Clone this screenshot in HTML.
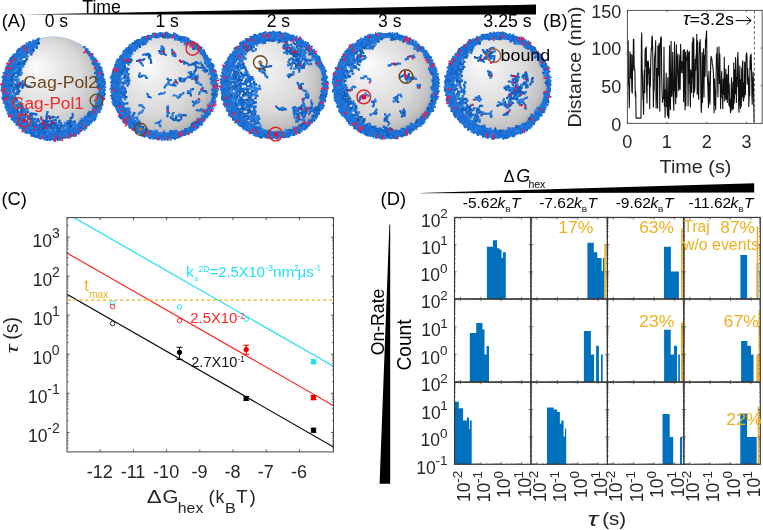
<!DOCTYPE html><html><head><meta charset="utf-8"><style>html,body{margin:0;padding:0;background:#fff;}svg{display:block;will-change:transform;}text{font-family:"Liberation Sans",sans-serif;}</style></head><body>
<svg width="763" height="530" viewBox="0 0 763 530">
<defs><radialGradient id="sph" cx="0.45" cy="0.45" r="0.56" fx="0.33" fy="0.28"><stop offset="0" stop-color="#fcfcfc"/><stop offset="0.3" stop-color="#ebebeb"/><stop offset="0.65" stop-color="#d9d9d9"/><stop offset="0.86" stop-color="#c2c2c2"/><stop offset="1" stop-color="#a2a2a2"/></radialGradient></defs>
<rect width="763" height="530" fill="#fff"/>
<text transform="translate(82.6,12.8) scale(1.011,1)" x="-0.35" font-size="17.5" fill="#000">Time</text>
<polygon points="24,14.6 536,4.6 536,14.6" fill="#000"/>
<text transform="translate(2.9,26.6) scale(1.034,1)" x="-1.05" font-size="17.5" fill="#000">(A)</text>
<text transform="translate(45.4,26.8)" x="-0.7" font-size="17.5" fill="#000">0 s</text>
<text transform="translate(156.8,26.8)" x="-1.31" font-size="17.5" fill="#000">1 s</text>
<text transform="translate(267.5,26.5)" x="-0.88" font-size="17.5" fill="#000">2 s</text>
<text transform="translate(378.8,26.5)" x="-0.7" font-size="17.5" fill="#000">3 s</text>
<text transform="translate(484,26.5) scale(1.018,1)" x="-0.7" font-size="17.5" fill="#000">3.25 s</text>
<circle cx="53.3" cy="88.3" r="51.3" fill="url(#sph)"/>
<path fill="#1e72d6" fill-rule="evenodd" d="M104.9,88.3 L104.9,86.5 L104.8,84.7 L104.6,82.9 L104.4,81.1 L104.1,79.3 L103.8,77.6 L103.4,75.8 L102.9,74.1 L102.4,72.4 L101.8,70.7 L101.1,69.0 L100.4,67.3 L99.7,65.7 L98.9,64.1 L98.0,62.5 L97.1,61.0 L96.1,59.4 L95.0,58.0 L94.0,56.5 L92.8,55.1 L91.6,53.8 L90.4,52.5 L89.1,51.2 L87.8,50.0 L86.5,48.8 L85.1,47.6 L83.6,46.6 L82.2,45.5 L80.6,44.5 L79.1,43.6 L77.5,42.7 L75.9,41.9 L74.3,41.2 L72.6,40.5 L70.9,39.8 L69.2,39.2 L67.5,38.7 L65.8,38.2 L64.0,37.8 L62.3,37.5 L60.5,37.2 L58.7,37.0 L56.9,36.8 L55.1,36.7 L53.3,36.7 L51.5,36.7 L49.7,36.8 L47.9,37.0 L46.1,37.2 L44.3,37.5 L42.6,37.8 L40.8,38.2 L39.1,38.7 L37.4,39.2 L35.7,39.8 L34.0,40.5 L32.3,41.2 L30.7,41.9 L29.1,42.7 L27.5,43.6 L26.0,44.5 L24.4,45.5 L23.0,46.6 L21.5,47.6 L20.1,48.8 L18.8,50.0 L17.5,51.2 L16.2,52.5 L15.0,53.8 L13.8,55.1 L12.6,56.5 L11.6,58.0 L10.5,59.4 L9.5,61.0 L8.6,62.5 L7.7,64.1 L6.9,65.7 L6.2,67.3 L5.5,69.0 L4.8,70.7 L4.2,72.4 L3.7,74.1 L3.2,75.8 L2.8,77.6 L2.5,79.3 L2.2,81.1 L2.0,82.9 L1.8,84.7 L1.7,86.5 L1.7,88.3 L1.7,90.1 L1.8,91.9 L2.0,93.7 L2.2,95.5 L2.5,97.3 L2.8,99.0 L3.2,100.8 L3.7,102.5 L4.2,104.2 L4.8,105.9 L5.5,107.6 L6.2,109.3 L6.9,110.9 L7.7,112.5 L8.6,114.1 L9.5,115.6 L10.5,117.2 L11.6,118.6 L12.6,120.1 L13.8,121.5 L15.0,122.8 L16.2,124.1 L17.5,125.4 L18.8,126.6 L20.1,127.8 L21.5,129.0 L23.0,130.0 L24.4,131.1 L26.0,132.1 L27.5,133.0 L29.1,133.9 L30.7,134.7 L32.3,135.4 L34.0,136.1 L35.7,136.8 L37.4,137.4 L39.1,137.9 L40.8,138.4 L42.6,138.8 L44.3,139.1 L46.1,139.4 L47.9,139.6 L49.7,139.8 L51.5,139.9 L53.3,139.9 L55.1,139.9 L56.9,139.8 L58.7,139.6 L60.5,139.4 L62.3,139.1 L64.0,138.8 L65.8,138.4 L67.5,137.9 L69.2,137.4 L70.9,136.8 L72.6,136.1 L74.3,135.4 L75.9,134.7 L77.5,133.9 L79.1,133.0 L80.6,132.1 L82.2,131.1 L83.6,130.0 L85.1,129.0 L86.5,127.8 L87.8,126.6 L89.1,125.4 L90.4,124.1 L91.6,122.8 L92.8,121.5 L94.0,120.1 L95.0,118.6 L96.1,117.2 L97.1,115.6 L98.0,114.1 L98.9,112.5 L99.7,110.9 L100.4,109.3 L101.1,107.6 L101.8,105.9 L102.4,104.2 L102.9,102.5 L103.4,100.8 L103.8,99.0 L104.1,97.3 L104.4,95.5 L104.6,93.7 L104.8,91.9 L104.9,90.1ZM98.7,89.9 L98.8,91.5 L98.7,93.1 L98.4,94.6 L97.8,96.1 L97.0,97.6 L96.2,99.0 L95.7,100.5 L95.4,102.0 L95.2,103.5 L95.0,105.1 L94.5,106.6 L93.7,108.0 L92.7,109.3 L91.7,110.5 L90.5,111.5 L89.4,112.6 L88.4,113.8 L87.4,114.9 L86.2,115.9 L84.8,116.7 L83.7,117.7 L82.7,118.7 L81.6,119.7 L80.5,120.7 L79.7,122.1 L78.7,123.3 L77.3,123.9 L75.7,124.2 L74.5,124.9 L73.2,125.6 L71.8,126.3 L70.5,126.9 L69.1,127.5 L67.8,128.0 L66.4,128.5 L65.0,129.0 L63.5,129.3 L62.1,129.7 L60.6,130.0 L59.2,130.2 L57.7,130.4 L56.3,130.5 L54.8,130.6 L53.3,130.6 L51.8,130.6 L50.3,130.5 L48.9,130.4 L47.4,130.2 L46.0,130.0 L44.5,129.7 L43.1,129.3 L41.6,129.0 L40.2,128.5 L38.8,128.0 L37.5,127.5 L36.1,126.9 L34.8,126.3 L33.4,125.6 L32.1,124.9 L30.9,124.2 L29.6,123.4 L28.4,122.5 L27.3,121.6 L26.1,120.7 L25.0,119.7 L23.9,118.7 L22.9,117.7 L21.9,116.6 L20.9,115.5 L20.0,114.3 L19.1,113.2 L18.2,112.0 L17.4,110.7 L16.7,109.5 L16.0,108.2 L15.3,106.8 L14.7,105.5 L14.1,104.1 L13.6,102.8 L13.1,101.4 L12.6,100.0 L12.3,98.5 L11.9,97.1 L11.6,95.6 L11.4,94.2 L11.2,92.7 L11.1,91.3 L11.0,89.8 L11.0,88.3 L11.0,86.8 L11.1,85.3 L11.2,83.9 L11.4,82.4 L11.6,81.0 L11.9,79.5 L12.3,78.1 L12.6,76.6 L13.1,75.2 L13.6,73.8 L14.1,72.5 L14.7,71.1 L15.3,69.8 L16.0,68.4 L16.7,67.2 L17.4,65.9 L18.2,64.6 L19.1,63.4 L20.0,62.3 L20.9,61.1 L21.9,60.0 L22.9,58.9 L23.9,57.9 L25.0,56.9 L26.1,55.9 L27.3,55.0 L28.4,54.1 L29.6,53.2 L30.9,52.4 L32.2,51.7 L33.2,50.5 L34.2,49.1 L35.3,47.9 L36.6,46.9 L37.8,45.8 L38.6,42.9 L39.5,40.1 L40.9,38.5 L42.6,38.1 L44.4,37.8 L46.2,37.5 L47.9,37.3 L49.7,37.1 L51.5,37.0 L53.3,37.0 L55.1,37.0 L56.9,37.1 L58.7,37.3 L60.4,37.5 L62.2,37.8 L64.0,38.1 L65.7,38.5 L67.4,39.0 L69.2,39.5 L70.8,40.1 L72.5,40.7 L74.2,41.4 L75.8,42.2 L77.4,43.0 L79.0,43.9 L80.5,44.8 L82.0,45.8 L83.5,46.8 L84.6,48.2 L85.3,50.2 L85.8,52.2 L86.8,53.6 L87.8,54.9 L88.9,56.3 L89.9,57.6 L90.7,59.1 L91.4,60.6 L92.1,62.1 L92.7,63.7 L93.3,65.2 L94.1,66.6 L94.8,68.1 L95.3,69.6 L95.6,71.2 L95.7,72.9 L95.8,74.5 L95.9,76.1 L96.2,77.6 L96.8,79.1 L97.5,80.5 L98.0,82.0 L98.4,83.6 L98.5,85.1 L98.6,86.7 L98.6,88.3Z"/>
<path fill="#1b6fd6" d="M30.8 50.7h2.7v2.6h-2.7zM23.7 55.6h2.5v2.4h-2.5zM21.6 60.3h2.7v2.3h-2.7zM20.7 62.7h2.8v2.3h-2.8zM15.8 66.7h2.7v2.6h-2.7zM13.5 71.7h2.5v2.8h-2.5zM18.9 73.9h2.6v2.4h-2.6zM15.8 75.9h2.7v2.5h-2.7zM12.8 78.6h2.5v2.2h-2.5zM14.4 78.8h2.7v2.6h-2.7zM18.4 81.2h2.2v2.3h-2.2zM96.0 81.0h2.5v2.4h-2.5zM12.7 82.8h2.2v2.3h-2.2zM16.9 82.6h2.8v2.8h-2.8zM18.2 85.3h2.2v2.7h-2.2zM16.1 90.2h2.8v2.4h-2.8zM12.6 92.0h2.2v2.5h-2.2zM97.6 92.1h2.4v2.3h-2.4zM13.3 99.5h2.4v2.4h-2.4zM17.5 101.6h2.3v2.9h-2.3zM16.0 103.8h2.7v2.4h-2.7zM14.5 106.4h2.2v2.2h-2.2zM16.5 105.7h2.9v2.5h-2.9zM21.5 106.4h2.7v2.3h-2.7zM92.3 105.8h2.9v2.6h-2.9zM22.8 107.9h2.5v2.6h-2.5zM21.6 110.9h2.7v2.5h-2.7zM23.6 110.6h2.5v2.3h-2.5zM25.0 113.0h2.6v2.3h-2.6zM22.1 115.0h2.2v2.5h-2.2zM23.5 115.1h2.7v2.5h-2.7zM26.4 115.5h2.4v2.7h-2.4zM30.7 114.8h2.3v2.8h-2.3zM84.0 115.5h2.3v2.4h-2.3zM23.0 117.2h2.7v2.8h-2.7zM33.9 117.9h2.4v2.4h-2.4zM36.5 117.9h2.7v2.5h-2.7zM35.6 119.8h2.8v2.8h-2.8zM37.3 119.4h2.9v2.7h-2.9zM44.2 119.9h2.9v2.8h-2.9zM34.0 121.9h2.8v2.3h-2.8zM38.7 122.6h2.8v2.2h-2.8zM40.8 122.3h2.9v2.9h-2.9zM43.4 122.2h2.6v2.5h-2.6zM46.0 122.3h2.5v2.4h-2.5zM54.9 121.8h2.5v2.7h-2.5zM59.4 122.1h2.5v2.7h-2.5zM73.5 122.2h2.6v2.4h-2.6zM77.8 122.0h2.5v2.5h-2.5zM32.8 124.2h2.3v2.4h-2.3zM37.8 124.4h2.3v2.7h-2.3zM44.7 124.2h2.3v2.3h-2.3zM63.1 124.6h2.3v2.2h-2.3zM67.3 124.7h2.8v2.6h-2.8zM36.1 126.6h2.8v2.3h-2.8zM41.3 126.9h2.7v2.5h-2.7zM48.4 126.8h2.3v2.5h-2.3zM59.4 127.0h2.4v2.6h-2.4zM62.2 126.7h2.6v2.6h-2.6zM65.9 126.9h2.8v2.8h-2.8zM46.9 128.8h2.6v2.7h-2.6zM51.8 129.1h2.3v2.5h-2.3zM56.6 139.6h1.5v1.6h-1.5zM37.9 137.5h1.4v1.5h-1.4zM102.1 104.1h1.4v1.5h-1.4zM4.5 69.5h1.7v1.4h-1.7zM102.8 98.2h1.7v1.6h-1.7zM104.3 89.0h1.7v1.6h-1.7zM20.1 46.6h1.7v1.5h-1.7zM85.5 126.6h1.5v1.6h-1.5zM74.3 134.4h2.0v1.9h-2.0zM99.9 68.8h2.0v1.4h-2.0zM99.3 65.9h1.6v1.5h-1.6zM8.6 114.4h2.0v1.5h-2.0zM101.7 71.0h1.6v1.7h-1.6zM30.6 134.1h2.0v2.0h-2.0zM26.7 43.1h1.8v1.7h-1.8zM102.5 73.2h1.7v1.8h-1.7zM73.9 134.2h1.9v1.9h-1.9zM103.9 83.1h1.7v1.9h-1.7zM34.9 136.0h1.4v2.0h-1.4zM25.2 131.2h1.7v1.9h-1.7zM43.4 137.8h1.8v1.9h-1.8zM36.2 39.1h2.0v1.4h-2.0zM53.5 139.7h1.6v1.4h-1.6zM8.2 113.6h1.7v1.4h-1.7zM100.4 68.3h2.0v1.7h-2.0zM8.1 114.1h1.7v1.4h-1.7zM39.7 138.0h1.8v1.8h-1.8zM37.4 38.1h1.7v1.4h-1.7zM100.3 66.7h2.0v1.7h-2.0zM88.0 124.7h1.8v1.4h-1.8zM91.9 53.5h1.8v1.8h-1.8zM103.7 93.1h1.5v2.0h-1.5zM5.2 107.6h1.4v1.5h-1.4zM100.3 107.7h1.8v1.8h-1.8zM4.8 67.1h1.4v1.6h-1.4zM83.4 128.4h1.6v1.7h-1.6zM98.6 111.2h1.5v1.8h-1.5zM99.2 111.1h1.5v1.9h-1.5zM93.6 118.5h1.3v1.6h-1.3zM104.1 89.1h1.3v1.5h-1.3zM25.7 42.3h1.4v2.0h-1.4zM13.7 121.0h1.8v1.3h-1.8zM1.3 97.8h1.9v1.5h-1.9zM1.8 80.6h1.9v1.6h-1.9zM98.8 65.6h1.3v1.8h-1.3zM87.0 48.6h1.6v1.3h-1.6zM82.8 46.5h1.3v1.4h-1.3zM12.4 53.8h1.7v1.5h-1.7zM103.3 85.2h2.0v1.7h-2.0zM18.0 48.0h1.9v1.6h-1.9zM43.6 138.3h1.4v1.9h-1.4zM101.3 104.8h1.4v1.8h-1.4zM100.4 68.2h2.0v2.0h-2.0zM53.0 138.6h1.6v1.9h-1.6zM19.2 48.0h1.7v1.6h-1.7zM5.0 66.8h1.7v1.5h-1.7zM2.2 76.2h1.5v1.7h-1.5zM46.7 138.9h1.3v2.0h-1.3zM103.5 78.7h1.9v1.7h-1.9zM2.7 72.0h1.8v1.9h-1.8zM6.2 64.6h1.6v1.7h-1.6zM94.6 57.8h1.9v1.5h-1.9zM29.7 41.6h1.4v1.7h-1.4zM3.0 100.2h1.4v1.3h-1.4zM91.3 53.1h1.6v1.7h-1.6zM8.1 114.2h1.5v1.7h-1.5zM103.6 93.1h1.4v1.8h-1.4zM0.8 86.9h1.6v1.5h-1.6zM83.8 129.4h2.0v1.3h-2.0zM103.3 98.2h1.9v1.4h-1.9zM57.2 138.4h1.4v1.8h-1.4zM18.3 125.6h1.9v1.6h-1.9zM2.8 75.2h1.5v1.5h-1.5zM77.7 133.2h1.6v1.8h-1.6zM35.4 136.7h1.8v1.3h-1.8zM98.7 63.0h1.7v2.0h-1.7zM102.1 75.3h2.0v1.5h-2.0zM29.3 41.3h1.8v1.5h-1.8zM21.9 46.6h1.6v1.4h-1.6zM69.5 137.0h1.7v1.5h-1.7zM101.4 102.3h1.8v1.9h-1.8zM9.6 115.6h1.4v1.4h-1.4zM9.8 58.0h1.7v1.9h-1.7zM102.7 95.6h1.9v1.7h-1.9zM8.2 113.3h1.7v1.9h-1.7zM39.1 136.8h1.3v1.9h-1.3zM100.9 106.8h1.4v1.6h-1.4zM2.1 76.3h1.5v1.8h-1.5zM88.9 50.9h1.5v1.6h-1.5zM11.8 119.6h1.8v1.3h-1.8zM16.2 124.0h1.6v1.6h-1.6zM103.3 79.2h1.4v1.8h-1.4zM97.0 62.6h2.0v1.4h-2.0zM1.5 96.6h1.7v1.7h-1.7zM104.5 86.6h1.8v1.7h-1.8zM85.3 48.0h2.0v1.9h-2.0zM1.4 97.4h2.0v1.6h-2.0zM6.8 112.5h1.3v2.0h-1.3zM0.3 84.6h1.6v1.5h-1.6zM16.5 123.6h1.6v1.8h-1.6zM1.3 86.5h1.3v1.5h-1.3zM6.2 64.6h1.7v1.9h-1.7zM5.4 67.1h1.3v1.4h-1.3zM13.4 120.9h1.7v2.0h-1.7zM22.1 83.5h2.0v2.5h-2.0zM16.6 86.1h2.1v2.2h-2.1zM14.9 86.0h2.3v2.3h-2.3zM21.9 83.0h2.5v2.2h-2.5zM16.5 85.4h2.1v2.2h-2.1zM25.3 84.4h2.1v2.4h-2.1zM26.8 85.6h2.0v2.4h-2.0zM14.5 61.1h2.2v2.4h-2.2zM12.5 63.7h2.0v2.3h-2.0zM10.7 64.5h2.0v2.1h-2.0zM19.2 63.8h2.0v2.5h-2.0zM17.8 60.6h2.2v2.0h-2.2zM19.4 62.3h2.4v2.2h-2.4zM16.4 62.3h2.3v2.1h-2.3zM45.9 114.9h2.4v2.2h-2.4zM46.3 111.1h2.3v2.4h-2.3zM44.1 129.5h2.5v2.1h-2.5zM50.1 116.6h2.4v2.2h-2.4zM48.5 115.6h2.4v2.1h-2.4zM45.0 119.4h2.2v2.1h-2.2zM41.4 124.5h2.1v2.4h-2.1zM53.6 116.3h2.0v2.0h-2.0zM44.2 119.8h2.0v2.0h-2.0zM45.4 118.3h2.3v2.3h-2.3zM46.3 116.6h1.9v2.0h-1.9zM49.0 123.3h2.4v2.2h-2.4zM52.4 122.7h2.5v2.4h-2.5zM66.3 121.0h2.1v2.2h-2.1zM71.8 114.5h2.2v2.4h-2.2zM71.6 112.7h2.1v2.3h-2.1zM75.5 125.4h2.2v2.1h-2.2zM71.4 121.0h2.0v2.1h-2.0zM32.4 128.9h1.9v2.1h-1.9zM30.0 131.9h2.2v2.2h-2.2zM35.7 130.9h1.9v2.0h-1.9zM37.4 133.8h2.2v2.5h-2.2zM39.2 134.1h2.3v2.3h-2.3zM31.7 123.5h2.0v1.9h-2.0zM33.5 123.9h2.0v2.4h-2.0zM35.3 129.0h1.9v2.2h-1.9zM34.3 126.9h2.0v2.2h-2.0zM33.3 130.2h1.9v2.4h-1.9zM36.3 128.3h2.2v2.0h-2.2zM36.2 126.4h2.0v2.0h-2.0zM35.7 124.3h2.4v2.4h-2.4zM35.4 132.8h1.9v2.0h-1.9zM36.6 134.3h1.9v2.1h-1.9zM38.6 127.9h2.1v2.0h-2.1zM32.5 125.6h2.4v2.1h-2.4zM33.0 122.4h2.0v2.0h-2.0zM34.6 122.5h2.4v2.2h-2.4z"/>
<path fill="#1565c8" d="M37.7 37.6h1.8v1.5h-1.8zM35.7 46.6h2.4v2.4h-2.4zM26.9 51.6h1.8v1.5h-1.8zM86.3 50.9h2.1v2.0h-2.1zM29.8 53.0h2.7v2.5h-2.7zM26.4 55.2h2.2v2.4h-2.2zM23.8 60.0h2.9v2.4h-2.9zM91.6 62.2h2.5v2.6h-2.5zM11.8 67.3h1.5v2.2h-1.5zM18.2 66.7h2.5v2.8h-2.5zM99.4 67.1h1.6v1.7h-1.6zM8.0 69.1h1.8v2.1h-1.8zM17.4 69.6h2.4v2.5h-2.4zM19.1 68.8h2.8v2.7h-2.8zM95.5 69.6h2.0v1.5h-2.0zM97.6 69.3h1.9v1.9h-1.9zM100.4 69.1h1.9v2.1h-1.9zM4.4 71.7h1.7v2.0h-1.7zM9.3 71.7h1.9v2.1h-1.9zM15.6 71.3h2.6v2.7h-2.6zM17.9 71.4h2.8v2.5h-2.8zM93.8 71.7h2.8v2.5h-2.8zM97.0 71.7h1.8v1.5h-1.8zM16.7 73.6h2.4v2.4h-2.4zM99.7 74.2h2.0v2.0h-2.0zM102.3 73.9h1.8v1.8h-1.8zM4.4 76.7h1.8v2.1h-1.8zM3.3 78.7h2.2v2.1h-2.2zM11.0 81.1h2.9v2.2h-2.9zM101.4 80.6h1.8v2.1h-1.8zM103.8 80.9h2.1v1.5h-2.1zM8.1 83.8h1.7v1.6h-1.7zM14.9 83.4h2.3v2.6h-2.3zM18.9 83.4h2.5v2.3h-2.5zM2.8 85.4h1.8v1.9h-1.8zM13.6 85.4h2.3v2.9h-2.3zM101.4 85.6h1.6v2.0h-1.6zM1.7 87.7h1.6v2.0h-1.6zM12.5 87.5h2.7v2.8h-2.7zM15.0 87.3h2.7v2.4h-2.7zM16.9 87.1h2.6v2.8h-2.6zM99.9 87.5h1.6v2.1h-1.6zM11.4 89.7h2.3v2.3h-2.3zM103.5 90.1h1.7v1.9h-1.7zM4.1 92.4h1.5v1.9h-1.5zM14.9 92.2h2.8v2.9h-2.8zM17.0 92.2h2.3v2.8h-2.3zM4.5 95.2h2.1v1.8h-2.1zM6.6 95.1h2.0v1.6h-2.0zM11.5 95.0h2.5v2.3h-2.5zM96.5 94.2h2.7v2.9h-2.7zM103.3 94.7h1.9v1.6h-1.9zM3.2 97.5h2.0v1.6h-2.0zM10.6 97.5h1.8v1.8h-1.8zM2.8 99.5h1.6v1.8h-1.6zM15.4 98.8h2.7v2.7h-2.7zM5.6 101.9h1.8v1.9h-1.8zM7.1 103.7h1.5v1.9h-1.5zM18.6 103.4h2.3v2.9h-2.3zM16.2 108.6h2.4v2.8h-2.4zM99.1 109.1h2.2v1.5h-2.2zM10.6 111.2h1.8v1.7h-1.8zM13.0 111.1h1.9v2.0h-1.9zM19.5 110.8h2.5v2.4h-2.5zM26.3 110.6h2.8v2.3h-2.8zM88.4 111.0h2.5v2.2h-2.5zM91.2 110.9h2.0v1.8h-2.0zM20.1 112.7h2.5v2.8h-2.5zM31.7 112.5h2.8v2.6h-2.8zM34.5 113.0h2.8v2.7h-2.8zM28.7 114.8h2.6v2.8h-2.6zM88.6 115.3h1.7v1.7h-1.7zM18.8 117.9h1.5v1.7h-1.5zM27.1 117.5h2.9v2.5h-2.9zM32.0 117.5h2.4v2.6h-2.4zM22.4 120.6h1.6v1.9h-1.6zM24.2 120.1h1.6v1.9h-1.6zM26.1 120.1h2.2v2.6h-2.2zM49.6 119.7h2.3v2.6h-2.3zM51.5 119.6h2.6v2.7h-2.6zM58.1 119.7h2.7v2.7h-2.7zM79.4 119.7h2.4v2.2h-2.4zM81.8 120.3h1.6v1.5h-1.6zM88.7 120.3h2.0v1.4h-2.0zM20.8 122.9h1.6v1.5h-1.6zM31.9 121.9h2.4v2.4h-2.4zM52.3 121.8h2.5v2.5h-2.5zM26.3 125.2h2.1v1.7h-2.1zM35.8 124.2h2.4v2.6h-2.4zM40.0 124.0h2.6v2.8h-2.6zM42.4 124.5h2.6v2.8h-2.6zM56.2 124.5h2.6v2.4h-2.6zM43.2 126.8h2.3v2.7h-2.3zM46.2 127.2h2.2v2.4h-2.2zM50.3 126.9h2.3v2.9h-2.3zM52.5 126.8h2.4v2.5h-2.4zM55.2 126.9h2.7v2.5h-2.7zM78.4 126.8h2.1v1.9h-2.1zM85.3 127.1h1.9v1.8h-1.9zM28.8 129.3h1.9v1.5h-1.9zM40.4 129.5h1.5v1.7h-1.5zM43.1 129.5h1.5v2.0h-1.5zM55.7 129.4h2.8v2.2h-2.8zM58.7 129.1h2.4v2.6h-2.4zM25.0 131.7h1.9v2.0h-1.9zM32.2 131.8h1.5v1.5h-1.5zM57.5 131.9h1.5v2.1h-1.5zM68.8 131.2h1.9v2.1h-1.9zM74.0 131.9h1.7v1.7h-1.7zM78.5 132.0h1.8v1.5h-1.8zM37.8 133.6h1.8v1.9h-1.8zM34.4 136.1h1.7v1.5h-1.7zM36.6 136.3h2.2v1.5h-2.2zM46.3 136.1h1.5v1.9h-1.5zM57.5 136.1h1.7v2.2h-1.7zM49.8 138.7h2.0v2.1h-2.0zM2.0 75.4h1.4v1.8h-1.4zM49.7 138.8h1.3v1.9h-1.3zM35.4 135.8h1.5v1.9h-1.5zM56.8 138.3h1.4v1.8h-1.4zM102.2 73.0h1.4v1.7h-1.4zM104.0 81.4h1.6v1.6h-1.6zM29.5 41.1h1.4v1.9h-1.4zM44.2 138.6h1.9v1.4h-1.9zM15.5 123.3h1.4v1.7h-1.4zM10.0 57.1h1.5v1.9h-1.5zM1.8 97.6h1.7v1.9h-1.7zM103.5 97.5h1.6v1.5h-1.6zM25.7 131.1h1.5v1.9h-1.5zM16.3 50.1h2.0v1.9h-2.0zM93.6 120.0h1.7v1.5h-1.7zM48.4 138.9h1.9v1.6h-1.9zM101.4 102.4h1.3v2.0h-1.3zM31.9 134.5h1.8v1.9h-1.8zM84.1 46.1h1.9v1.3h-1.9zM21.9 45.3h1.6v2.0h-1.6zM10.7 118.1h1.6v1.8h-1.6zM60.2 138.6h1.3v1.3h-1.3zM95.7 115.3h1.4v1.7h-1.4zM2.6 102.1h1.8v1.3h-1.8zM8.2 59.7h1.4v2.0h-1.4zM23.6 131.3h2.0v1.4h-2.0zM15.5 124.1h1.9v1.6h-1.9zM56.9 138.8h1.4v1.5h-1.4zM103.1 78.2h1.4v1.5h-1.4zM71.9 134.7h1.5v1.8h-1.5zM103.6 84.3h1.6v1.3h-1.6zM5.6 109.5h1.4v1.8h-1.4zM3.5 101.9h1.5v1.8h-1.5zM23.8 44.2h1.4v1.7h-1.4zM21.4 128.6h1.3v1.8h-1.3zM32.6 135.1h1.7v1.9h-1.7zM30.6 135.0h1.8v1.7h-1.8zM27.8 41.6h1.8v1.4h-1.8zM17.1 48.9h1.8v1.9h-1.8zM94.7 118.0h1.6v1.9h-1.6zM0.7 89.2h1.7v1.6h-1.7zM53.3 139.6h1.9v1.8h-1.9zM94.9 59.2h1.7v1.3h-1.7zM46.3 138.7h1.5v1.7h-1.5zM103.1 95.3h1.4v1.5h-1.4zM18.1 48.6h1.8v1.6h-1.8zM31.5 134.4h1.3v1.7h-1.3zM87.8 50.4h1.5v1.8h-1.5zM104.0 93.0h2.0v1.7h-2.0zM102.9 97.7h1.7v2.0h-1.7zM32.3 39.5h1.9v1.5h-1.9zM12.5 55.1h1.4v1.8h-1.4zM1.4 76.8h2.0v1.5h-2.0zM2.6 75.7h2.0v1.4h-2.0zM35.8 38.7h1.4v1.7h-1.4zM104.3 83.0h1.5v1.7h-1.5zM9.3 58.0h1.9v1.5h-1.9zM9.5 59.1h1.6v1.3h-1.6zM27.4 132.5h1.7v1.4h-1.7zM73.4 135.6h1.5v1.4h-1.5zM49.1 138.9h1.4v2.0h-1.4zM10.6 56.8h2.0v1.6h-2.0zM91.0 121.6h1.4v1.7h-1.4zM11.4 55.7h1.8v1.8h-1.8zM17.8 49.3h1.6v1.4h-1.6zM95.1 116.3h1.4v1.4h-1.4zM0.4 89.9h1.5v1.4h-1.5zM16.0 51.9h1.4v1.6h-1.4zM57.2 138.6h1.4v1.8h-1.4zM22.1 45.3h1.7v1.6h-1.7zM4.5 106.2h1.6v1.9h-1.6zM22.1 85.6h2.2v2.0h-2.2zM21.2 81.9h2.2v2.3h-2.2zM21.6 80.2h2.2v2.0h-2.2zM17.8 84.9h2.5v2.1h-2.5zM18.9 82.0h2.3v2.0h-2.3zM16.7 86.6h2.4v2.1h-2.4zM21.5 85.0h2.4v2.0h-2.4zM14.7 86.5h2.4v2.0h-2.4zM12.6 89.4h2.3v2.3h-2.3zM21.4 84.9h2.1v2.1h-2.1zM19.9 83.8h1.9v2.1h-1.9zM18.3 65.5h2.1v2.4h-2.1zM20.5 60.7h2.3v2.3h-2.3zM15.6 65.6h1.9v2.2h-1.9zM16.6 64.1h2.4v2.3h-2.4zM45.9 113.1h1.9v2.0h-1.9zM45.0 124.3h2.0v2.4h-2.0zM43.6 127.6h2.2v2.5h-2.2zM45.5 117.5h2.0v2.1h-2.0zM43.6 122.3h2.3v2.1h-2.3zM44.2 126.7h2.5v2.4h-2.5zM45.2 123.6h2.0v1.9h-2.0zM39.9 126.0h2.3v2.1h-2.3zM51.8 115.7h2.0v2.3h-2.0zM56.8 115.9h2.3v2.3h-2.3zM53.5 124.6h2.0v2.0h-2.0zM66.8 122.8h2.2v2.2h-2.2zM68.2 120.8h1.9v2.2h-1.9zM69.9 124.1h2.5v2.2h-2.5zM71.7 121.4h2.2v2.1h-2.2zM68.4 120.8h2.0v2.0h-2.0zM71.0 116.3h2.2v2.4h-2.2zM69.4 120.7h2.2v2.1h-2.2zM72.0 122.7h2.0v2.3h-2.0zM31.4 130.4h2.0v2.5h-2.0zM34.3 125.5h2.5v2.5h-2.5zM33.9 127.8h2.0v2.2h-2.0zM35.3 130.1h1.9v2.2h-1.9zM34.5 128.8h1.9v2.3h-1.9zM37.3 131.1h2.4v2.4h-2.4zM37.8 129.5h2.1v2.0h-2.1zM38.7 125.9h2.5v2.3h-2.5zM37.1 129.0h2.2v2.3h-2.2z"/>
<path fill="#2a80e0" d="M29.1 42.3h1.9v1.9h-1.9zM31.1 41.8h1.5v1.5h-1.5zM34.3 44.6h2.1v1.9h-2.1zM27.7 48.8h1.8v1.9h-1.8zM19.3 51.2h2.2v1.9h-2.2zM14.0 52.9h2.0v2.2h-2.0zM23.0 53.4h2.2v2.0h-2.2zM17.6 56.2h1.7v1.5h-1.7zM16.5 57.7h1.6v2.1h-1.6zM18.8 58.0h1.7v1.8h-1.7zM89.9 57.7h2.3v2.4h-2.3zM17.5 60.3h2.1v2.2h-2.1zM18.9 60.0h2.9v2.7h-2.9zM16.1 62.3h1.7v1.8h-1.7zM96.4 62.6h1.5v1.5h-1.5zM19.7 64.4h2.2v2.4h-2.2zM21.6 65.0h2.8v2.5h-2.8zM20.0 66.8h2.6v2.4h-2.6zM97.0 67.4h1.5v2.0h-1.5zM14.9 69.3h2.8v2.6h-2.8zM11.3 71.7h1.6v1.6h-1.6zM20.5 71.7h2.4v2.7h-2.4zM3.9 74.1h1.6v2.1h-1.6zM98.4 74.4h1.5v2.2h-1.5zM7.4 76.1h1.4v2.1h-1.4zM13.7 75.9h2.5v2.5h-2.5zM94.0 75.8h2.5v2.4h-2.5zM17.1 78.5h2.6v2.6h-2.6zM2.7 80.9h1.9v1.6h-1.9zM9.4 81.3h2.1v2.0h-2.1zM15.8 81.1h2.5v2.3h-2.5zM98.7 81.3h1.9v1.9h-1.9zM102.7 82.9h1.7v2.1h-1.7zM10.2 87.6h2.7v2.2h-2.7zM102.9 88.2h1.6v1.9h-1.6zM6.9 90.5h1.6v2.1h-1.6zM98.7 90.3h1.6v1.5h-1.6zM101.1 90.2h1.9v1.8h-1.9zM1.8 92.8h1.4v1.9h-1.4zM9.6 91.7h2.7v2.8h-2.7zM9.5 94.4h1.9v2.0h-1.9zM13.4 94.3h2.7v2.8h-2.7zM7.1 99.7h2.1v1.7h-2.1zM11.4 99.0h2.9v2.3h-2.9zM93.8 99.4h2.6v2.3h-2.6zM96.6 99.1h2.2v2.0h-2.2zM3.8 101.8h2.1v1.8h-2.1zM8.0 101.5h2.2v1.9h-2.2zM14.4 101.1h2.4v2.4h-2.4zM19.5 101.5h2.4v2.8h-2.4zM13.3 104.0h2.7v2.3h-2.7zM94.5 104.3h2.1v1.4h-2.1zM98.7 103.9h1.8v1.7h-1.8zM12.8 106.6h1.9v2.0h-1.9zM6.9 108.4h1.8v2.0h-1.8zM9.4 108.9h2.1v1.9h-2.1zM25.3 108.0h2.8v2.4h-2.8zM92.2 107.9h2.3v2.7h-2.3zM15.1 111.2h1.7v1.5h-1.7zM95.8 110.8h2.0v2.1h-2.0zM7.3 113.0h1.9v1.7h-1.9zM16.7 113.1h1.4v2.0h-1.4zM94.7 113.3h1.9v1.5h-1.9zM95.2 115.6h2.1v1.8h-2.1zM80.7 117.5h2.2v2.5h-2.2zM87.5 118.4h1.9v1.5h-1.9zM89.4 118.0h1.8v2.1h-1.8zM15.1 120.1h1.9v1.5h-1.9zM32.6 119.8h2.8v2.4h-2.8zM29.4 121.7h2.7v2.8h-2.7zM57.7 122.4h2.3v2.4h-2.3zM63.8 122.1h2.6v2.5h-2.6zM71.3 122.7h2.7v2.2h-2.7zM83.2 122.0h1.6v2.1h-1.6zM90.0 122.2h1.5v2.0h-1.5zM51.3 124.6h2.7v2.4h-2.7zM58.1 124.6h2.6v2.2h-2.6zM64.9 124.5h2.9v2.5h-2.9zM72.2 124.4h2.5v2.7h-2.5zM74.7 124.7h2.1v2.2h-2.1zM86.2 125.1h1.7v1.5h-1.7zM18.6 127.2h2.0v1.9h-2.0zM29.8 127.5h1.6v1.4h-1.6zM34.5 127.0h2.0v1.9h-2.0zM71.2 127.0h1.8v2.0h-1.8zM75.7 126.9h1.9v1.6h-1.9zM27.1 128.9h1.4v2.1h-1.4zM44.6 128.9h2.8v2.8h-2.8zM53.9 129.3h2.5v2.7h-2.5zM66.0 129.4h1.6v1.7h-1.6zM46.2 131.7h2.2v2.1h-2.2zM48.7 131.4h1.4v1.7h-1.4zM50.9 131.6h1.9v1.4h-1.9zM64.4 131.5h1.4v1.5h-1.4zM71.0 131.2h1.7v2.1h-1.7zM40.1 134.2h1.8v1.9h-1.8zM63.3 134.2h1.4v1.4h-1.4zM65.7 133.5h1.4v2.2h-1.4zM44.6 138.8h1.9v1.9h-1.9zM58.7 138.8h2.2v2.1h-2.2zM18.0 85.3h2.5v2.1h-2.5zM14.2 88.2h2.0v2.0h-2.0zM12.6 61.9h2.2v2.1h-2.2zM10.6 66.3h1.9v2.2h-1.9zM16.5 65.7h2.0v2.4h-2.0zM18.9 62.1h2.3v2.1h-2.3zM44.7 126.2h2.4v2.4h-2.4zM52.7 119.5h2.2v2.1h-2.2zM46.6 115.1h2.5v2.4h-2.5zM48.6 125.3h2.0v2.1h-2.0zM46.7 126.0h2.4v2.2h-2.4zM41.6 125.2h2.3v2.1h-2.3zM55.4 116.9h2.0v2.2h-2.0zM42.0 119.4h2.0v2.0h-2.0zM40.1 116.3h2.2v2.3h-2.2zM67.4 120.9h2.2v2.4h-2.2zM69.2 122.4h2.1v2.2h-2.1zM70.3 120.1h1.9v2.4h-1.9zM66.8 119.9h2.0v2.0h-2.0zM72.1 124.6h2.1v2.2h-2.1zM73.7 125.8h2.1v1.9h-2.1zM36.0 132.5h2.2v2.4h-2.2zM41.1 134.7h2.1v2.2h-2.1zM32.4 124.5h2.2v2.3h-2.2zM31.7 129.7h2.3v2.0h-2.3zM33.5 125.2h2.0v2.1h-2.0zM34.5 129.1h2.3v2.3h-2.3zM35.2 130.7h2.4v2.4h-2.4zM31.0 124.2h2.2v1.9h-2.2zM32.5 125.3h2.0v2.2h-2.0zM34.0 126.5h2.1v2.2h-2.1z"/>
<path fill="#0f5bb5" d="M37.2 42.0h2.8v2.4h-2.8zM32.3 49.0h2.4v2.5h-2.4zM25.4 57.7h2.5v2.7h-2.5zM18.2 62.0h2.6v2.8h-2.6zM22.8 62.1h2.6v2.8h-2.6zM12.5 73.9h2.6v2.4h-2.6zM10.9 76.0h2.6v2.7h-2.6zM10.5 78.8h2.6v2.3h-2.6zM95.4 78.2h2.7v2.5h-2.7zM9.9 83.5h2.8v2.2h-2.8zM97.8 83.5h2.2v2.2h-2.2zM11.0 85.3h2.7v2.3h-2.7zM16.0 85.2h2.6v2.4h-2.6zM96.5 85.1h2.8v2.8h-2.8zM17.8 89.8h2.7v2.8h-2.7zM12.3 97.3h2.6v2.2h-2.6zM14.9 97.1h2.2v2.8h-2.2zM12.2 101.3h2.5v2.6h-2.5zM20.1 104.2h2.8v2.2h-2.8zM19.5 106.2h2.5v2.4h-2.5zM20.4 108.4h2.8v2.9h-2.8zM16.8 110.6h2.4v2.7h-2.4zM29.3 112.6h2.8v2.5h-2.8zM87.1 112.6h2.5v2.8h-2.5zM29.3 117.4h2.8v2.7h-2.8zM30.8 120.2h2.3v2.2h-2.3zM42.3 120.0h2.4v2.4h-2.4zM46.6 120.2h2.7v2.4h-2.7zM50.6 121.8h2.6v2.7h-2.6zM66.4 122.5h2.3v2.4h-2.3zM68.6 122.2h2.7v2.6h-2.7zM47.2 124.6h2.4v2.6h-2.4zM49.1 124.7h2.6v2.3h-2.6zM54.2 124.0h2.3v2.8h-2.3zM60.3 124.4h2.7v2.6h-2.7zM69.6 124.7h2.6v2.6h-2.6zM57.5 127.0h2.4v2.4h-2.4zM17.9 83.3h2.0v2.3h-2.0zM21.1 86.9h2.4v1.9h-2.4zM17.5 83.9h2.0v1.9h-2.0zM23.7 83.8h2.0v1.9h-2.0zM28.6 85.5h2.3v2.1h-2.3zM17.9 84.5h2.4v2.1h-2.4zM17.7 63.1h2.2v2.1h-2.2zM49.0 117.4h2.0v2.2h-2.0zM43.4 131.2h2.3v2.3h-2.3zM50.1 124.2h1.9v2.1h-1.9zM51.7 123.1h2.0v2.2h-2.0zM54.5 119.1h2.3v2.1h-2.3zM52.1 116.3h2.0v2.0h-2.0zM45.5 115.5h2.1v2.4h-2.1zM43.7 120.9h2.4v1.9h-2.4zM42.6 126.2h2.1v2.0h-2.1zM41.4 127.5h2.0v2.0h-2.0zM43.3 124.1h2.1v2.2h-2.1zM45.4 120.8h2.3v2.0h-2.3zM43.8 119.9h1.9v2.5h-1.9zM50.8 122.3h2.1v2.1h-2.1zM68.9 120.0h2.4v2.2h-2.4zM68.9 125.8h2.2v2.0h-2.2zM73.5 120.3h2.0v2.4h-2.0zM69.4 117.3h2.3v2.4h-2.3zM31.6 124.3h2.5v2.1h-2.5zM31.9 123.9h1.9v2.2h-1.9z"/>
<path stroke="#e0205a" stroke-width="1.7" fill="none" d="M26.2 48.8L24.2 45.9M27.0 51.4L25.0 48.5M83.6 53.3L86.3 50.2M89.6 55.7L92.2 53.4M16.3 60.2L13.6 58.1M13.1 62.6L10.1 60.7M94.6 62.4L98.1 60.2M10.1 64.7L6.4 62.7M9.6 69.2L5.9 67.6M12.0 68.8L8.8 67.3M93.7 68.8L96.6 67.4M98.3 73.6L101.4 72.6M8.2 75.8L5.2 75.0M3.9 84.2L0.5 83.9M6.3 89.0L2.3 89.1M97.1 88.5L100.9 88.5M5.0 91.3L1.4 91.5M8.6 93.0L5.3 93.4M8.6 97.5L4.6 98.3M95.2 97.4L98.4 98.1M101.0 98.0L105.3 98.9M7.1 99.8L4.0 100.6M93.7 109.1L97.0 110.8M92.6 111.4L95.5 113.1M20.5 113.3L17.8 115.4M10.7 115.3L8.0 117.0M12.5 115.4L9.8 117.1M83.5 124.2L86.0 127.2M24.5 128.7L22.0 132.2M79.5 128.8L81.4 131.8M70.5 133.4L71.8 136.8M74.9 133.2L76.5 136.6M43.1 135.5L42.3 139.0M55.7 135.1L56.0 139.4M67.3 134.9L68.4 138.8M55.0 137.6L55.2 141.8M61.8 137.4L62.4 141.1"/>
<path fill="#d4134a" d="M18.1 82.9h2.4v2.3h-2.4zM47.6 116.0h2.1v2.3h-2.1zM52.1 121.2h2.4v2.4h-2.4zM41.9 121.5h2.5v2.1h-2.5zM41.7 122.9h2.5v2.0h-2.5zM45.0 126.2h2.0v2.3h-2.0zM43.1 127.3h2.3v1.9h-2.3zM47.0 123.5h2.1v2.3h-2.1zM40.3 118.3h2.3v2.2h-2.3zM33.8 126.0h2.1v1.9h-2.1zM33.7 129.1h2.0v2.0h-2.0z"/>
<circle cx="96.5" cy="100.4" r="6.3" fill="none" stroke="#6b4520" stroke-width="1.4"/>
<circle cx="96.5" cy="100.4" r="1.8" fill="#8a6a4a"/>
<circle cx="24.2" cy="120.6" r="6.3" fill="none" stroke="#e8202a" stroke-width="1.4"/>
<circle cx="24.2" cy="120.6" r="2.2" fill="#e01040"/>
<text transform="translate(24.2,88.3) scale(1.035,1)" x="-0.86" font-size="17.1" fill="#6b4520">Gag-Pol2</text>
<text transform="translate(12,109.3) scale(1.007,1)" x="-0.86" font-size="17.1" fill="#ee2a2a">Gag-Pol1</text>
<circle cx="164" cy="86.5" r="53" fill="url(#sph)"/>
<path fill="#1e72d6" fill-rule="evenodd" d="M217.3,86.5 L217.3,84.6 L217.2,82.8 L217.0,80.9 L216.8,79.1 L216.5,77.2 L216.1,75.4 L215.7,73.6 L215.2,71.8 L214.7,70.0 L214.1,68.3 L213.4,66.5 L212.7,64.8 L211.9,63.1 L211.1,61.5 L210.2,59.9 L209.2,58.3 L208.2,56.7 L207.1,55.2 L206.0,53.7 L204.8,52.2 L203.6,50.8 L202.3,49.5 L201.0,48.2 L199.7,46.9 L198.3,45.7 L196.8,44.5 L195.3,43.4 L193.8,42.3 L192.2,41.3 L190.7,40.3 L189.0,39.4 L187.4,38.6 L185.7,37.8 L184.0,37.1 L182.2,36.4 L180.5,35.8 L178.7,35.3 L176.9,34.8 L175.1,34.4 L173.3,34.0 L171.4,33.7 L169.6,33.5 L167.7,33.3 L165.9,33.2 L164.0,33.2 L162.1,33.2 L160.3,33.3 L158.4,33.5 L156.6,33.7 L154.7,34.0 L152.9,34.4 L151.1,34.8 L149.3,35.3 L147.5,35.8 L145.8,36.4 L144.0,37.1 L142.3,37.8 L140.6,38.6 L139.0,39.4 L137.4,40.3 L135.8,41.3 L134.2,42.3 L132.7,43.4 L131.2,44.5 L129.7,45.7 L128.3,46.9 L127.0,48.2 L125.7,49.5 L124.4,50.8 L123.2,52.2 L122.0,53.7 L120.9,55.2 L119.8,56.7 L118.8,58.3 L117.8,59.9 L116.9,61.5 L116.1,63.1 L115.3,64.8 L114.6,66.5 L113.9,68.3 L113.3,70.0 L112.8,71.8 L112.3,73.6 L111.9,75.4 L111.5,77.2 L111.2,79.1 L111.0,80.9 L110.8,82.8 L110.7,84.6 L110.7,86.5 L110.7,88.4 L110.8,90.2 L111.0,92.1 L111.2,93.9 L111.5,95.8 L111.9,97.6 L112.3,99.4 L112.8,101.2 L113.3,103.0 L113.9,104.7 L114.6,106.5 L115.3,108.2 L116.1,109.9 L116.9,111.5 L117.8,113.2 L118.8,114.7 L119.8,116.3 L120.9,117.8 L122.0,119.3 L123.2,120.8 L124.4,122.2 L125.7,123.5 L127.0,124.8 L128.3,126.1 L129.7,127.3 L131.2,128.5 L132.7,129.6 L134.2,130.7 L135.8,131.7 L137.3,132.7 L139.0,133.6 L140.6,134.4 L142.3,135.2 L144.0,135.9 L145.8,136.6 L147.5,137.2 L149.3,137.7 L151.1,138.2 L152.9,138.6 L154.7,139.0 L156.6,139.3 L158.4,139.5 L160.3,139.7 L162.1,139.8 L164.0,139.8 L165.9,139.8 L167.7,139.7 L169.6,139.5 L171.4,139.3 L173.3,139.0 L175.1,138.6 L176.9,138.2 L178.7,137.7 L180.5,137.2 L182.2,136.6 L184.0,135.9 L185.7,135.2 L187.4,134.4 L189.0,133.6 L190.7,132.7 L192.2,131.7 L193.8,130.7 L195.3,129.6 L196.8,128.5 L198.3,127.3 L199.7,126.1 L201.0,124.8 L202.3,123.5 L203.6,122.2 L204.8,120.8 L206.0,119.3 L207.1,117.8 L208.2,116.3 L209.2,114.7 L210.2,113.2 L211.1,111.5 L211.9,109.9 L212.7,108.2 L213.4,106.5 L214.1,104.7 L214.7,103.0 L215.2,101.2 L215.7,99.4 L216.1,97.6 L216.5,95.8 L216.8,93.9 L217.0,92.1 L217.2,90.2 L217.3,88.4ZM212.6,88.2 L213.0,89.9 L213.2,91.7 L213.0,93.4 L212.5,95.1 L212.0,96.7 L211.4,98.3 L210.9,100.0 L210.5,101.6 L209.9,103.2 L209.1,104.7 L208.2,106.2 L207.2,107.6 L206.4,109.0 L205.6,110.5 L205.0,112.1 L204.3,113.7 L203.4,115.1 L202.3,116.4 L201.0,117.6 L199.6,118.6 L198.3,119.6 L197.1,120.8 L196.0,122.0 L194.9,123.3 L193.7,124.5 L192.4,125.6 L191.0,126.5 L189.6,127.4 L188.1,128.3 L186.7,129.2 L185.2,130.0 L183.7,130.8 L182.1,131.2 L180.3,131.3 L178.5,131.2 L176.8,131.1 L175.1,131.1 L173.5,131.3 L172.0,131.7 L170.4,132.1 L168.8,132.4 L167.2,132.5 L165.6,132.4 L164.0,132.3 L162.4,132.2 L160.8,132.3 L159.2,132.3 L157.6,132.2 L156.0,131.9 L154.5,131.3 L153.0,130.7 L151.5,130.1 L149.9,129.8 L148.3,129.7 L146.7,129.3 L145.2,128.8 L143.8,128.0 L142.6,126.7 L141.7,125.2 L140.7,123.8 L139.4,123.0 L138.1,122.1 L136.9,121.2 L135.7,120.2 L134.6,119.2 L133.4,118.2 L132.3,117.1 L131.3,115.9 L130.3,114.8 L129.3,113.6 L128.4,112.4 L127.5,111.1 L126.7,109.8 L125.9,108.5 L125.2,107.2 L124.5,105.8 L123.8,104.4 L123.2,103.0 L122.7,101.5 L122.2,100.1 L121.7,98.6 L121.3,97.1 L121.0,95.6 L120.7,94.1 L120.4,92.6 L120.2,91.1 L120.1,89.6 L120.0,88.0 L120.0,86.5 L120.0,85.0 L120.1,83.4 L120.2,81.9 L120.4,80.4 L120.7,78.9 L121.0,77.4 L121.3,75.9 L121.7,74.4 L122.2,72.9 L122.7,71.5 L123.2,70.0 L123.8,68.6 L124.5,67.2 L125.2,65.8 L125.9,64.5 L126.7,63.2 L127.5,61.9 L128.4,60.6 L129.3,59.4 L130.3,58.2 L130.5,56.4 L130.9,54.5 L131.7,53.0 L132.9,51.9 L134.2,50.9 L135.4,49.9 L136.7,48.9 L137.8,47.7 L139.1,46.6 L140.4,45.6 L141.8,44.8 L143.3,44.0 L144.7,43.1 L146.1,42.1 L147.4,41.0 L148.9,39.9 L150.4,38.9 L151.9,38.1 L153.6,37.7 L155.4,37.5 L157.1,37.3 L158.8,37.2 L160.5,37.1 L162.3,36.9 L164.0,36.8 L165.7,36.8 L167.5,37.1 L169.2,37.4 L170.9,37.7 L172.6,38.0 L174.3,38.2 L176.0,38.5 L177.6,38.9 L179.2,39.6 L180.8,40.5 L182.2,41.5 L183.6,42.4 L185.1,43.3 L186.6,44.0 L188.2,44.6 L189.7,45.3 L191.2,46.1 L192.6,47.1 L194.0,48.1 L195.4,49.1 L196.8,50.1 L198.1,51.1 L199.5,52.3 L200.6,53.5 L201.6,55.0 L202.3,56.5 L203.0,58.1 L203.8,59.7 L204.6,61.1 L205.6,62.5 L206.5,63.9 L207.4,65.3 L208.0,66.9 L208.5,68.5 L208.9,70.2 L209.3,71.8 L209.8,73.4 L210.3,74.9 L210.8,76.6 L211.1,78.2 L211.2,79.9 L211.2,81.5 L211.3,83.2 L211.6,84.8 L212.1,86.5Z"/>
<path fill="#1b6fd6" d="M174.1 38.0h2.4v2.4h-2.4zM176.8 37.9h2.3v2.8h-2.3zM145.6 40.0h2.6v2.7h-2.6zM144.2 42.3h2.4v2.6h-2.4zM135.4 47.0h2.8v2.6h-2.8zM133.9 49.3h2.3v2.4h-2.3zM131.0 52.2h2.2v2.6h-2.2zM199.6 52.0h2.5v2.6h-2.5zM126.1 61.4h2.6v2.5h-2.6zM128.6 60.8h2.3v2.7h-2.3zM204.0 61.3h2.3v2.7h-2.3zM206.3 65.4h2.7v2.3h-2.7zM125.0 67.6h2.8v2.8h-2.8zM123.7 70.3h2.9v2.5h-2.9zM125.9 70.4h2.2v2.9h-2.2zM127.2 73.0h2.4v2.6h-2.4zM126.2 75.4h2.8v2.3h-2.8zM125.3 77.3h2.3v2.5h-2.3zM126.9 77.1h2.8v2.7h-2.8zM119.1 79.5h2.3v2.5h-2.3zM128.1 79.5h2.4v2.3h-2.4zM120.2 81.6h2.6v2.5h-2.6zM127.4 82.0h2.6v2.8h-2.6zM121.6 84.4h2.7v2.4h-2.7zM122.9 86.7h2.5v2.7h-2.5zM119.3 88.4h2.4v2.6h-2.4zM123.8 88.3h2.6v2.8h-2.6zM211.1 88.6h2.3v2.5h-2.3zM122.4 91.3h2.9v2.2h-2.9zM212.1 90.6h2.4v2.5h-2.4zM123.3 93.3h2.7v2.9h-2.7zM120.4 96.0h2.7v2.2h-2.7zM121.9 102.0h2.2v2.8h-2.2zM123.3 102.4h2.6v2.7h-2.6zM126.1 107.4h2.8v2.5h-2.8zM127.5 109.3h2.4v2.7h-2.4zM128.3 111.3h2.9v2.6h-2.9zM200.9 114.4h2.3v2.3h-2.3zM135.4 116.6h2.8v2.4h-2.8zM191.1 123.1h2.7v2.8h-2.7zM155.7 129.9h2.3v2.5h-2.3zM163.0 130.6h2.2v2.3h-2.2zM169.2 130.0h2.8v2.8h-2.8zM172.0 130.6h2.9v2.2h-2.9zM174.5 129.8h2.6v2.4h-2.6zM181.2 129.9h2.6v2.3h-2.6zM200.9 47.1h1.8v1.4h-1.8zM114.1 65.2h1.7v1.7h-1.7zM112.1 69.5h1.4v1.7h-1.4zM123.0 120.9h1.7v1.7h-1.7zM136.5 38.9h1.9v1.7h-1.9zM184.1 134.2h1.7v1.8h-1.7zM206.4 116.5h2.0v1.3h-2.0zM178.5 136.3h1.6v2.0h-1.6zM193.0 41.2h1.8v1.4h-1.8zM125.3 122.4h1.7v1.9h-1.7zM109.4 88.2h1.9v1.5h-1.9zM216.9 90.2h1.6v1.4h-1.6zM132.1 42.6h1.4v2.0h-1.4zM193.4 41.5h1.3v1.5h-1.3zM122.3 51.3h1.7v1.5h-1.7zM144.2 36.2h1.4v1.3h-1.4zM216.7 92.7h1.5v1.5h-1.5zM136.9 131.9h1.9v1.7h-1.9zM192.1 41.4h1.6v1.5h-1.6zM213.6 103.1h1.4v1.5h-1.4zM112.1 103.0h1.4v1.3h-1.4zM147.0 34.8h2.0v1.4h-2.0zM135.5 131.6h1.5v1.8h-1.5zM117.1 59.1h1.6v1.8h-1.6zM124.8 48.5h1.7v1.5h-1.7zM136.6 39.0h2.0v1.6h-2.0zM215.9 96.1h1.6v1.3h-1.6zM110.5 88.0h1.7v1.8h-1.7zM156.0 137.9h1.8v1.9h-1.8zM110.4 87.8h1.7v1.9h-1.7zM153.7 32.5h1.7v1.8h-1.7zM166.0 31.8h1.9v1.7h-1.9zM202.9 49.3h1.5v1.6h-1.5zM119.0 116.8h1.4v1.4h-1.4zM192.3 41.3h1.4v1.5h-1.4zM148.4 35.1h1.6v1.4h-1.6zM112.3 71.7h1.3v1.3h-1.3zM111.7 101.2h1.9v1.5h-1.9zM138.6 39.0h1.7v1.6h-1.7zM152.8 32.5h1.9v1.8h-1.9zM156.9 33.1h1.5v1.6h-1.5zM126.7 47.2h1.3v1.5h-1.3zM152.0 33.0h1.7v1.4h-1.7zM173.2 32.5h1.3v2.0h-1.3zM148.3 136.6h1.9v1.4h-1.9zM153.2 33.3h2.0v1.5h-2.0zM173.8 138.0h2.0v1.8h-2.0zM120.0 55.0h1.7v1.9h-1.7zM143.4 136.1h2.0v1.3h-2.0zM203.5 49.6h1.5v1.5h-1.5zM143.8 135.0h1.6v2.0h-1.6zM113.7 67.6h1.4v2.0h-1.4zM128.7 43.9h2.0v1.9h-2.0zM185.5 36.8h1.8v1.4h-1.8zM114.4 64.7h1.9v1.6h-1.9zM161.3 139.8h1.6v1.4h-1.6zM208.1 113.9h1.6v1.9h-1.6zM191.1 130.3h1.6v1.8h-1.6zM211.0 63.2h1.7v1.9h-1.7zM217.0 88.0h2.0v1.7h-2.0zM206.4 54.9h1.8v1.7h-1.8zM140.6 134.6h1.8v1.9h-1.8zM196.7 44.6h1.8v1.8h-1.8zM216.3 75.0h1.5v1.9h-1.5zM193.6 129.2h1.5v1.5h-1.5zM114.7 64.8h1.5v1.4h-1.5zM119.7 55.3h1.5v1.7h-1.5zM164.4 32.0h1.5v1.5h-1.5zM116.5 58.6h1.9v1.8h-1.9zM109.7 76.8h1.8v1.6h-1.8zM134.7 41.2h2.0v1.4h-2.0zM119.1 55.7h1.4v1.5h-1.4zM175.0 32.9h1.3v1.6h-1.3zM114.5 63.9h1.9v1.7h-1.9zM133.2 129.6h1.8v1.5h-1.8zM201.7 123.5h1.5v1.4h-1.5zM174.6 137.5h1.8v1.4h-1.8zM115.6 60.5h1.8v2.0h-1.8zM111.1 74.3h1.5v1.8h-1.5zM188.8 132.2h1.3v1.8h-1.3zM201.0 122.3h1.6v1.9h-1.6zM155.7 33.2h1.4v2.0h-1.4zM167.0 139.4h1.8v1.7h-1.8zM128.3 125.5h1.6v1.4h-1.6zM159.1 32.1h1.8v1.8h-1.8zM210.1 58.8h1.6v1.8h-1.6zM119.1 115.0h1.8v1.8h-1.8zM195.3 129.2h1.4v1.5h-1.4zM130.9 43.0h1.4v1.3h-1.4zM143.8 35.9h1.6v1.9h-1.6zM216.4 84.8h1.7v1.7h-1.7zM170.1 139.1h1.4v1.8h-1.4zM110.4 75.5h1.8v1.7h-1.8zM142.1 37.1h1.6v1.9h-1.6zM110.9 77.2h2.0v1.7h-2.0zM110.4 87.5h1.4v2.0h-1.4zM215.5 94.5h1.6v2.0h-1.6zM152.6 33.5h1.6v1.3h-1.6zM216.0 85.6h1.7v1.5h-1.7zM214.8 69.3h1.3v1.9h-1.3zM124.2 49.6h1.9v2.0h-1.9zM163.8 139.1h2.0v1.6h-2.0zM167.3 32.8h1.6v1.9h-1.6zM110.8 78.1h1.9v1.5h-1.9zM142.1 135.2h1.6v1.6h-1.6zM153.7 32.6h1.4v1.8h-1.4zM125.8 47.7h1.7v1.7h-1.7zM123.4 121.1h1.4v1.9h-1.4zM215.6 95.5h1.4v1.4h-1.4zM122.0 120.6h1.9v1.7h-1.9zM212.5 107.7h1.7v2.0h-1.7zM209.7 113.0h1.4v1.7h-1.4zM132.8 129.2h1.5v1.7h-1.5zM187.8 38.3h2.0v1.8h-2.0zM160.9 33.0h1.8v1.5h-1.8zM154.1 33.0h1.6v1.9h-1.6zM132.1 42.3h2.0v2.0h-2.0zM116.8 111.0h1.8v1.7h-1.8zM216.6 90.3h1.6v1.8h-1.6zM161.5 49.8h2.5v2.4h-2.5zM161.9 46.5h2.5v2.4h-2.5zM160.6 45.2h2.2v2.5h-2.2zM160.3 48.1h2.2v2.5h-2.2zM164.7 53.8h2.1v2.2h-2.1zM158.6 51.9h2.4v1.9h-2.4zM144.6 53.4h2.2v2.3h-2.2zM146.2 52.7h2.4v1.9h-2.4zM147.1 52.7h2.0v2.5h-2.0zM143.8 53.3h2.2v2.0h-2.2zM148.1 54.3h2.3v2.4h-2.3zM149.1 57.8h2.3v2.3h-2.3zM141.4 58.9h2.3v2.4h-2.3zM141.9 64.5h2.1v2.1h-2.1zM127.9 59.0h1.9v2.2h-1.9zM174.3 53.2h2.1v1.9h-2.1zM174.1 54.9h2.4v2.3h-2.4zM194.4 62.4h1.9v2.1h-1.9zM197.9 62.6h2.0v1.9h-2.0zM195.5 66.0h2.4v1.9h-2.4zM197.3 66.3h2.3v2.4h-2.3zM167.7 79.0h2.4v2.4h-2.4zM169.7 79.0h2.3v2.1h-2.3zM167.4 80.3h2.4v2.0h-2.4zM167.2 82.2h2.3v2.0h-2.3zM164.3 84.7h2.4v2.0h-2.4zM172.9 81.8h2.2v2.0h-2.2zM174.7 84.5h1.9v2.1h-1.9zM174.3 79.2h2.4v2.1h-2.4zM182.5 80.1h2.5v2.4h-2.5zM180.7 80.4h2.4v1.9h-2.4zM184.3 77.8h2.0v2.1h-2.0zM187.3 75.7h2.4v2.2h-2.4zM191.8 73.5h2.1v2.4h-2.1zM193.0 72.3h2.2v2.1h-2.2zM194.9 67.1h2.1v2.0h-2.1zM190.2 71.1h2.0v2.2h-2.0zM193.9 74.7h1.9v2.1h-1.9zM190.8 74.5h2.0v2.4h-2.0zM191.2 77.7h2.0v2.4h-2.0zM187.7 71.4h2.3v2.3h-2.3zM189.3 72.6h2.1v2.1h-2.1zM196.2 78.1h2.1v2.5h-2.1zM196.4 76.5h2.3v2.0h-2.3zM200.0 83.5h2.3v2.4h-2.3zM192.6 77.3h2.3v2.3h-2.3zM194.7 76.5h2.2v2.5h-2.2zM201.4 88.5h2.2v2.5h-2.2zM201.5 86.7h2.5v2.0h-2.5zM198.7 91.2h2.0v2.1h-2.0zM198.2 93.0h2.1v2.1h-2.1zM161.9 92.6h2.1v2.0h-2.1zM158.2 93.0h2.0v2.2h-2.0zM177.0 96.3h2.4v2.4h-2.4zM178.8 95.6h2.2v2.1h-2.2zM179.0 93.7h2.3v2.2h-2.3zM166.4 105.6h2.4v2.1h-2.4zM166.7 110.2h2.4v1.9h-2.4zM167.4 111.8h2.5v2.1h-2.5zM166.4 113.5h2.5v2.0h-2.5zM138.8 111.5h2.2v2.2h-2.2zM141.6 105.5h2.3v2.4h-2.3zM178.2 113.6h1.9v2.5h-1.9zM180.9 114.5h1.9v2.2h-1.9zM180.4 117.4h2.0v2.3h-2.0zM178.9 118.9h2.2v2.0h-2.2zM193.6 101.0h2.4v2.1h-2.4zM193.2 102.9h2.3v2.0h-2.3zM192.3 104.4h2.4v2.4h-2.4zM193.4 101.4h2.1v2.4h-2.1zM195.2 101.6h2.4v2.2h-2.4zM195.6 101.8h2.0v2.4h-2.0zM197.1 101.3h2.4v2.0h-2.4zM186.8 92.0h2.1v2.3h-2.1zM173.7 118.5h2.5v2.3h-2.5zM171.4 113.2h2.0v2.5h-2.0zM174.8 118.4h2.4v2.5h-2.4zM158.1 121.6h1.9v2.0h-1.9zM159.1 124.9h2.5v2.4h-2.5zM156.5 121.7h2.1v2.3h-2.1zM149.4 96.5h2.2v2.0h-2.2zM147.5 96.0h2.4v2.0h-2.4zM203.3 66.8h2.3v2.2h-2.3zM203.9 68.6h1.9v2.0h-1.9zM202.8 66.9h2.0v2.2h-2.0zM201.5 109.1h2.1v2.5h-2.1zM204.0 111.7h2.2v2.0h-2.2zM197.7 109.3h2.2v2.1h-2.2zM205.4 111.1h2.3v2.1h-2.3zM182.2 60.3h2.1v2.0h-2.1zM183.1 62.3h2.3v2.4h-2.3zM139.2 75.5h2.3v2.4h-2.3zM138.7 72.3h2.1v2.1h-2.1zM138.2 76.0h2.0v2.1h-2.0zM188.3 126.8h2.2v2.4h-2.2zM192.5 124.0h2.3v2.4h-2.3zM196.1 125.8h2.2v2.4h-2.2z"/>
<path fill="#1565c8" d="M159.0 34.2h1.6v1.9h-1.6zM160.9 34.3h1.8v1.4h-1.8zM165.2 33.6h1.8v1.8h-1.8zM141.6 36.2h1.9v1.9h-1.9zM166.6 35.9h2.3v2.8h-2.3zM168.2 36.0h2.5v2.3h-2.5zM180.6 36.4h1.7v1.8h-1.7zM148.8 38.0h2.8v2.3h-2.8zM134.4 40.8h2.1v1.9h-2.1zM189.6 40.8h1.6v1.8h-1.6zM133.3 43.3h1.9v1.5h-1.9zM137.8 43.0h1.8v2.1h-1.8zM141.7 42.7h2.7v2.7h-2.7zM128.3 47.2h1.7v2.1h-1.7zM200.1 47.9h1.5v1.7h-1.5zM123.0 50.0h1.7v1.5h-1.7zM127.8 49.6h1.5v2.2h-1.5zM130.2 50.3h1.6v1.7h-1.6zM202.9 50.2h2.2v1.9h-2.2zM128.7 52.2h2.0v2.1h-2.0zM204.8 52.2h1.5v1.9h-1.5zM121.4 57.0h1.9v1.5h-1.9zM120.5 59.4h1.6v1.6h-1.6zM122.0 61.6h1.6v1.5h-1.6zM122.3 68.1h2.5v2.8h-2.5zM127.1 67.9h2.5v2.7h-2.5zM212.4 68.4h1.7v2.1h-1.7zM112.5 70.3h1.9v1.9h-1.9zM117.1 70.4h2.0v1.6h-2.0zM120.4 72.3h2.6v2.9h-2.6zM117.2 75.4h2.1v1.5h-2.1zM213.2 75.1h2.1v1.8h-2.1zM209.7 77.5h2.9v2.7h-2.9zM112.5 80.2h2.0v2.0h-2.0zM211.4 79.6h1.8v1.7h-1.8zM115.6 81.7h2.0v2.2h-2.0zM126.4 84.0h2.3v2.8h-2.3zM216.4 84.7h1.8v1.9h-1.8zM111.4 87.1h1.9v1.5h-1.9zM116.0 86.9h1.7v1.6h-1.7zM120.3 86.6h2.7v2.4h-2.7zM115.6 91.6h2.1v2.0h-2.1zM213.9 93.9h2.2v1.8h-2.2zM216.4 93.6h1.5v2.1h-1.5zM213.0 95.9h1.6v2.1h-1.6zM112.4 98.1h1.7v1.4h-1.7zM113.8 100.6h1.7v1.5h-1.7zM118.6 100.9h1.7v1.5h-1.7zM119.0 102.9h1.9v2.0h-1.9zM113.8 105.5h1.6v1.6h-1.6zM116.2 104.8h2.2v1.9h-2.2zM125.4 109.6h1.6v1.4h-1.6zM124.2 111.8h1.7v1.8h-1.7zM120.8 114.8h1.5v1.7h-1.5zM131.6 113.8h2.7v2.9h-2.7zM121.8 116.3h1.6v1.9h-1.6zM196.5 118.5h2.3v2.5h-2.3zM137.6 120.6h2.7v2.8h-2.7zM195.0 120.8h2.4v2.7h-2.4zM197.7 121.2h1.8v1.9h-1.8zM132.1 123.3h1.8v2.1h-1.8zM134.1 123.9h1.8v2.0h-1.8zM139.0 123.1h1.7v2.2h-1.7zM140.3 125.6h1.8v1.8h-1.8zM184.3 128.1h2.5v2.2h-2.5zM140.2 130.5h2.2v1.5h-2.2zM183.8 130.3h2.2v2.1h-2.2zM171.3 133.3h1.9v1.5h-1.9zM184.5 132.9h2.0v2.1h-2.0zM142.6 135.0h1.8v1.5h-1.8zM160.9 135.5h1.6v1.6h-1.6zM152.5 137.8h2.0v1.9h-2.0zM154.8 137.6h1.8v1.5h-1.8zM191.2 130.7h2.0v1.4h-2.0zM175.7 33.9h1.6v1.5h-1.6zM216.3 77.3h1.9v1.6h-1.9zM120.2 116.9h1.8v1.4h-1.8zM215.2 71.2h1.5v1.5h-1.5zM191.0 131.9h1.8v1.3h-1.8zM128.0 45.8h1.3v1.7h-1.3zM110.9 94.7h1.6v1.9h-1.6zM183.1 36.3h1.9v1.8h-1.9zM144.0 135.9h1.7v1.3h-1.7zM200.5 46.9h1.7v2.0h-1.7zM120.6 117.8h1.4v1.7h-1.4zM211.1 110.1h1.3v1.8h-1.3zM197.8 45.9h1.6v1.5h-1.6zM110.6 90.8h1.8v2.0h-1.8zM209.3 111.5h1.6v1.6h-1.6zM209.2 58.2h1.4v1.7h-1.4zM112.8 104.3h1.4v1.3h-1.4zM164.8 32.5h1.5v1.7h-1.5zM216.5 83.0h1.7v1.7h-1.7zM192.6 41.7h1.8v1.3h-1.8zM196.7 127.4h1.5v1.6h-1.5zM213.2 65.1h1.5v1.9h-1.5zM196.8 43.6h1.6v1.9h-1.6zM173.4 32.5h1.6v2.0h-1.6zM191.2 40.4h1.6v2.0h-1.6zM212.5 64.1h1.5v1.9h-1.5zM199.0 45.3h1.3v2.0h-1.3zM211.0 63.3h1.7v1.7h-1.7zM134.0 40.3h1.6v1.5h-1.6zM212.1 65.6h1.4v1.4h-1.4zM132.7 129.1h1.6v1.7h-1.6zM112.5 103.6h1.5v1.8h-1.5zM123.4 122.0h1.8v1.8h-1.8zM118.0 58.7h1.4v1.7h-1.4zM195.8 127.3h1.7v1.6h-1.7zM129.1 127.0h1.5v1.9h-1.5zM141.5 36.7h1.8v1.9h-1.8zM152.1 33.0h1.6v1.4h-1.6zM109.9 94.9h1.7v1.7h-1.7zM197.7 126.7h1.6v1.4h-1.6zM186.9 37.4h1.8v1.6h-1.8zM134.9 40.5h1.3v1.7h-1.3zM136.0 131.2h1.4v1.7h-1.4zM215.4 74.1h1.8v1.9h-1.8zM112.1 98.9h1.8v1.7h-1.8zM150.0 138.1h1.4v1.4h-1.4zM131.3 128.3h1.3v1.7h-1.3zM200.5 124.4h1.7v1.8h-1.7zM159.8 32.4h1.7v1.7h-1.7zM110.1 81.4h1.9v1.6h-1.9zM214.5 101.4h1.7v1.5h-1.7zM137.8 39.2h1.9v1.5h-1.9zM197.6 44.6h1.3v1.9h-1.3zM174.4 137.8h1.9v1.7h-1.9zM125.8 47.3h1.3v1.5h-1.3zM132.4 42.1h1.9v2.0h-1.9zM110.6 97.9h1.6v1.3h-1.6zM114.7 63.8h1.8v1.6h-1.8zM119.4 115.1h1.9v1.9h-1.9zM207.8 114.3h1.7v1.3h-1.7zM111.0 97.6h1.3v1.7h-1.3zM119.9 117.8h1.4v1.4h-1.4zM111.6 72.2h1.4v1.6h-1.4zM111.3 96.2h1.7v1.8h-1.7zM135.5 131.6h1.7v1.8h-1.7zM215.5 73.3h1.7v1.8h-1.7zM206.9 116.6h1.4v1.4h-1.4zM200.2 46.2h1.4v2.0h-1.4zM161.0 32.2h1.8v1.7h-1.8zM176.8 136.7h1.6v1.7h-1.6zM118.6 115.5h1.9v2.0h-1.9zM143.0 36.7h1.7v1.8h-1.7zM116.1 109.2h1.4v1.6h-1.4zM158.8 138.4h1.5v1.3h-1.5zM174.3 137.8h1.9v1.9h-1.9zM183.7 36.4h2.0v1.3h-2.0zM119.6 116.3h1.5v1.8h-1.5zM165.0 31.7h1.4v2.0h-1.4zM213.1 65.4h1.6v1.6h-1.6zM135.9 40.1h1.8v1.3h-1.8zM216.7 83.8h1.6v1.5h-1.6zM148.1 35.1h1.7v1.6h-1.7zM128.5 126.8h1.9v1.4h-1.9zM212.1 63.3h1.4v1.6h-1.4zM140.3 133.1h1.3v1.9h-1.3zM110.5 84.9h1.3v1.5h-1.3zM148.5 137.3h2.0v1.8h-2.0zM180.8 36.0h1.9v1.7h-1.9zM162.9 48.2h2.0v2.5h-2.0zM160.7 50.1h2.5v2.1h-2.5zM160.5 52.5h2.1v2.4h-2.1zM149.2 54.9h2.1v2.1h-2.1zM145.6 54.1h2.1v2.1h-2.1zM142.1 53.8h1.9v2.0h-1.9zM150.0 59.5h2.0v2.5h-2.0zM135.9 60.0h2.4v1.9h-2.4zM143.1 58.1h2.2v2.1h-2.2zM127.8 61.2h2.4v2.1h-2.4zM124.6 59.3h2.2v2.4h-2.2zM171.1 48.7h2.1v2.4h-2.1zM171.2 52.9h2.4v2.2h-2.4zM172.4 54.5h2.1v2.2h-2.1zM194.9 61.1h2.5v2.4h-2.5zM193.3 61.9h2.2v1.9h-2.2zM189.9 63.4h2.3v2.4h-2.3zM196.2 61.8h1.9v2.2h-1.9zM193.1 62.8h2.1v2.5h-2.1zM194.4 64.2h2.3v2.5h-2.3zM166.5 77.8h2.2v2.2h-2.2zM173.7 84.4h2.0v2.0h-2.0zM171.7 83.9h2.2v2.3h-2.2zM180.4 77.5h2.2v2.2h-2.2zM178.4 77.4h2.3v2.3h-2.3zM194.7 68.8h2.4v2.5h-2.4zM195.5 81.8h2.0v2.1h-2.0zM195.4 80.3h2.4v2.3h-2.4zM196.1 75.3h2.2v2.2h-2.2zM160.1 92.5h1.9v2.3h-1.9zM182.4 92.1h2.0v2.1h-2.0zM166.7 107.4h2.4v2.2h-2.4zM166.1 107.2h2.0v2.2h-2.0zM166.2 115.3h2.3v2.1h-2.3zM141.6 109.6h2.2v1.9h-2.2zM138.4 104.2h2.3v2.2h-2.3zM191.8 100.5h2.0v2.4h-2.0zM188.6 91.6h2.0v2.3h-2.0zM187.4 92.0h2.3v2.1h-2.3zM189.2 92.5h2.4v2.1h-2.4zM169.7 116.2h2.2v2.0h-2.2zM172.3 111.9h2.2v1.9h-2.2zM173.2 119.2h2.1v2.0h-2.1zM158.3 121.1h2.1v2.2h-2.1zM146.3 92.8h1.9v2.0h-1.9zM147.2 94.0h2.1v2.3h-2.1zM204.4 68.5h2.0v2.0h-2.0zM201.5 67.0h2.0v2.0h-2.0zM204.0 70.4h2.0v2.3h-2.0zM202.3 69.6h2.1v2.0h-2.1zM205.6 69.4h2.0v2.1h-2.0zM203.2 109.7h2.4v2.5h-2.4zM199.7 109.3h1.9v2.2h-1.9zM195.7 109.3h2.4v2.0h-2.4zM203.7 110.6h2.1v1.9h-2.1zM183.8 61.1h2.2v2.3h-2.2zM185.1 61.9h1.9v2.4h-1.9zM187.0 62.4h1.9v2.1h-1.9zM187.7 64.1h2.2v2.2h-2.2zM144.4 75.2h2.3v2.3h-2.3zM137.9 74.2h2.3v1.9h-2.3zM189.9 125.8h2.1v2.2h-2.1zM187.0 128.3h1.9v1.9h-1.9zM190.7 124.1h2.0v2.3h-2.0zM193.2 121.4h2.2v2.3h-2.2zM192.8 126.0h2.3v2.2h-2.3z"/>
<path fill="#2a80e0" d="M151.7 33.8h1.7v1.4h-1.7zM177.0 34.4h1.7v1.4h-1.7zM152.7 36.0h2.1v1.5h-2.1zM157.3 35.8h2.8v2.4h-2.8zM177.6 35.9h2.0v1.7h-2.0zM140.1 38.4h2.1v1.8h-2.1zM180.3 40.2h2.4v2.8h-2.4zM139.9 43.5h1.7v1.8h-1.7zM183.7 43.0h2.5v2.5h-2.5zM189.0 43.5h1.4v1.6h-1.4zM132.2 45.3h1.7v2.1h-1.7zM133.1 47.4h2.1v1.8h-2.1zM200.9 49.7h1.7v2.1h-1.7zM127.9 54.6h1.4v1.4h-1.4zM129.1 54.2h2.6v2.8h-2.6zM124.0 56.6h1.9v1.9h-1.9zM114.9 61.8h1.7v1.7h-1.7zM117.2 61.6h1.9v1.9h-1.9zM119.7 61.6h1.5v1.5h-1.5zM206.4 61.1h2.0v1.8h-2.0zM208.8 61.2h2.2v1.6h-2.2zM127.4 63.4h2.5v2.3h-2.5zM205.1 63.3h2.8v2.5h-2.8zM121.5 66.0h1.8v2.0h-1.8zM113.7 73.1h1.9v1.8h-1.9zM122.2 72.5h2.4v2.4h-2.4zM124.4 72.6h2.6v2.3h-2.6zM207.8 72.5h2.8v2.6h-2.8zM119.6 75.0h2.0v1.8h-2.0zM211.4 75.2h1.9v2.0h-1.9zM116.2 77.2h1.4v2.0h-1.4zM120.2 77.4h2.4v2.9h-2.4zM122.8 76.9h2.3v2.4h-2.3zM212.6 77.4h1.6v1.5h-1.6zM123.9 79.5h2.6v2.8h-2.6zM124.3 81.6h2.8v2.7h-2.8zM209.8 81.7h2.8v2.6h-2.8zM214.6 82.0h2.1v1.5h-2.1zM118.8 84.2h2.6v2.4h-2.6zM118.5 86.7h1.8v2.1h-1.8zM110.6 89.3h1.5v2.1h-1.5zM121.1 89.1h2.8v2.5h-2.8zM111.3 91.3h2.2v2.0h-2.2zM117.5 93.4h1.8v2.0h-1.8zM122.5 95.7h2.6v2.5h-2.6zM215.0 95.9h1.5v2.0h-1.5zM115.1 98.3h2.1v1.7h-2.1zM117.2 98.2h2.1v1.6h-2.1zM123.7 97.9h2.5v2.6h-2.5zM111.6 100.7h1.5v1.9h-1.5zM120.6 100.6h1.9v1.8h-1.9zM214.8 100.5h1.6v2.0h-1.6zM208.6 102.4h2.6v2.4h-2.6zM211.2 102.7h1.7v1.5h-1.7zM210.0 105.6h2.0v1.5h-2.0zM117.0 107.7h2.1v2.1h-2.1zM119.6 107.4h2.1v1.7h-2.1zM128.2 107.6h2.3v2.3h-2.3zM206.9 107.8h1.5v1.4h-1.5zM118.6 110.1h1.5v1.5h-1.5zM208.0 110.3h2.0v1.6h-2.0zM121.9 111.7h1.6v2.1h-1.6zM125.4 114.1h1.4v1.8h-1.4zM132.5 116.6h2.9v2.5h-2.9zM132.0 118.6h2.1v1.9h-2.1zM136.1 118.6h2.8v2.2h-2.8zM127.9 123.6h1.4v1.5h-1.4zM131.0 125.7h1.6v1.6h-1.6zM135.4 126.1h1.8v2.0h-1.8zM138.9 128.2h2.0v2.1h-2.0zM187.0 128.7h2.1v1.6h-2.1zM153.8 129.8h2.6v2.6h-2.6zM139.3 132.7h1.5v1.9h-1.5zM146.4 133.1h1.5v1.7h-1.5zM150.2 132.9h2.0v1.9h-2.0zM157.2 133.1h1.8v1.9h-1.8zM159.3 132.8h2.0v1.9h-2.0zM147.0 135.0h2.0v2.0h-2.0zM149.5 135.1h1.4v1.8h-1.4zM174.7 135.0h1.7v1.9h-1.7zM160.0 50.6h2.0v2.2h-2.0zM137.6 59.1h2.3v2.1h-2.3zM139.4 61.3h2.5v2.5h-2.5zM140.6 62.7h2.4v2.5h-2.4zM130.6 59.2h2.2v2.0h-2.2zM129.7 60.9h2.2v2.0h-2.2zM128.5 57.3h2.3v2.1h-2.3zM171.2 50.5h2.4v2.5h-2.4zM199.6 61.6h2.1v2.4h-2.1zM165.8 83.3h2.2v2.3h-2.2zM170.0 83.7h1.9v2.5h-1.9zM168.1 83.2h2.1v2.2h-2.1zM176.5 82.1h1.9v2.5h-1.9zM182.2 77.9h2.3v2.3h-2.3zM185.8 76.9h2.4v2.1h-2.4zM192.0 74.2h2.1v2.5h-2.1zM192.0 76.0h2.0v2.2h-2.0zM189.8 76.4h1.9v2.1h-1.9zM195.3 79.8h2.0v2.3h-2.0zM196.5 74.4h2.3v2.4h-2.3zM195.8 80.2h2.4v1.9h-2.4zM197.1 81.3h2.3v2.4h-2.3zM198.2 83.0h2.4v2.2h-2.4zM192.3 75.5h2.4v2.1h-2.4zM195.4 78.6h2.1v1.9h-2.1zM205.8 91.8h1.9v2.3h-1.9zM200.2 89.8h2.0v2.4h-2.0zM163.6 91.6h2.2v2.2h-2.2zM176.2 95.5h2.2v2.2h-2.2zM174.5 94.7h2.3v1.9h-2.3zM172.6 94.3h2.3v2.1h-2.3zM180.9 93.3h2.1v2.1h-2.1zM166.2 111.2h2.2v1.9h-2.2zM166.7 109.0h2.2v2.1h-2.2zM167.3 105.6h1.9v2.4h-1.9zM140.7 111.1h2.1v2.3h-2.1zM137.6 112.8h2.1v2.4h-2.1zM143.2 106.8h2.0v2.3h-2.0zM140.4 104.1h2.0v2.4h-2.0zM180.1 113.8h2.0v1.9h-2.0zM176.6 114.9h2.1v2.3h-2.1zM195.3 99.8h2.1v2.3h-2.1zM198.3 99.7h2.2v2.1h-2.2zM189.2 89.8h2.3v2.4h-2.3zM190.2 88.2h2.1v2.2h-2.1zM186.8 90.1h2.0v2.5h-2.0zM175.1 115.2h2.4v2.1h-2.4zM171.4 115.3h2.4v2.0h-2.4zM158.3 123.3h2.4v2.2h-2.4zM159.5 119.5h2.1v2.5h-2.1zM154.7 121.9h1.9v2.4h-1.9zM146.9 94.6h2.1v1.9h-2.1zM200.0 108.1h2.4v2.0h-2.4zM201.6 110.4h2.4v2.3h-2.4zM142.9 74.4h2.0v2.1h-2.0zM194.5 126.9h2.3v2.2h-2.3z"/>
<path fill="#0f5bb5" d="M154.7 35.8h2.7v2.5h-2.7zM161.7 35.3h2.7v2.8h-2.7zM163.4 36.3h2.8v2.3h-2.8zM178.9 38.3h2.4v2.7h-2.4zM138.8 45.3h2.3v2.6h-2.3zM192.2 47.5h2.8v2.4h-2.8zM129.2 58.5h2.9v2.7h-2.9zM123.4 65.4h2.6v2.6h-2.6zM120.9 70.6h2.7v2.3h-2.7zM123.5 74.9h2.8v2.8h-2.8zM126.3 79.7h2.5v2.6h-2.5zM122.5 81.8h2.4v2.5h-2.4zM120.2 90.9h2.4v2.8h-2.4zM124.7 90.9h2.3v2.3h-2.3zM121.3 93.6h2.7v2.4h-2.7zM211.3 93.0h2.3v2.7h-2.3zM124.6 95.9h2.9v2.3h-2.9zM126.0 102.3h2.4v2.3h-2.4zM133.1 112.1h2.3v2.4h-2.3zM142.0 125.9h2.4v2.3h-2.4zM145.2 127.9h2.7v2.3h-2.7zM163.1 52.8h2.1v2.2h-2.1zM158.2 50.0h2.1v2.0h-2.1zM148.0 53.3h2.3v2.4h-2.3zM147.9 56.2h2.4v2.4h-2.4zM149.8 61.5h2.4v2.2h-2.4zM139.7 58.8h1.9v2.1h-1.9zM128.6 60.6h2.5v2.1h-2.5zM191.8 62.8h2.2v2.5h-2.2zM163.6 86.4h2.1v2.1h-2.1zM172.8 83.6h2.2v2.2h-2.2zM183.7 78.5h2.0v2.4h-2.0zM178.9 79.3h2.5v2.5h-2.5zM178.7 77.6h2.3v2.0h-2.3zM189.2 76.3h2.2v2.2h-2.2zM193.5 70.3h2.5v2.3h-2.5zM190.8 73.0h1.9v1.9h-1.9zM195.0 76.0h2.3v2.4h-2.3zM189.7 74.3h2.0v2.3h-2.0zM194.8 78.6h2.2v2.0h-2.2zM202.6 90.0h2.5v2.2h-2.5zM204.7 90.1h2.2v2.3h-2.2zM179.7 116.0h2.2v2.1h-2.2zM182.6 114.0h2.2v2.2h-2.2zM184.6 114.3h2.1v2.2h-2.1zM177.0 119.3h2.4v2.4h-2.4zM192.1 88.0h2.0v2.2h-2.0zM189.9 94.2h2.1v2.4h-2.1zM170.5 117.4h2.0v1.9h-2.0zM172.0 118.3h2.1v2.3h-2.1zM174.8 117.1h2.4v1.9h-2.4zM171.7 118.0h2.0v2.1h-2.0zM148.1 96.0h2.1v2.1h-2.1zM206.1 69.2h2.2v2.0h-2.2zM199.6 66.5h2.1v2.1h-2.1zM205.7 70.2h2.4v2.0h-2.4zM201.8 65.3h2.1v2.2h-2.1zM200.7 63.7h2.4v2.0h-2.4zM141.0 74.7h2.0v2.2h-2.0zM145.5 76.9h2.3v2.1h-2.3zM191.7 122.5h2.3v2.5h-2.3zM196.9 121.6h2.5v2.1h-2.5z"/>
<path stroke="#e0205a" stroke-width="1.7" fill="none" d="M155.2 36.0L154.6 33.0M163.7 36.7L163.7 32.7M147.8 39.1L146.6 35.5M172.2 38.6L172.8 34.9M186.4 45.4L188.2 42.0M192.7 45.4L194.6 42.7M189.6 47.2L191.3 44.7M191.8 47.9L193.8 45.1M197.4 50.2L200.3 47.0M125.4 60.6L122.7 58.8M130.0 61.1L127.5 59.2M116.5 69.6L112.9 68.3M118.5 69.7L115.7 68.6M117.7 71.9L113.9 70.7M212.6 72.0L216.4 70.8M215.5 80.8L219.1 80.4M212.7 85.5L217.0 85.4M213.6 87.8L217.8 87.9M115.0 90.2L111.6 90.4M212.9 103.2L216.6 104.5M120.9 105.7L117.7 107.1M207.1 105.0L210.7 106.5M211.9 105.0L215.4 106.4M122.9 110.2L120.2 111.8M202.9 109.8L206.5 112.0M209.5 109.6L213.4 111.6M121.0 114.3L118.0 116.2M128.7 116.5L125.4 119.3M125.3 118.8L122.8 121.0M198.3 118.2L201.3 120.9M202.7 119.0L205.2 121.1M126.6 120.6L123.8 123.1M127.9 123.3L125.0 126.2M192.4 124.8L194.9 128.2M134.3 127.3L132.1 130.2M145.0 131.3L143.3 135.3M150.1 131.5L148.8 135.6M178.4 131.9L179.4 135.0M181.0 131.9L182.2 135.4M187.4 131.8L189.1 135.0M179.4 134.2L180.5 137.6M158.4 136.5L158.0 140.7M167.4 136.4L167.6 139.8"/>
<path fill="#d4134a" d="M162.4 50.8h2.4v2.5h-2.4zM138.2 59.9h2.2v2.4h-2.2zM126.5 60.1h1.9v2.0h-1.9zM172.7 51.6h2.5v2.4h-2.5zM174.9 80.9h2.3v2.4h-2.3zM194.2 78.5h2.2v2.0h-2.2zM200.4 88.2h2.2v1.9h-2.2zM166.9 109.4h1.9v2.1h-1.9zM197.7 97.9h2.0v2.4h-2.0zM180.2 60.6h2.3v2.4h-2.3zM178.8 59.6h2.3v2.1h-2.3zM195.0 121.1h2.4v2.4h-2.4z"/>
<circle cx="192.6" cy="48.7" r="6.5" fill="none" stroke="#e8202a" stroke-width="1.4"/>
<circle cx="140.7" cy="129.2" r="6" fill="none" stroke="#6b4520" stroke-width="1.4"/>
<circle cx="140.7" cy="129.2" r="2" fill="#9b7a4a"/>
<circle cx="274" cy="85.2" r="53" fill="url(#sph)"/>
<path fill="#1e72d6" fill-rule="evenodd" d="M327.3,85.2 L327.3,83.3 L327.2,81.5 L327.0,79.6 L326.8,77.8 L326.5,75.9 L326.1,74.1 L325.7,72.3 L325.2,70.5 L324.7,68.7 L324.1,67.0 L323.4,65.2 L322.7,63.5 L321.9,61.8 L321.1,60.2 L320.2,58.6 L319.2,57.0 L318.2,55.4 L317.1,53.9 L316.0,52.4 L314.8,50.9 L313.6,49.5 L312.3,48.2 L311.0,46.9 L309.7,45.6 L308.3,44.4 L306.8,43.2 L305.3,42.1 L303.8,41.0 L302.2,40.0 L300.6,39.0 L299.0,38.1 L297.4,37.3 L295.7,36.5 L294.0,35.8 L292.2,35.1 L290.5,34.5 L288.7,34.0 L286.9,33.5 L285.1,33.1 L283.3,32.7 L281.4,32.4 L279.6,32.2 L277.7,32.0 L275.9,31.9 L274.0,31.9 L272.1,31.9 L270.3,32.0 L268.4,32.2 L266.6,32.4 L264.7,32.7 L262.9,33.1 L261.1,33.5 L259.3,34.0 L257.5,34.5 L255.8,35.1 L254.0,35.8 L252.3,36.5 L250.6,37.3 L249.0,38.1 L247.4,39.0 L245.8,40.0 L244.2,41.0 L242.7,42.1 L241.2,43.2 L239.7,44.4 L238.3,45.6 L237.0,46.9 L235.7,48.2 L234.4,49.5 L233.2,50.9 L232.0,52.4 L230.9,53.9 L229.8,55.4 L228.8,57.0 L227.8,58.6 L226.9,60.2 L226.1,61.8 L225.3,63.5 L224.6,65.2 L223.9,67.0 L223.3,68.7 L222.8,70.5 L222.3,72.3 L221.9,74.1 L221.5,75.9 L221.2,77.8 L221.0,79.6 L220.8,81.5 L220.7,83.3 L220.7,85.2 L220.7,87.1 L220.8,88.9 L221.0,90.8 L221.2,92.6 L221.5,94.5 L221.9,96.3 L222.3,98.1 L222.8,99.9 L223.3,101.7 L223.9,103.4 L224.6,105.2 L225.3,106.9 L226.1,108.6 L226.9,110.2 L227.8,111.9 L228.8,113.4 L229.8,115.0 L230.9,116.5 L232.0,118.0 L233.2,119.5 L234.4,120.9 L235.7,122.2 L237.0,123.5 L238.3,124.8 L239.7,126.0 L241.2,127.2 L242.7,128.3 L244.2,129.4 L245.8,130.4 L247.3,131.4 L249.0,132.3 L250.6,133.1 L252.3,133.9 L254.0,134.6 L255.8,135.3 L257.5,135.9 L259.3,136.4 L261.1,136.9 L262.9,137.3 L264.7,137.7 L266.6,138.0 L268.4,138.2 L270.3,138.4 L272.1,138.5 L274.0,138.5 L275.9,138.5 L277.7,138.4 L279.6,138.2 L281.4,138.0 L283.3,137.7 L285.1,137.3 L286.9,136.9 L288.7,136.4 L290.5,135.9 L292.2,135.3 L294.0,134.6 L295.7,133.9 L297.4,133.1 L299.0,132.3 L300.6,131.4 L302.2,130.4 L303.8,129.4 L305.3,128.3 L306.8,127.2 L308.3,126.0 L309.7,124.8 L311.0,123.5 L312.3,122.2 L313.6,120.9 L314.8,119.5 L316.0,118.0 L317.1,116.5 L318.2,115.0 L319.2,113.4 L320.2,111.9 L321.1,110.2 L321.9,108.6 L322.7,106.9 L323.4,105.2 L324.1,103.4 L324.7,101.7 L325.2,99.9 L325.7,98.1 L326.1,96.3 L326.5,94.5 L326.8,92.6 L327.0,90.8 L327.2,88.9 L327.3,87.1ZM322.1,86.9 L321.7,88.5 L321.5,90.2 L321.5,91.9 L321.5,93.6 L321.4,95.3 L321.2,97.0 L320.8,98.6 L320.2,100.2 L319.5,101.8 L318.9,103.3 L318.4,105.0 L317.8,106.6 L317.2,108.2 L316.5,109.7 L315.6,111.2 L314.6,112.6 L313.6,114.0 L312.8,115.5 L312.0,117.0 L311.1,118.6 L310.0,120.0 L308.7,121.1 L307.2,122.1 L305.6,122.8 L304.0,123.6 L302.5,124.4 L301.0,125.2 L299.6,126.2 L298.1,127.0 L296.6,127.6 L294.9,128.1 L293.3,128.6 L291.7,129.1 L290.2,129.8 L288.7,130.5 L287.2,131.1 L285.5,131.5 L283.8,131.5 L282.1,131.2 L280.4,130.9 L278.8,130.8 L277.2,130.9 L275.6,131.2 L274.0,131.5 L272.4,131.6 L270.8,131.4 L269.2,130.9 L267.7,130.3 L266.1,129.8 L264.6,129.3 L263.1,128.8 L261.8,127.6 L260.4,127.0 L259.0,126.5 L257.5,126.0 L256.1,125.4 L254.7,124.7 L253.3,124.0 L252.0,123.3 L250.7,122.5 L249.4,121.7 L248.1,120.8 L246.9,119.9 L245.7,118.9 L244.6,117.9 L243.4,116.9 L242.3,115.8 L241.3,114.6 L240.3,113.5 L239.3,112.3 L238.4,111.1 L237.5,109.8 L236.7,108.5 L235.9,107.2 L235.2,105.9 L234.5,104.5 L233.8,103.1 L233.2,101.7 L232.7,100.2 L232.2,98.8 L231.7,97.3 L231.3,95.8 L231.0,94.3 L230.7,92.8 L230.4,91.3 L230.2,89.8 L230.1,88.3 L230.0,86.7 L230.0,85.2 L230.0,83.7 L230.1,82.1 L230.2,80.6 L230.4,79.1 L230.7,77.6 L231.0,76.1 L231.3,74.6 L231.7,73.1 L232.2,71.6 L232.7,70.2 L233.2,68.7 L233.8,67.3 L234.5,65.9 L235.2,64.5 L235.9,63.2 L236.7,61.9 L237.5,60.6 L238.4,59.3 L239.3,58.1 L240.3,56.9 L241.3,55.8 L242.3,54.6 L243.4,53.5 L244.6,52.5 L245.7,51.5 L246.7,50.3 L247.8,49.1 L249.1,48.3 L250.5,47.6 L251.9,47.0 L253.3,46.2 L254.6,45.4 L256.0,44.7 L257.5,44.3 L259.0,43.9 L260.4,43.4 L261.9,42.9 L263.4,42.5 L264.9,42.2 L266.3,41.6 L267.8,40.8 L269.3,40.2 L270.8,40.1 L272.4,40.3 L274.0,40.6 L275.6,40.8 L277.1,40.7 L278.7,40.5 L280.3,40.3 L281.9,40.3 L283.5,40.4 L285.1,40.7 L286.7,40.8 L288.4,40.8 L290.2,40.7 L292.0,40.6 L293.8,40.8 L295.3,41.4 L296.8,42.4 L298.0,43.6 L299.3,44.7 L300.6,45.8 L302.0,46.7 L303.4,47.5 L304.8,48.5 L306.1,49.5 L307.3,50.7 L308.4,52.0 L309.5,53.2 L310.7,54.4 L311.9,55.6 L313.0,56.8 L314.0,58.2 L314.8,59.7 L315.4,61.3 L315.9,62.9 L316.6,64.4 L317.4,65.9 L318.4,67.3 L319.4,68.7 L320.3,70.2 L320.9,71.7 L321.4,73.4 L321.7,75.1 L322.0,76.7 L322.3,78.4 L322.6,80.1 L322.7,81.8 L322.7,83.5 L322.5,85.2Z"/>
<path fill="#1b6fd6" d="M268.9 38.7h2.7v2.8h-2.7zM273.6 39.3h2.8v2.3h-2.8zM280.9 38.8h2.3v2.7h-2.3zM283.1 39.5h2.7v2.2h-2.7zM285.3 39.3h2.8v2.6h-2.8zM261.7 41.8h2.4v2.5h-2.4zM263.6 41.3h2.5v2.8h-2.5zM298.8 43.7h2.9v2.8h-2.9zM245.2 50.5h2.9v2.3h-2.9zM244.3 52.9h2.4v2.3h-2.4zM242.7 55.5h2.3v2.6h-2.3zM311.6 55.4h2.8v2.7h-2.8zM239.6 57.5h2.2v2.3h-2.2zM244.3 57.2h2.4v2.8h-2.4zM240.8 60.0h2.6v2.5h-2.6zM237.0 62.3h2.8v2.6h-2.8zM239.2 62.6h2.2v2.4h-2.2zM314.9 62.0h2.7v2.6h-2.7zM233.3 64.7h2.9v2.3h-2.9zM236.1 64.6h2.8v2.4h-2.8zM238.5 64.9h2.7v2.3h-2.7zM240.3 64.1h2.5v2.6h-2.5zM234.6 66.8h2.8v2.4h-2.8zM239.8 67.2h2.6v2.4h-2.6zM231.2 69.0h2.8v2.3h-2.8zM232.9 71.3h2.3v2.6h-2.3zM246.2 71.2h2.3v2.7h-2.3zM231.8 73.7h2.3v2.5h-2.3zM239.0 75.9h2.7v2.3h-2.7zM246.4 75.9h2.4v2.7h-2.4zM248.7 75.7h2.8v2.7h-2.8zM233.8 77.8h2.3v2.6h-2.3zM247.8 78.4h2.5v2.8h-2.5zM249.7 78.2h2.5v2.8h-2.5zM251.8 77.7h2.5v2.7h-2.5zM229.9 80.7h2.7v2.8h-2.7zM234.9 80.5h2.3v2.6h-2.3zM239.4 80.9h2.6v2.4h-2.6zM246.4 80.3h2.3v2.8h-2.3zM229.2 83.0h2.8v2.3h-2.8zM240.2 82.9h2.8v2.2h-2.8zM244.8 82.6h2.5v2.6h-2.5zM321.2 82.7h2.6v2.4h-2.6zM237.2 85.1h2.6v2.5h-2.6zM246.1 84.9h2.5v2.5h-2.5zM248.6 85.0h2.6v2.4h-2.6zM258.2 84.8h2.3v2.5h-2.3zM228.9 87.5h2.3v2.2h-2.3zM241.0 87.7h2.4v2.6h-2.4zM243.3 87.4h2.4v2.9h-2.4zM245.7 87.7h2.2v2.2h-2.2zM247.4 88.0h2.2v2.2h-2.2zM254.7 87.3h2.5v2.5h-2.5zM236.7 89.8h2.9v2.6h-2.9zM239.3 89.6h2.9v2.8h-2.9zM252.9 89.6h2.3v2.7h-2.3zM320.4 90.1h2.2v2.5h-2.2zM232.4 94.3h2.8v2.7h-2.8zM237.4 93.9h2.7v2.8h-2.7zM246.2 94.2h2.9v2.2h-2.9zM248.6 94.7h2.7v2.5h-2.7zM250.4 94.1h2.9v2.4h-2.9zM255.7 94.5h2.8v2.5h-2.8zM234.0 97.1h2.4v2.3h-2.4zM238.8 96.4h2.2v2.8h-2.2zM237.5 98.9h2.5v2.5h-2.5zM243.9 99.1h2.7v2.2h-2.7zM248.7 99.0h2.7v2.5h-2.7zM233.7 101.6h2.3v2.3h-2.3zM238.1 101.0h2.9v2.9h-2.9zM247.4 101.5h2.8v2.3h-2.8zM254.0 101.0h2.9v2.8h-2.9zM239.1 103.4h2.6v2.7h-2.6zM250.7 103.4h2.5v2.5h-2.5zM235.9 106.1h2.6v2.6h-2.6zM245.2 105.8h2.8v2.2h-2.8zM247.9 105.7h2.4v2.6h-2.4zM249.9 105.8h2.4v2.2h-2.4zM252.5 105.6h2.3v2.5h-2.3zM254.1 105.3h2.5v2.9h-2.5zM248.6 108.5h2.6v2.2h-2.6zM253.0 108.0h2.5v2.6h-2.5zM252.0 110.2h2.5v2.5h-2.5zM254.3 110.6h2.4v2.2h-2.4zM313.9 110.2h2.6v2.5h-2.6zM241.3 112.8h2.7v2.8h-2.7zM246.2 112.4h2.8v2.4h-2.8zM249.6 114.9h2.5v2.5h-2.5zM252.3 115.0h2.5v2.7h-2.5zM256.7 115.1h2.7v2.3h-2.7zM251.3 117.6h2.4v2.5h-2.4zM253.3 117.7h2.4v2.3h-2.4zM257.9 117.5h2.4v2.5h-2.4zM251.7 119.8h2.9v2.8h-2.9zM254.1 119.6h2.7v2.5h-2.7zM307.7 119.3h2.3v2.9h-2.3zM257.6 122.1h2.5v2.2h-2.5zM294.9 126.5h2.4v2.7h-2.4zM268.2 129.4h2.8v2.3h-2.8zM254.3 33.8h2.0v1.8h-2.0zM326.3 85.3h1.5v1.8h-1.5zM236.9 123.3h1.9v1.4h-1.9zM300.2 38.3h2.0v1.6h-2.0zM321.0 108.9h1.5v1.7h-1.5zM221.4 69.3h1.5v1.5h-1.5zM275.3 138.0h1.4v1.7h-1.4zM222.9 103.3h1.5v1.9h-1.5zM316.1 116.4h1.7v1.4h-1.7zM325.9 76.3h1.9v1.6h-1.9zM255.3 135.2h1.7v1.5h-1.7zM302.4 129.0h1.8v1.3h-1.8zM326.5 76.8h1.7v1.6h-1.7zM292.2 134.8h1.5v1.3h-1.5zM223.7 63.0h1.9v1.3h-1.9zM230.1 115.7h1.4v1.6h-1.4zM325.8 80.0h1.4v1.9h-1.4zM322.0 106.2h1.6v1.8h-1.6zM295.7 35.5h1.9v1.9h-1.9zM250.4 36.9h1.6v1.6h-1.6zM245.6 129.5h1.4v1.9h-1.4zM326.2 87.3h1.4v1.6h-1.4zM220.9 97.4h1.5v1.9h-1.5zM221.5 98.9h1.5v1.7h-1.5zM271.1 138.0h1.3v1.5h-1.3zM323.5 67.9h1.8v2.0h-1.8zM240.9 42.3h1.5v1.5h-1.5zM308.4 43.9h1.3v1.8h-1.3zM307.1 42.2h1.9v2.0h-1.9zM256.8 135.0h1.8v1.9h-1.8zM222.3 68.0h2.0v1.7h-2.0zM293.1 134.1h1.8v2.0h-1.8zM239.3 125.3h2.0v1.6h-2.0zM219.8 78.3h1.5v2.0h-1.5zM222.4 68.8h1.5v1.5h-1.5zM250.2 131.8h1.4v1.5h-1.4zM264.5 137.0h1.7v1.3h-1.7zM313.3 120.4h1.9v1.7h-1.9zM260.0 136.7h1.7v1.7h-1.7zM243.2 129.1h1.3v1.5h-1.3zM304.8 41.1h1.6v1.9h-1.6zM288.8 134.9h1.7v1.5h-1.7zM307.3 125.1h1.9v1.6h-1.9zM220.9 97.1h1.7v2.0h-1.7zM220.4 79.3h1.8v1.6h-1.8zM264.3 31.6h1.7v1.6h-1.7zM261.6 137.1h1.3v1.7h-1.3zM245.9 38.0h2.0v2.0h-2.0zM268.9 137.5h1.5v1.4h-1.5zM219.6 82.3h1.6v1.5h-1.6zM240.1 41.8h1.3v1.7h-1.3zM224.6 105.5h1.9v1.5h-1.9zM322.5 104.3h1.4v1.8h-1.4zM258.9 135.6h1.5v1.9h-1.5zM327.3 85.8h1.4v1.7h-1.4zM323.4 66.8h1.9v1.3h-1.9zM293.2 134.7h1.6v1.4h-1.6zM274.1 31.6h1.4v1.6h-1.4zM233.9 47.2h1.9v1.3h-1.9zM221.1 71.7h1.5v2.0h-1.5zM278.8 31.1h1.5v1.4h-1.5zM228.2 56.3h2.0v1.6h-2.0zM285.8 33.0h1.5v1.6h-1.5zM318.5 56.1h1.8v1.5h-1.8zM228.6 114.5h1.9v1.8h-1.9zM250.1 36.2h2.0v1.8h-2.0zM325.0 70.3h1.9v1.4h-1.9zM273.7 31.2h1.6v1.6h-1.6zM221.8 97.9h1.5v1.9h-1.5zM326.5 84.7h1.7v1.4h-1.7zM225.5 61.8h1.5v1.5h-1.5zM313.6 49.1h1.4v1.8h-1.4zM242.2 41.7h1.7v1.4h-1.7zM273.0 31.0h1.7v1.4h-1.7zM298.3 132.2h1.6v1.7h-1.6zM318.3 55.5h1.4v1.7h-1.4zM304.7 127.3h1.8v1.9h-1.8zM301.0 130.7h1.6v1.5h-1.6zM303.7 128.8h1.7v1.6h-1.7zM242.5 40.2h1.5v1.8h-1.5zM219.9 86.1h1.5v1.7h-1.5zM223.8 104.7h1.9v1.9h-1.9zM299.8 37.6h1.6v1.3h-1.6zM326.8 87.1h1.8v1.6h-1.8zM234.2 121.7h1.8v1.8h-1.8zM221.2 95.6h1.5v1.9h-1.5zM294.1 133.9h1.3v2.0h-1.3zM219.3 78.9h1.9v1.5h-1.9zM222.7 102.9h1.6v1.9h-1.6zM279.1 31.7h1.5v1.8h-1.5zM229.0 53.7h1.8v1.9h-1.8zM258.1 33.4h1.3v1.5h-1.3zM325.7 75.6h1.6v1.7h-1.6zM299.5 37.2h1.5v1.9h-1.5zM233.7 48.0h2.0v1.9h-2.0zM324.7 70.0h1.3v1.9h-1.3zM228.5 56.0h1.4v1.7h-1.4zM326.1 89.7h1.9v1.9h-1.9zM222.6 65.9h1.9v2.0h-1.9zM296.0 36.3h1.4v1.4h-1.4zM240.9 42.8h1.4v1.7h-1.4zM322.0 107.2h1.3v1.7h-1.3zM326.4 80.9h1.7v1.6h-1.7zM219.7 88.9h1.5v1.5h-1.5zM315.7 52.9h1.6v1.3h-1.6zM230.5 116.1h1.8v1.7h-1.8zM258.9 135.2h1.9v1.8h-1.9zM226.9 57.5h1.8v1.8h-1.8zM270.8 31.5h1.8v1.3h-1.8zM303.4 127.6h1.7v1.5h-1.7zM245.9 38.6h2.0v1.8h-2.0zM220.1 81.3h1.7v1.5h-1.7zM272.0 137.2h1.7v1.7h-1.7zM294.3 132.5h2.0v1.9h-2.0zM326.2 76.4h1.5v1.8h-1.5zM233.5 48.2h1.3v1.6h-1.3zM315.8 115.9h1.4v1.4h-1.4zM277.0 31.7h1.4v1.5h-1.4zM305.8 126.1h1.7v2.0h-1.7zM258.6 135.5h1.5v1.5h-1.5zM276.6 137.9h1.7v1.4h-1.7zM288.2 50.7h2.0v2.2h-2.0zM289.7 51.7h2.3v1.9h-2.3zM291.3 52.5h2.4v2.4h-2.4zM292.9 55.5h2.2v2.0h-2.2zM300.4 49.3h2.3v2.5h-2.3zM299.8 61.6h2.3v2.2h-2.3zM298.1 60.6h2.4v2.5h-2.4zM297.5 58.8h2.3v2.4h-2.3zM296.0 58.1h1.9v2.0h-1.9zM287.4 61.1h2.0v2.3h-2.0zM288.6 62.5h2.4v2.1h-2.4zM291.4 61.3h2.0v2.2h-2.0zM290.6 63.0h2.5v2.3h-2.5zM289.0 63.4h2.0v2.4h-2.0zM299.6 66.5h2.0v2.3h-2.0zM301.3 65.7h2.0v2.3h-2.0zM297.0 67.4h2.4v2.0h-2.4zM298.0 70.4h2.2v2.3h-2.2zM303.3 61.9h2.4v2.5h-2.4zM303.4 63.8h2.2v2.5h-2.2zM302.9 65.9h2.1v1.9h-2.1zM307.3 58.7h2.4v2.4h-2.4zM310.6 58.6h2.2v2.5h-2.2zM295.5 59.7h1.9v2.5h-1.9zM290.0 57.6h2.0v2.2h-2.0zM285.9 45.1h2.3v1.9h-2.3zM297.4 63.6h2.0v2.5h-2.0zM299.2 63.1h2.1v2.4h-2.1zM300.6 64.4h2.2v2.3h-2.2zM290.1 46.9h2.1v2.2h-2.1zM305.0 58.9h2.3v2.1h-2.3zM306.4 62.5h2.4v2.0h-2.4zM299.2 60.6h2.0v2.3h-2.0zM300.5 59.3h2.2v2.2h-2.2zM301.4 57.7h2.2v2.2h-2.2zM302.6 56.1h2.2v2.3h-2.2zM303.0 52.3h2.5v2.0h-2.5zM302.8 54.2h2.0v2.0h-2.0zM293.8 48.7h2.5v2.2h-2.5zM300.6 64.4h2.3v2.2h-2.3zM298.6 54.7h2.4v2.5h-2.4zM300.7 55.1h2.0v2.0h-2.0zM303.0 53.5h1.9v2.1h-1.9zM302.6 56.7h2.0v2.4h-2.0zM304.4 60.1h1.9v2.2h-1.9zM296.8 61.8h2.3v1.9h-2.3zM296.5 59.7h2.3v2.4h-2.3zM295.6 46.2h2.0v2.0h-2.0zM295.8 44.2h2.0v2.2h-2.0zM299.4 51.7h2.2v2.4h-2.2zM297.5 48.1h2.1v2.4h-2.1zM295.1 65.3h2.2v2.2h-2.2zM294.6 67.1h2.0v2.3h-2.0zM301.4 56.1h2.1v2.3h-2.1zM301.1 54.3h2.2v2.1h-2.2zM301.9 52.5h2.3v2.4h-2.3zM295.4 63.6h2.0v2.2h-2.0zM303.1 49.4h2.3v2.5h-2.3zM304.8 48.6h2.2v2.0h-2.2zM294.9 53.2h2.4v2.1h-2.4zM293.0 52.6h2.4v2.3h-2.4zM290.4 51.2h2.0v2.0h-2.0zM295.3 55.6h2.5v2.3h-2.5zM293.2 61.9h2.1v2.1h-2.1zM297.0 53.6h2.3v2.3h-2.3zM286.2 52.6h2.2v2.3h-2.2zM284.8 51.1h2.5v2.5h-2.5zM299.1 51.4h2.0v2.4h-2.0zM285.7 40.9h2.3v2.4h-2.3zM284.7 44.0h2.1v2.2h-2.1zM286.1 44.9h2.0v2.4h-2.0zM284.4 45.8h2.1v2.5h-2.1zM282.4 46.6h2.5v2.1h-2.5zM289.5 50.3h2.1v2.5h-2.1zM290.3 52.0h2.2v2.5h-2.2zM292.0 53.4h2.0v1.9h-2.0zM292.9 54.9h2.3v2.0h-2.3zM289.9 43.8h2.2v2.2h-2.2zM286.5 46.1h2.1v2.0h-2.1zM284.6 45.9h2.0v2.5h-2.0zM287.6 44.6h2.1v2.4h-2.1zM285.7 44.3h2.4v1.9h-2.4zM284.5 45.5h1.9v2.0h-1.9zM277.3 41.3h2.5v2.1h-2.5zM252.0 45.0h2.1v2.0h-2.1zM250.5 46.2h2.0v2.0h-2.0zM254.9 48.1h2.0v2.4h-2.0zM247.5 46.4h2.2v2.4h-2.2zM245.1 43.5h2.3v2.4h-2.3zM246.3 47.4h2.2v2.0h-2.2zM244.5 48.0h2.3v2.0h-2.3zM242.7 47.4h2.2v2.0h-2.2zM246.1 42.2h2.1v2.1h-2.1zM300.8 107.8h1.9v2.5h-1.9zM302.3 108.5h2.1v2.1h-2.1zM304.0 107.8h2.3v2.1h-2.3zM294.4 112.1h2.1v2.3h-2.1zM294.1 110.2h2.4v2.3h-2.4zM302.3 102.1h2.2v1.9h-2.2zM295.6 116.5h2.2v2.2h-2.2zM296.5 118.2h2.1v2.1h-2.1zM297.1 119.9h2.2v2.4h-2.2zM296.9 115.5h2.1v2.0h-2.1zM295.1 120.3h2.5v2.4h-2.5zM304.4 112.5h2.5v2.2h-2.5zM304.4 109.4h2.4v2.0h-2.4zM298.2 111.4h1.9v2.4h-1.9zM299.9 112.1h2.2v2.1h-2.2zM302.8 116.3h2.4v2.1h-2.4zM303.3 119.4h2.1v2.4h-2.1zM296.5 108.6h2.3v2.2h-2.3zM297.7 107.2h2.1v2.1h-2.1zM299.6 106.7h2.1v2.2h-2.1zM301.2 114.4h2.5v2.4h-2.5zM293.2 108.9h2.5v2.3h-2.5zM292.8 110.8h2.2v2.1h-2.2zM293.0 112.7h2.1v2.2h-2.1zM293.4 114.6h2.0v2.0h-2.0zM297.5 117.6h2.2v2.5h-2.2zM295.4 107.3h2.1v1.9h-2.1zM291.9 106.8h2.2v2.2h-2.2zM299.2 112.1h2.5v2.4h-2.5zM303.6 114.6h2.2v2.4h-2.2zM303.4 112.7h2.3v2.3h-2.3zM302.2 111.6h1.9v2.1h-1.9zM298.0 115.1h2.3v2.0h-2.3zM300.7 118.8h2.0v2.2h-2.0zM295.4 107.7h1.9v2.1h-1.9zM293.7 108.4h2.0v2.5h-2.0zM310.7 106.8h2.0v2.4h-2.0zM308.6 109.6h2.2v2.2h-2.2zM316.1 107.3h2.1v2.4h-2.1zM312.9 110.5h2.4v2.4h-2.4zM311.2 110.0h2.4v2.0h-2.4zM310.6 109.3h2.3v2.2h-2.3zM306.1 108.3h2.0v2.0h-2.0zM308.1 112.8h2.0v2.2h-2.0zM314.6 108.5h2.2v2.0h-2.2zM310.2 101.2h2.1v2.1h-2.1zM287.9 73.4h2.4v2.0h-2.4zM292.3 72.9h2.2v2.3h-2.2zM292.4 71.0h2.2v2.3h-2.2zM300.2 88.0h2.5v2.1h-2.5zM296.5 81.7h2.4v2.5h-2.4zM305.2 96.3h2.1v2.1h-2.1zM303.5 97.2h2.2v2.1h-2.2zM302.3 98.5h2.2v2.3h-2.2zM307.5 94.5h2.0v2.2h-2.0zM304.5 89.7h2.4v2.0h-2.4zM306.7 96.8h2.0v2.1h-2.0zM305.1 95.4h2.3v2.2h-2.3zM304.7 93.5h2.3v2.3h-2.3zM282.8 107.3h2.4v2.1h-2.4zM283.4 107.8h2.0v2.0h-2.0zM281.5 108.7h2.4v2.2h-2.4zM281.9 108.2h2.3v2.4h-2.3zM280.3 108.0h1.9v2.1h-1.9zM261.1 65.0h2.5v2.4h-2.5zM259.9 62.1h2.3v1.9h-2.3zM258.6 69.4h2.2v2.5h-2.2zM261.1 71.6h2.5v1.9h-2.5zM263.9 73.3h2.3v2.0h-2.3zM264.6 75.0h2.2v2.2h-2.2zM266.1 76.0h2.2v2.5h-2.2zM264.5 66.0h2.0v2.2h-2.0zM266.4 66.0h2.0v2.1h-2.0zM268.1 65.3h2.0v2.2h-2.0z"/>
<path fill="#1565c8" d="M258.9 32.8h2.0v1.6h-2.0zM261.5 32.4h1.7v2.1h-1.7zM280.0 32.5h1.9v1.6h-1.9zM274.0 35.0h1.9v2.1h-1.9zM290.5 34.8h1.6v1.9h-1.6zM282.7 37.2h1.5v1.5h-1.5zM284.8 37.3h2.0v2.1h-2.0zM288.9 37.4h2.0v1.4h-2.0zM254.0 39.3h1.5v1.7h-1.5zM255.8 39.3h1.4v1.4h-1.4zM258.2 39.6h1.7v1.4h-1.7zM262.4 39.7h2.0v1.6h-2.0zM265.4 39.3h1.6v2.1h-1.6zM278.1 39.4h2.8v2.5h-2.8zM290.1 39.1h2.9v2.3h-2.9zM302.2 39.6h1.5v2.1h-1.5zM257.0 42.0h1.6v1.7h-1.6zM296.0 41.3h2.6v2.7h-2.6zM301.0 41.7h1.9v2.1h-1.9zM241.8 44.2h2.2v1.5h-2.2zM248.6 44.0h1.8v1.6h-1.8zM243.4 46.7h1.7v1.9h-1.7zM245.2 45.9h1.8v2.1h-1.8zM252.5 46.0h2.3v2.2h-2.3zM300.5 45.9h2.3v2.4h-2.3zM246.2 48.7h2.8v2.3h-2.8zM306.1 48.6h2.2v2.0h-2.2zM241.7 53.2h2.2v2.7h-2.2zM311.2 52.8h2.2v2.1h-2.2zM233.9 55.8h2.1v1.8h-2.1zM228.4 57.8h1.5v1.8h-1.5zM237.3 57.7h2.4v2.2h-2.4zM238.6 59.7h2.3v2.8h-2.3zM226.3 66.9h1.4v1.8h-1.4zM241.6 66.5h2.5v2.5h-2.5zM244.2 66.7h2.4v2.9h-2.4zM233.3 69.4h2.7v2.4h-2.7zM245.0 69.4h2.5v2.3h-2.5zM236.9 71.5h2.6v2.7h-2.6zM235.9 73.9h2.8v2.4h-2.8zM240.6 73.2h2.7v2.8h-2.7zM242.7 73.7h2.6v2.7h-2.6zM245.2 73.5h2.8v2.4h-2.8zM225.9 76.5h1.5v2.1h-1.5zM232.6 76.1h2.5v2.7h-2.5zM237.6 76.1h2.4v2.6h-2.4zM242.1 76.2h2.4v2.2h-2.4zM250.5 76.0h2.8v2.5h-2.8zM224.6 78.6h1.8v1.8h-1.8zM231.1 77.9h2.7v2.7h-2.7zM236.0 78.2h2.7v2.3h-2.7zM245.1 78.2h2.7v2.5h-2.7zM321.1 78.2h2.6v2.6h-2.6zM223.6 80.5h1.8v2.1h-1.8zM225.8 80.3h1.8v2.2h-1.8zM248.4 80.3h2.7v2.4h-2.7zM233.9 82.7h2.6v2.4h-2.6zM238.0 83.1h2.7v2.7h-2.7zM242.5 82.4h2.6v2.8h-2.6zM249.4 82.4h2.4v2.9h-2.4zM323.9 83.7h1.8v1.4h-1.8zM230.2 85.5h2.8v2.4h-2.8zM239.4 84.8h2.4v2.6h-2.4zM250.8 85.6h2.3v2.2h-2.3zM222.8 87.8h1.6v2.0h-1.6zM227.5 87.3h1.8v2.0h-1.8zM236.1 87.5h2.2v2.9h-2.2zM238.7 87.5h2.4v2.7h-2.4zM230.6 89.6h2.2v2.2h-2.2zM246.0 89.5h2.8v2.9h-2.8zM250.8 89.7h2.3v2.4h-2.3zM229.5 92.8h1.6v1.4h-1.6zM235.7 92.0h2.5v2.5h-2.5zM247.7 91.7h2.5v2.7h-2.5zM249.5 91.9h2.6v2.4h-2.6zM321.3 92.4h1.6v1.6h-1.6zM326.2 92.8h1.7v1.8h-1.7zM226.2 94.5h1.7v1.7h-1.7zM322.4 94.4h1.7v2.1h-1.7zM325.0 95.2h1.8v1.5h-1.8zM222.1 96.8h1.9v2.2h-1.9zM226.8 96.8h2.1v2.2h-2.1zM240.1 96.7h2.8v2.3h-2.8zM247.6 96.5h2.7v2.3h-2.7zM249.5 96.8h2.3v2.8h-2.3zM254.3 97.0h2.4v2.5h-2.4zM319.2 96.6h2.3v2.8h-2.3zM324.0 96.6h1.7v1.9h-1.7zM225.7 99.2h1.7v1.9h-1.7zM234.5 99.3h2.4v2.5h-2.4zM241.8 99.0h2.8v2.7h-2.8zM240.8 101.6h2.4v2.4h-2.4zM243.1 101.7h2.4v2.4h-2.4zM244.7 101.4h2.8v2.4h-2.8zM252.1 101.3h2.9v2.9h-2.9zM319.1 101.7h1.7v1.7h-1.7zM223.7 103.8h1.6v1.8h-1.6zM241.4 103.6h2.9v2.5h-2.9zM246.2 103.8h2.6v2.5h-2.6zM248.9 103.6h2.3v2.3h-2.3zM317.9 103.2h2.3v2.5h-2.3zM233.5 106.5h2.2v1.7h-2.2zM316.6 105.9h2.5v2.7h-2.5zM230.5 108.7h2.1v2.1h-2.1zM236.6 107.9h2.9v2.6h-2.9zM239.6 107.9h2.5v2.2h-2.5zM244.1 108.0h2.5v2.4h-2.5zM315.2 108.1h2.3v2.7h-2.3zM238.3 110.1h2.6v2.7h-2.6zM240.9 110.8h2.6v2.4h-2.6zM230.8 112.7h1.6v1.8h-1.6zM237.3 113.4h2.2v1.7h-2.2zM239.3 112.4h2.2v2.8h-2.2zM244.1 112.9h2.3v2.9h-2.3zM250.4 112.5h2.8v2.4h-2.8zM315.8 113.0h1.6v1.7h-1.6zM317.8 113.0h2.1v1.7h-2.1zM245.1 115.0h2.5v2.2h-2.5zM247.4 115.5h2.5v2.2h-2.5zM316.8 115.5h1.7v1.5h-1.7zM233.3 117.5h1.6v1.9h-1.6zM246.3 117.7h2.7v2.3h-2.7zM238.8 120.5h2.1v1.5h-2.1zM250.0 119.2h2.4v2.8h-2.4zM310.2 119.7h1.7v2.1h-1.7zM242.0 122.3h1.8v2.2h-1.8zM253.4 122.2h2.3v2.6h-2.3zM255.5 121.9h2.9v2.5h-2.9zM240.7 125.1h1.6v1.5h-1.6zM243.5 124.2h1.7v1.8h-1.7zM298.3 124.3h2.6v2.6h-2.6zM300.0 124.1h2.7v2.7h-2.7zM242.0 127.1h1.5v1.8h-1.5zM253.8 127.2h2.1v1.4h-2.1zM257.9 127.2h1.6v1.5h-1.6zM306.1 126.7h1.9v1.8h-1.9zM255.0 129.3h2.2v1.6h-2.2zM298.9 129.2h1.7v1.7h-1.7zM251.3 131.6h1.8v1.8h-1.8zM267.4 131.5h1.8v1.5h-1.8zM270.1 131.2h1.6v1.7h-1.6zM272.1 131.7h2.1v1.5h-2.1zM274.3 131.7h2.0v1.9h-2.0zM263.9 133.7h1.8v2.0h-1.8zM268.1 133.4h1.9v2.1h-1.9zM288.6 135.8h1.5v1.8h-1.5zM318.8 57.8h1.9v1.9h-1.9zM284.3 31.8h1.5v1.4h-1.5zM325.1 94.2h2.0v1.4h-2.0zM327.0 81.4h1.8v1.6h-1.8zM263.4 32.0h1.4v2.0h-1.4zM311.1 121.5h1.9v1.9h-1.9zM323.7 99.0h1.9v2.0h-1.9zM254.2 133.9h1.7v1.5h-1.7zM299.4 37.3h1.4v1.6h-1.4zM245.4 38.1h1.5v1.5h-1.5zM238.9 42.5h1.9v1.8h-1.9zM221.8 71.9h1.3v1.5h-1.3zM310.7 45.4h1.6v1.8h-1.6zM284.6 136.5h1.4v1.4h-1.4zM283.1 136.9h1.4v1.7h-1.4zM232.0 118.1h1.7v2.0h-1.7zM320.5 108.3h1.5v1.6h-1.5zM253.7 133.9h1.4v1.6h-1.4zM306.5 41.9h1.7v1.6h-1.7zM311.0 46.1h1.9v1.4h-1.9zM260.3 136.1h1.5v1.9h-1.5zM225.3 61.0h1.5v1.9h-1.5zM242.3 40.7h1.9v1.5h-1.9zM264.9 31.0h1.5v1.6h-1.5zM322.2 64.8h1.8v1.8h-1.8zM325.9 91.0h1.8v1.3h-1.8zM222.2 71.2h1.4v1.4h-1.4zM279.2 31.2h1.6v1.8h-1.6zM238.2 123.8h1.9v1.9h-1.9zM226.2 109.9h1.9v1.9h-1.9zM322.1 106.2h1.8v1.6h-1.8zM321.9 107.0h1.7v2.0h-1.7zM235.1 47.0h1.6v1.4h-1.6zM286.9 33.3h1.9v1.6h-1.9zM240.4 42.6h1.4v1.4h-1.4zM220.7 92.3h1.7v1.8h-1.7zM268.6 31.5h1.8v1.9h-1.8zM244.7 38.9h1.9v1.5h-1.9zM225.8 60.7h1.6v1.9h-1.6zM223.0 100.8h1.5v1.3h-1.5zM318.1 56.8h1.9v1.8h-1.9zM286.4 136.0h1.9v1.9h-1.9zM253.2 34.3h2.0v1.9h-2.0zM228.0 113.5h1.8v1.5h-1.8zM249.4 35.8h1.7v1.7h-1.7zM249.1 132.9h1.9v1.4h-1.9zM284.8 32.7h1.9v1.5h-1.9zM234.7 121.1h1.7v1.7h-1.7zM221.4 98.4h1.4v1.7h-1.4zM254.5 135.0h1.3v1.4h-1.3zM292.5 133.8h1.7v1.7h-1.7zM286.9 136.1h1.4v1.3h-1.4zM232.2 119.4h2.0v1.3h-2.0zM239.9 41.7h1.9v1.6h-1.9zM292.8 34.5h1.5v1.6h-1.5zM315.4 117.8h1.7v1.8h-1.7zM228.3 114.4h1.9v1.8h-1.9zM326.0 76.5h1.4v1.4h-1.4zM287.5 136.3h1.9v1.5h-1.9zM275.8 31.4h1.9v1.6h-1.9zM313.7 119.5h1.7v1.6h-1.7zM308.3 45.1h1.9v1.3h-1.9zM254.0 34.0h1.8v1.6h-1.8zM220.1 75.0h1.7v1.8h-1.7zM224.7 61.7h1.4v1.3h-1.4zM262.3 32.2h1.3v1.4h-1.3zM327.0 82.0h1.3v1.6h-1.3zM324.9 100.3h1.4v1.9h-1.4zM221.3 98.7h1.8v1.6h-1.8zM250.8 35.9h1.9v1.7h-1.9zM266.1 137.2h1.9v1.4h-1.9zM308.2 125.3h1.9v1.3h-1.9zM259.0 136.3h1.8v1.9h-1.8zM323.2 104.8h1.7v1.6h-1.7zM277.4 31.7h1.9v1.7h-1.9zM325.2 70.8h1.5v1.4h-1.5zM252.9 35.2h1.8v1.7h-1.8zM221.5 95.6h1.4v1.7h-1.4zM323.7 69.3h1.7v1.6h-1.7zM219.5 86.3h1.6v1.4h-1.6zM298.3 131.6h1.8v1.5h-1.8zM299.1 37.2h2.0v1.5h-2.0zM304.5 128.5h1.8v1.4h-1.8zM325.6 95.7h1.6v1.6h-1.6zM298.8 131.8h1.9v1.9h-1.9zM277.8 138.3h1.3v1.4h-1.3zM245.5 39.0h1.9v1.7h-1.9zM293.1 53.6h2.1v1.9h-2.1zM299.7 47.6h2.1v2.5h-2.1zM299.5 45.9h2.0v2.0h-2.0zM292.1 50.0h2.3v2.3h-2.3zM293.3 48.8h2.4v2.0h-2.4zM302.6 52.9h2.2v2.2h-2.2zM289.7 67.4h2.2v2.0h-2.2zM302.8 66.8h2.1v2.3h-2.1zM295.6 66.0h2.4v2.2h-2.4zM298.5 68.5h2.1v2.4h-2.1zM298.3 55.2h2.2v2.1h-2.2zM293.8 58.8h2.3v2.5h-2.3zM304.4 57.6h2.1v2.4h-2.1zM305.6 59.2h2.1v2.3h-2.1zM309.0 59.7h2.2v2.4h-2.2zM291.9 59.1h1.9v2.1h-1.9zM288.3 58.6h2.3v2.3h-2.3zM291.9 57.8h1.9v2.1h-1.9zM293.5 58.7h2.2v2.1h-2.2zM289.3 50.2h2.4v2.2h-2.4zM285.4 46.8h2.4v2.3h-2.4zM296.0 46.6h2.4v1.9h-2.4zM297.0 45.0h2.4v1.9h-2.4zM298.4 43.6h2.3v2.2h-2.3zM292.0 46.8h2.3v2.4h-2.3zM296.0 65.0h1.9v2.1h-1.9zM289.1 52.4h2.0v2.2h-2.0zM288.8 50.5h2.1v2.3h-2.1zM289.5 48.8h2.3v2.2h-2.3zM306.2 60.5h1.9v2.2h-1.9zM310.1 62.7h2.1v2.2h-2.1zM297.3 60.8h2.1v2.3h-2.1zM303.3 50.4h2.2v2.1h-2.2zM292.7 47.2h2.1v2.3h-2.1zM293.9 52.5h2.5v2.0h-2.5zM303.4 55.1h2.5v2.3h-2.5zM303.2 58.5h2.1v2.3h-2.1zM297.5 54.7h2.4v2.4h-2.4zM294.2 43.0h2.0v2.3h-2.0zM292.6 41.9h2.1v2.3h-2.1zM293.3 60.0h2.1v2.2h-2.1zM298.7 54.5h2.3v2.4h-2.3zM286.2 42.9h2.2v2.0h-2.2zM290.3 49.0h2.4v1.9h-2.4zM288.9 51.0h2.0v2.2h-2.0zM290.1 47.2h2.5v2.0h-2.5zM285.7 50.3h2.3v2.3h-2.3zM250.2 46.6h2.0v2.4h-2.0zM247.2 49.2h2.4v2.4h-2.4zM248.2 47.4h1.9v2.5h-1.9zM249.3 47.4h2.0v2.4h-2.0zM248.2 49.2h2.1v2.1h-2.1zM250.5 48.4h2.5v2.0h-2.5zM251.6 49.9h2.1v2.4h-2.1zM248.1 44.6h2.3v2.4h-2.3zM246.9 40.4h2.1v2.3h-2.1zM244.2 49.6h2.3v2.1h-2.3zM300.9 104.2h2.1v2.4h-2.1zM295.9 113.1h2.3v2.2h-2.3zM292.6 109.1h2.4v2.5h-2.4zM303.2 105.5h1.9v2.2h-1.9zM303.1 103.5h2.3v2.4h-2.3zM295.5 116.7h2.0v1.9h-2.0zM303.4 121.4h2.3v2.1h-2.3zM302.8 115.9h1.9v2.0h-1.9zM296.9 108.2h2.3v2.4h-2.3zM293.6 106.1h2.4v2.4h-2.4zM300.9 111.3h2.5v2.3h-2.5zM298.5 106.5h2.3v2.3h-2.3zM310.9 103.1h2.2v2.3h-2.2zM309.0 107.7h2.0v2.2h-2.0zM305.8 107.5h1.9v1.9h-1.9zM304.1 106.4h2.4v2.0h-2.4zM314.2 106.5h2.4v2.3h-2.4zM309.7 107.7h2.0v2.2h-2.0zM307.7 107.5h2.3v2.1h-2.3zM309.7 109.5h2.0v2.0h-2.0zM309.1 111.2h1.9v2.1h-1.9zM312.7 108.1h2.2v2.0h-2.2zM317.7 107.3h1.9v2.1h-1.9zM311.0 102.8h2.3v2.2h-2.3zM288.9 74.2h2.0v2.5h-2.0zM297.4 83.7h2.0v2.0h-2.0zM300.5 86.9h2.2v2.3h-2.2zM299.8 83.3h2.2v2.2h-2.2zM307.2 96.1h2.0v2.1h-2.0zM302.7 89.5h2.2v2.3h-2.2zM284.5 108.3h2.3v2.1h-2.3zM279.7 108.0h2.4v2.4h-2.4zM276.7 106.9h1.9v2.2h-1.9zM261.6 65.9h2.4v2.4h-2.4zM262.2 66.9h2.0v2.0h-2.0zM269.8 64.9h2.4v2.3h-2.4z"/>
<path fill="#2a80e0" d="M272.1 30.5h2.2v2.1h-2.2zM263.7 32.9h2.1v1.8h-2.1zM265.9 32.4h2.1v1.5h-2.1zM275.2 32.7h2.1v2.2h-2.1zM277.6 32.9h2.1v1.9h-2.1zM286.6 32.8h1.8v1.7h-1.8zM258.4 34.6h1.9v2.1h-1.9zM272.4 34.9h1.8v2.0h-1.8zM283.8 34.8h2.0v1.9h-2.0zM254.5 37.4h1.7v2.0h-1.7zM265.9 37.5h1.9v1.5h-1.9zM277.7 37.0h1.6v2.0h-1.6zM250.2 42.4h1.5v1.5h-1.5zM298.7 42.0h2.0v1.8h-2.0zM255.8 44.0h2.3v2.3h-2.3zM301.7 43.8h1.7v2.1h-1.7zM308.5 44.1h1.7v1.8h-1.7zM238.4 46.8h2.1v1.7h-2.1zM241.3 46.6h1.7v1.7h-1.7zM309.6 46.3h2.2v1.5h-2.2zM235.1 48.8h2.1v1.8h-2.1zM239.6 49.1h1.8v1.5h-1.8zM231.9 51.0h2.0v2.1h-2.0zM238.6 51.2h2.1v1.5h-2.1zM243.0 51.1h2.2v2.4h-2.2zM237.2 53.3h1.9v1.6h-1.9zM315.5 53.5h1.6v2.1h-1.6zM240.7 55.1h2.3v2.9h-2.3zM230.7 57.5h1.8v1.9h-1.8zM234.9 57.9h1.7v1.6h-1.7zM241.4 58.0h2.6v2.2h-2.6zM312.9 57.2h2.6v2.8h-2.6zM229.4 60.3h2.2v1.9h-2.2zM314.6 59.8h2.2v2.3h-2.2zM316.4 64.2h2.4v2.3h-2.4zM230.4 66.7h1.5v1.9h-1.5zM233.0 66.8h2.2v2.4h-2.2zM222.8 69.3h1.5v2.1h-1.5zM236.3 68.5h2.4v2.7h-2.4zM238.3 69.0h2.3v2.7h-2.3zM321.4 69.5h2.2v1.6h-2.2zM223.8 71.8h2.0v1.4h-2.0zM228.1 71.8h1.7v1.8h-1.7zM244.0 71.3h2.8v2.8h-2.8zM227.5 73.7h1.8v1.7h-1.8zM238.0 73.6h2.3v2.4h-2.3zM247.7 73.7h2.3v2.6h-2.3zM230.5 75.8h2.4v2.6h-2.4zM222.9 78.7h1.9v1.7h-1.9zM229.1 77.7h2.4v2.9h-2.4zM236.1 83.0h2.3v2.4h-2.3zM252.1 82.6h2.7v2.7h-2.7zM221.3 85.9h1.9v1.7h-1.9zM224.0 85.5h1.6v1.5h-1.6zM253.4 85.5h2.2v2.6h-2.2zM220.2 87.5h2.1v1.9h-2.1zM231.1 87.7h2.8v2.8h-2.8zM249.6 87.4h2.3v2.3h-2.3zM252.5 87.3h2.2v2.4h-2.2zM256.2 87.5h2.8v2.5h-2.8zM258.9 87.6h2.4v2.7h-2.4zM234.7 89.8h2.5v2.8h-2.5zM255.1 90.1h2.9v2.4h-2.9zM325.3 90.0h1.5v1.7h-1.5zM226.8 92.7h2.0v2.0h-2.0zM231.2 92.0h2.4v2.8h-2.4zM233.1 92.4h2.9v2.3h-2.9zM251.9 92.4h2.4v2.2h-2.4zM254.8 91.6h2.3v2.7h-2.3zM243.7 93.9h2.5v2.7h-2.5zM253.5 93.9h2.6v2.7h-2.6zM231.3 96.8h2.6v2.4h-2.6zM232.3 99.1h2.4v2.8h-2.4zM236.0 101.4h2.8v2.7h-2.8zM249.7 101.6h2.7v2.2h-2.7zM232.7 104.2h1.6v1.5h-1.6zM236.6 103.6h2.9v2.7h-2.9zM243.7 103.2h2.5v2.4h-2.5zM224.5 105.9h2.1v1.8h-2.1zM229.2 106.4h1.9v2.1h-1.9zM243.1 106.2h2.4v2.2h-2.4zM321.3 106.3h2.1v1.9h-2.1zM225.7 108.6h2.1v1.4h-2.1zM228.5 108.2h2.2v1.6h-2.2zM320.1 108.8h1.8v1.4h-1.8zM235.5 113.3h1.9v2.0h-1.9zM229.5 115.0h1.8v2.0h-1.8zM234.2 115.8h1.5v1.7h-1.5zM254.0 115.4h2.8v2.2h-2.8zM243.8 117.0h2.4v2.8h-2.4zM248.8 117.8h2.7v2.3h-2.7zM255.5 117.3h2.7v2.5h-2.7zM313.2 117.3h2.1v1.7h-2.1zM256.9 119.5h2.3v2.6h-2.3zM238.6 124.2h1.6v2.1h-1.6zM248.1 124.5h2.1v2.1h-2.1zM259.1 124.4h2.6v2.5h-2.6zM249.0 127.1h2.0v2.0h-2.0zM292.3 126.5h2.3v2.6h-2.3zM299.4 127.0h1.9v1.7h-1.9zM302.2 126.8h1.8v1.7h-1.8zM261.2 129.1h2.1v1.9h-2.1zM263.5 129.4h2.2v2.1h-2.2zM284.4 129.2h2.3v2.6h-2.3zM286.6 129.1h2.3v2.7h-2.3zM296.2 129.0h1.6v2.1h-1.6zM300.6 129.0h1.6v1.9h-1.6zM253.8 131.5h1.6v1.7h-1.6zM276.3 131.5h1.9v1.6h-1.9zM252.7 133.8h2.0v2.0h-2.0zM282.5 134.0h1.6v1.6h-1.6zM291.4 133.6h2.2v1.8h-2.2zM269.9 136.3h1.9v1.6h-1.9zM286.3 135.8h1.6v2.1h-1.6zM295.3 49.4h1.9v2.2h-1.9zM300.7 53.2h2.1v2.2h-2.1zM304.0 54.3h2.0v2.2h-2.0zM304.2 56.3h2.1v1.9h-2.1zM290.1 63.7h2.2v2.2h-2.2zM290.6 65.4h2.0v2.4h-2.0zM287.0 64.0h2.3v2.5h-2.3zM296.0 65.4h2.5v2.2h-2.5zM298.0 65.6h2.3v1.9h-2.3zM299.0 56.9h2.0v2.2h-2.0zM295.5 58.3h2.4v2.2h-2.4zM293.5 60.0h2.0v2.1h-2.0zM287.8 49.6h1.9v2.2h-1.9zM293.3 48.3h2.1v2.4h-2.1zM308.1 63.1h2.4v2.4h-2.4zM302.0 56.1h2.5v1.9h-2.5zM304.0 62.9h2.3v2.1h-2.3zM295.5 53.4h2.4v2.5h-2.4zM297.0 54.8h1.9v2.5h-1.9zM295.5 62.9h1.9v2.1h-1.9zM299.4 48.3h2.0v2.2h-2.0zM299.4 50.6h2.3v2.5h-2.3zM299.9 48.9h2.1v2.3h-2.1zM301.6 48.6h2.4v2.2h-2.4zM292.8 67.7h2.0v2.3h-2.0zM303.9 52.8h2.1v2.0h-2.1zM305.5 51.6h2.0v2.2h-2.0zM296.9 62.5h2.4v2.5h-2.4zM296.3 54.4h2.3v2.4h-2.3zM296.1 57.5h2.2v2.1h-2.2zM282.9 51.8h2.4v2.0h-2.4zM300.4 52.7h2.1v2.4h-2.1zM302.1 53.6h2.3v2.0h-2.3zM289.0 50.3h2.5v2.2h-2.5zM287.0 50.4h2.2v2.1h-2.2zM291.6 48.4h2.1v2.3h-2.1zM291.1 45.4h2.0v2.2h-2.0zM290.0 47.3h2.2v2.0h-2.2zM282.5 40.5h2.3v2.3h-2.3zM280.8 40.5h2.0v2.2h-2.0zM284.9 48.0h2.4v2.4h-2.4zM282.7 45.5h2.2v2.0h-2.2zM284.1 47.8h1.9v2.0h-1.9zM251.6 45.8h2.4v2.2h-2.4zM248.1 47.0h2.4v2.2h-2.4zM253.6 49.6h1.9v2.2h-1.9zM247.2 43.2h2.0v2.1h-2.0zM242.5 48.7h2.4v2.1h-2.4zM301.1 109.7h2.4v2.4h-2.4zM302.7 104.2h2.2v1.9h-2.2zM302.0 100.0h2.3v2.3h-2.3zM295.4 118.4h2.1v2.4h-2.1zM301.9 118.0h2.4v2.2h-2.4zM293.5 116.5h2.1v2.2h-2.1zM296.8 115.9h2.3v2.4h-2.3zM304.6 111.6h2.5v2.2h-2.5zM297.2 107.7h2.2v2.3h-2.2zM310.6 104.9h2.4v2.5h-2.4zM309.9 108.7h2.0v2.2h-2.0zM309.7 106.4h2.1v1.9h-2.1zM310.7 104.6h2.0v2.3h-2.0zM310.4 99.2h2.0v2.3h-2.0zM286.6 74.2h2.0v2.4h-2.0zM306.5 92.7h2.5v2.4h-2.5zM305.3 91.5h2.4v2.0h-2.4zM280.9 106.6h2.5v2.4h-2.5zM277.9 108.2h2.2v2.3h-2.2zM262.1 67.9h2.4v2.1h-2.4zM258.8 60.6h2.1v2.0h-2.1zM262.2 70.3h2.4v2.2h-2.4zM260.4 70.3h2.2v2.4h-2.2zM262.4 65.8h2.4v2.3h-2.4z"/>
<path fill="#0f5bb5" d="M267.1 39.2h2.6v2.2h-2.6zM271.2 39.7h2.9v2.2h-2.9zM250.1 46.0h2.5v2.5h-2.5zM308.3 52.8h2.9v2.7h-2.9zM241.8 62.6h2.7v2.5h-2.7zM242.9 64.9h2.4v2.3h-2.4zM236.9 66.4h2.5v2.5h-2.5zM235.1 71.1h2.7v2.4h-2.7zM239.7 71.8h2.6v2.2h-2.6zM233.4 73.3h2.4v2.5h-2.4zM234.5 75.6h2.6v2.6h-2.6zM238.0 78.4h2.7v2.7h-2.7zM240.3 78.7h2.8v2.3h-2.8zM232.3 80.7h2.5v2.9h-2.5zM237.0 80.3h2.5v2.3h-2.5zM244.2 80.2h2.6v2.7h-2.6zM253.0 80.7h2.3v2.9h-2.3zM254.3 83.2h2.8v2.5h-2.8zM232.4 84.8h2.2v2.5h-2.2zM234.8 85.1h2.9v2.8h-2.9zM233.5 87.2h2.2v2.8h-2.2zM241.9 90.0h2.7v2.3h-2.7zM238.7 91.6h2.4v2.8h-2.4zM242.9 92.2h2.4v2.3h-2.4zM245.0 92.1h2.4v2.8h-2.4zM230.3 94.1h2.3v2.8h-2.3zM235.3 94.6h2.3v2.8h-2.3zM242.0 94.2h2.5v2.5h-2.5zM320.1 94.1h2.5v2.7h-2.5zM235.9 96.5h2.2v2.2h-2.2zM239.8 99.1h2.4v2.2h-2.4zM246.3 98.4h2.6v2.9h-2.6zM251.3 98.8h2.6v2.4h-2.6zM234.6 103.6h2.7v2.4h-2.7zM240.9 105.9h2.4v2.4h-2.4zM241.8 107.9h2.5v2.8h-2.5zM246.7 108.5h2.6v2.5h-2.6zM247.3 110.4h2.8v2.8h-2.8zM249.7 110.4h2.2v2.7h-2.2zM253.4 112.4h2.9v2.8h-2.9zM242.7 115.5h2.7v2.3h-2.7zM311.5 115.0h2.9v2.3h-2.9zM301.4 122.5h2.4v2.2h-2.4zM288.9 129.1h2.3v2.2h-2.3zM296.9 50.2h2.2v2.1h-2.2zM295.0 64.2h2.0v2.5h-2.0zM297.4 58.1h2.3v2.4h-2.3zM297.1 58.9h2.0v2.4h-2.0zM295.2 59.2h2.4v2.2h-2.4zM286.1 48.7h1.9v2.2h-1.9zM294.6 53.7h1.9v2.0h-1.9zM294.1 51.9h2.1v1.9h-2.1zM301.1 66.2h2.0v2.5h-2.0zM295.3 51.8h2.4v2.1h-2.4zM297.2 62.9h2.0v2.4h-2.0zM299.0 63.5h2.0v2.4h-2.0zM302.5 63.7h2.1v2.5h-2.1zM294.3 55.6h2.4v2.1h-2.4zM295.7 54.1h2.3v2.5h-2.3zM297.8 52.7h2.1v2.5h-2.1zM300.2 49.9h1.9v2.5h-1.9zM293.9 62.6h1.9v2.0h-1.9zM306.3 47.3h2.1v2.3h-2.1zM307.6 45.7h2.0v2.5h-2.0zM295.0 58.9h1.9v2.4h-1.9zM295.3 54.2h2.0v1.9h-2.0zM282.8 44.2h2.2v2.2h-2.2zM287.2 50.0h2.5v2.0h-2.5zM290.6 51.5h2.1v2.4h-2.1zM292.2 52.6h2.3v2.1h-2.3zM292.1 54.3h2.4v2.4h-2.4zM289.8 48.5h2.2v2.5h-2.2zM278.7 40.1h2.5v2.1h-2.5zM285.8 48.5h1.9v2.2h-1.9zM242.5 45.4h1.9v2.3h-1.9zM300.2 106.2h2.3v2.0h-2.3zM298.4 107.8h2.3v2.5h-2.3zM305.6 111.0h2.1v2.0h-2.1zM296.4 110.6h2.2v2.0h-2.2zM300.8 112.8h2.2v2.0h-2.2zM296.8 114.0h2.4v2.4h-2.4zM302.7 111.1h2.5v2.3h-2.5zM298.9 118.4h1.9v1.9h-1.9zM317.5 108.6h2.4v2.0h-2.4zM314.4 109.4h2.2v1.9h-2.2zM310.5 107.0h1.9v1.9h-1.9zM316.5 109.0h2.0v2.0h-2.0zM290.0 73.5h2.0v2.4h-2.0zM287.8 76.1h2.3v2.1h-2.3zM290.7 73.8h2.1v2.4h-2.1zM298.1 85.4h2.0v2.0h-2.0zM299.8 85.1h2.1v2.3h-2.1zM301.7 82.7h2.1v2.0h-2.1zM278.3 107.8h2.2v2.1h-2.2zM275.3 105.5h2.1v2.2h-2.1zM263.9 69.0h1.9v2.0h-1.9zM259.7 63.9h2.4v2.0h-2.4zM258.4 67.6h2.5v2.4h-2.5zM263.1 71.6h2.3v2.1h-2.3z"/>
<path stroke="#e0205a" stroke-width="1.7" fill="none" d="M263.7 37.4L263.0 34.3M266.5 37.0L266.0 33.9M268.8 37.6L268.4 33.5M281.7 37.6L282.3 33.9M298.5 40.1L300.4 36.5M253.0 41.7L251.6 38.7M292.9 41.9L294.4 38.3M246.2 46.3L244.0 43.2M239.0 49.0L236.1 46.0M307.5 48.4L310.0 45.7M308.5 51.3L311.3 48.5M313.4 53.6L316.8 50.9M240.9 57.6L238.0 55.2M317.0 64.5L320.5 62.8M225.3 66.2L222.3 65.0M227.0 77.8L222.7 77.2M324.8 84.0L328.9 83.9M222.2 86.3L218.1 86.4M321.0 88.7L324.3 88.9M325.2 88.4L328.6 88.7M227.5 97.3L224.2 98.1M320.3 102.1L323.7 103.3M228.3 103.9L225.5 105.0M235.3 112.8L231.9 115.3M238.5 119.9L236.0 122.4M303.5 121.2L306.3 124.5M307.9 121.4L310.9 124.6M297.6 126.4L299.2 129.2M254.0 128.0L252.5 131.4M293.7 128.2L295.4 131.8M250.9 130.3L249.0 133.9M257.1 130.6L256.1 133.4M295.2 130.7L297.1 134.6M268.2 135.4L267.8 138.9M277.3 135.2L277.6 138.5"/>
<path fill="#d4134a" d="M294.4 50.0h2.0v2.0h-2.0zM294.0 50.6h2.3v2.2h-2.3zM298.7 63.6h1.9v2.3h-1.9zM292.1 50.9h2.5v2.3h-2.5zM288.2 47.0h2.1v1.9h-2.1zM284.1 41.4h2.5v2.3h-2.5zM283.2 47.3h2.4v2.1h-2.4zM246.9 46.1h2.1v2.3h-2.1zM247.4 38.7h2.0v2.0h-2.0zM245.9 48.4h2.2v2.4h-2.2zM300.4 108.1h2.3v2.1h-2.3zM305.7 108.9h2.0v2.3h-2.0zM301.5 98.2h2.1v2.3h-2.1zM297.6 116.8h2.2v2.2h-2.2zM307.4 106.7h2.1v1.9h-2.1zM298.5 87.0h2.4v2.5h-2.4z"/>
<circle cx="260.3" cy="62.5" r="6.8" fill="none" stroke="#6b4520" stroke-width="1.4"/>
<circle cx="260.3" cy="62.5" r="2" fill="#9b7a4a"/>
<circle cx="275.7" cy="134.1" r="6.8" fill="none" stroke="#e8202a" stroke-width="1.4"/>
<circle cx="275.7" cy="134.1" r="2.2" fill="#e01040"/>
<circle cx="386" cy="85.7" r="52.5" fill="url(#sph)"/>
<path fill="#1e72d6" fill-rule="evenodd" d="M438.8,85.7 L438.8,83.9 L438.7,82.0 L438.5,80.2 L438.3,78.4 L438.0,76.5 L437.6,74.7 L437.2,72.9 L436.8,71.1 L436.2,69.4 L435.6,67.6 L435.0,65.9 L434.2,64.2 L433.5,62.6 L432.6,60.9 L431.7,59.3 L430.8,57.7 L429.8,56.2 L428.7,54.7 L427.6,53.2 L426.4,51.8 L425.2,50.4 L424.0,49.0 L422.7,47.7 L421.3,46.5 L419.9,45.3 L418.5,44.1 L417.0,43.0 L415.5,41.9 L414.0,40.9 L412.4,40.0 L410.8,39.1 L409.1,38.2 L407.5,37.5 L405.8,36.7 L404.1,36.1 L402.3,35.5 L400.6,34.9 L398.8,34.5 L397.0,34.1 L395.2,33.7 L393.3,33.4 L391.5,33.2 L389.7,33.0 L387.8,32.9 L386.0,32.9 L384.2,32.9 L382.3,33.0 L380.5,33.2 L378.7,33.4 L376.8,33.7 L375.0,34.1 L373.2,34.5 L371.4,34.9 L369.7,35.5 L367.9,36.1 L366.2,36.7 L364.5,37.5 L362.9,38.2 L361.2,39.1 L359.6,40.0 L358.0,40.9 L356.5,41.9 L355.0,43.0 L353.5,44.1 L352.1,45.3 L350.7,46.5 L349.3,47.7 L348.0,49.0 L346.8,50.4 L345.6,51.8 L344.4,53.2 L343.3,54.7 L342.2,56.2 L341.2,57.7 L340.3,59.3 L339.4,60.9 L338.5,62.6 L337.8,64.2 L337.0,65.9 L336.4,67.6 L335.8,69.4 L335.2,71.1 L334.8,72.9 L334.4,74.7 L334.0,76.5 L333.7,78.4 L333.5,80.2 L333.3,82.0 L333.2,83.9 L333.2,85.7 L333.2,87.5 L333.3,89.4 L333.5,91.2 L333.7,93.0 L334.0,94.9 L334.4,96.7 L334.8,98.5 L335.2,100.3 L335.8,102.0 L336.4,103.8 L337.0,105.5 L337.8,107.2 L338.5,108.8 L339.4,110.5 L340.3,112.1 L341.2,113.7 L342.2,115.2 L343.3,116.7 L344.4,118.2 L345.6,119.6 L346.8,121.0 L348.0,122.4 L349.3,123.7 L350.7,124.9 L352.1,126.1 L353.5,127.3 L355.0,128.4 L356.5,129.5 L358.0,130.5 L359.6,131.4 L361.2,132.3 L362.9,133.2 L364.5,133.9 L366.2,134.7 L367.9,135.3 L369.7,135.9 L371.4,136.5 L373.2,136.9 L375.0,137.3 L376.8,137.7 L378.7,138.0 L380.5,138.2 L382.3,138.4 L384.2,138.5 L386.0,138.5 L387.8,138.5 L389.7,138.4 L391.5,138.2 L393.3,138.0 L395.2,137.7 L397.0,137.3 L398.8,136.9 L400.6,136.5 L402.3,135.9 L404.1,135.3 L405.8,134.7 L407.5,133.9 L409.1,133.2 L410.8,132.3 L412.4,131.4 L414.0,130.5 L415.5,129.5 L417.0,128.4 L418.5,127.3 L419.9,126.1 L421.3,124.9 L422.7,123.7 L424.0,122.4 L425.2,121.0 L426.4,119.6 L427.6,118.2 L428.7,116.7 L429.8,115.2 L430.8,113.7 L431.7,112.1 L432.6,110.5 L433.5,108.8 L434.2,107.2 L435.0,105.5 L435.6,103.8 L436.2,102.0 L436.8,100.3 L437.2,98.5 L437.6,96.7 L438.0,94.9 L438.3,93.0 L438.5,91.2 L438.7,89.4 L438.8,87.5ZM432.2,87.3 L432.4,88.9 L432.6,90.6 L432.6,92.2 L432.4,93.9 L432.2,95.5 L432.0,97.2 L431.9,98.9 L431.7,100.5 L431.4,102.2 L430.8,103.8 L429.9,105.2 L428.8,106.6 L427.7,107.9 L426.7,109.2 L425.7,110.5 L424.9,111.9 L424.1,113.4 L423.2,114.7 L422.1,116.0 L420.8,117.1 L419.6,118.1 L418.4,119.2 L417.2,120.4 L416.1,121.6 L414.9,122.6 L413.5,123.5 L412.0,124.2 L410.4,124.7 L408.9,125.4 L407.5,126.2 L406.3,127.2 L405.0,128.4 L403.6,129.3 L402.1,130.0 L400.4,130.2 L398.7,130.1 L397.0,129.8 L395.3,129.6 L393.7,129.5 L392.1,129.4 L390.6,129.1 L389.0,129.1 L387.5,129.2 L386.0,129.2 L384.5,129.2 L383.0,129.1 L381.5,129.0 L379.9,128.8 L378.4,128.5 L377.0,128.2 L375.5,127.9 L374.0,127.5 L372.6,127.1 L371.1,126.6 L369.7,126.0 L368.3,125.4 L366.9,124.8 L365.6,124.1 L364.2,123.4 L362.9,122.6 L361.7,121.8 L360.4,120.9 L359.2,120.0 L358.0,119.0 L356.9,118.0 L355.8,117.0 L354.7,115.9 L353.7,114.8 L352.7,113.7 L351.7,112.5 L350.8,111.3 L349.9,110.0 L349.1,108.8 L348.3,107.5 L347.6,106.1 L346.9,104.8 L346.3,103.4 L345.7,102.0 L345.1,100.6 L344.6,99.1 L344.2,97.7 L343.8,96.2 L343.5,94.7 L343.2,93.3 L342.9,91.8 L342.7,90.2 L342.6,88.7 L342.5,87.2 L342.5,85.7 L342.5,84.2 L342.6,82.7 L342.7,81.2 L342.9,79.6 L343.2,78.1 L343.5,76.7 L343.8,75.2 L344.2,73.7 L344.6,72.3 L345.1,70.8 L345.7,69.4 L346.3,68.0 L346.9,66.6 L347.6,65.3 L348.3,64.0 L349.1,62.6 L349.9,61.4 L350.8,60.1 L351.7,58.9 L352.7,57.7 L353.7,56.6 L354.7,55.5 L355.8,54.4 L356.9,53.4 L358.0,52.4 L359.2,51.4 L360.4,50.5 L361.7,49.6 L362.9,48.8 L364.2,48.0 L365.6,47.3 L366.9,46.6 L368.3,46.0 L369.7,45.4 L371.1,44.8 L372.6,44.3 L374.0,43.9 L375.5,43.5 L376.8,42.3 L378.2,41.4 L379.7,40.6 L381.2,39.7 L382.7,39.0 L384.3,38.4 L386.0,37.9 L387.7,37.7 L389.3,37.9 L391.0,38.3 L392.6,38.8 L394.2,39.2 L395.9,39.3 L397.5,39.4 L399.3,39.5 L400.9,39.7 L402.6,40.2 L404.1,41.0 L405.5,41.8 L407.0,42.6 L408.5,43.4 L410.0,44.1 L411.5,44.9 L412.8,45.9 L414.1,47.0 L415.3,48.2 L416.6,49.3 L417.9,50.3 L419.4,51.1 L420.9,52.0 L422.4,53.0 L423.7,54.1 L424.7,55.5 L425.5,57.0 L426.2,58.6 L426.9,60.1 L427.6,61.7 L428.4,63.2 L429.0,64.7 L429.5,66.3 L429.9,68.0 L430.1,69.6 L430.5,71.2 L430.9,72.8 L431.5,74.3 L432.1,75.9 L432.5,77.5 L432.6,79.2 L432.5,80.8 L432.2,82.5 L432.0,84.1 L432.0,85.7Z"/>
<path fill="#1b6fd6" d="M390.0 37.8h2.8v2.9h-2.8zM394.1 38.0h2.8v2.3h-2.8zM399.2 38.0h2.5v2.9h-2.5zM408.4 42.2h2.7v2.6h-2.7zM368.2 44.4h2.7v2.9h-2.7zM372.9 44.9h2.5v2.3h-2.5zM368.8 46.9h2.6v2.5h-2.6zM359.8 51.6h2.4v2.2h-2.4zM423.1 53.9h2.8v2.7h-2.8zM352.7 56.6h2.5v2.6h-2.5zM349.5 58.7h2.2v2.8h-2.2zM348.3 60.8h2.9v2.6h-2.9zM351.8 63.1h2.3v2.7h-2.3zM427.9 67.4h2.6v2.7h-2.6zM344.2 70.0h2.6v2.3h-2.6zM348.5 70.3h2.7v2.3h-2.7zM429.0 70.1h2.4v2.6h-2.4zM346.5 74.7h2.5v2.9h-2.5zM342.4 76.5h2.7v2.7h-2.7zM345.0 76.6h2.7v2.5h-2.7zM341.4 83.8h2.3v2.6h-2.3zM344.1 84.1h2.7v2.6h-2.7zM342.3 85.7h2.8v2.6h-2.8zM345.3 86.3h2.4v2.4h-2.4zM430.4 86.1h2.7v2.4h-2.7zM341.3 88.1h2.7v2.4h-2.7zM343.5 88.4h2.8v2.6h-2.8zM431.0 88.2h2.4v2.4h-2.4zM342.0 93.4h2.3v2.3h-2.3zM345.8 93.1h2.8v2.8h-2.8zM431.1 93.3h2.8v2.8h-2.8zM430.1 95.2h2.4v2.5h-2.4zM430.9 97.4h2.6v2.5h-2.6zM349.7 100.1h2.2v2.7h-2.2zM346.2 102.1h2.8v2.8h-2.8zM353.0 102.4h2.5v2.8h-2.5zM353.4 106.9h2.5v2.4h-2.5zM355.2 106.6h2.4v2.8h-2.4zM349.7 109.1h2.3v2.6h-2.3zM354.0 113.8h2.8v2.5h-2.8zM420.0 115.9h2.5v2.5h-2.5zM358.9 118.4h2.3v2.5h-2.3zM361.6 118.4h2.3v2.5h-2.3zM416.3 118.4h2.6v2.4h-2.6zM368.2 122.7h2.6v2.2h-2.6zM409.7 122.7h2.8v2.3h-2.8zM369.0 125.0h2.4v2.7h-2.4zM374.2 125.4h2.3v2.7h-2.3zM405.8 125.4h2.8v2.5h-2.8zM379.7 127.6h2.7v2.6h-2.7zM384.0 127.4h2.4v2.6h-2.4zM386.4 127.7h2.4v2.3h-2.4zM388.7 127.2h2.3v2.6h-2.3zM400.6 127.8h2.3v2.6h-2.3zM402.6 127.8h2.5v2.4h-2.5zM334.1 72.5h1.6v1.7h-1.6zM378.1 32.4h1.8v2.0h-1.8zM335.7 102.7h1.6v1.4h-1.6zM334.1 97.5h1.8v1.7h-1.8zM365.3 35.7h1.8v1.4h-1.8zM391.7 32.1h1.4v1.9h-1.4zM432.1 59.3h1.3v1.8h-1.3zM422.7 121.5h1.9v1.3h-1.9zM418.4 125.5h1.8v1.3h-1.8zM406.7 133.4h1.4v1.6h-1.4zM428.4 54.6h1.6v1.5h-1.6zM332.8 74.3h1.5v1.7h-1.5zM346.3 48.5h1.8v1.3h-1.8zM355.6 128.2h1.9v1.8h-1.9zM357.3 130.2h1.4v1.4h-1.4zM372.7 135.8h1.5v1.7h-1.5zM394.7 136.5h1.8v1.8h-1.8zM361.6 132.2h1.5v1.3h-1.5zM334.2 72.8h1.3v1.4h-1.3zM333.3 74.4h1.3v1.6h-1.3zM408.9 37.5h1.4v1.8h-1.4zM401.6 135.5h1.5v1.7h-1.5zM435.1 102.0h1.5v1.6h-1.5zM400.4 134.9h2.0v1.7h-2.0zM404.2 134.9h1.6v1.3h-1.6zM434.4 105.9h1.7v2.0h-1.7zM359.2 39.2h1.4v1.7h-1.4zM375.0 136.9h1.4v1.5h-1.4zM431.6 109.4h1.9v1.4h-1.9zM409.1 132.8h1.7v1.7h-1.7zM333.4 93.9h1.8v1.6h-1.8zM349.5 124.5h1.6v1.6h-1.6zM360.2 131.9h1.7v1.5h-1.7zM332.6 78.6h1.8v2.0h-1.8zM338.4 107.9h1.3v1.8h-1.3zM406.7 132.9h1.3v1.7h-1.3zM413.2 129.0h1.4v1.8h-1.4zM359.6 131.8h1.3v1.7h-1.3zM389.5 32.2h1.3v1.9h-1.3zM437.5 91.0h1.8v1.5h-1.8zM369.4 135.5h1.9v1.5h-1.9zM338.3 110.0h1.5v2.0h-1.5zM410.2 39.0h1.8v1.7h-1.8zM379.1 137.4h1.7v1.6h-1.7zM336.8 105.3h1.9v1.8h-1.9zM344.0 50.9h1.8v1.6h-1.8zM388.8 137.4h1.7v1.7h-1.7zM333.2 76.6h1.6v1.5h-1.6zM409.4 131.5h1.5v1.8h-1.5zM425.0 50.3h1.9v1.7h-1.9zM435.9 69.1h1.5v1.4h-1.5zM412.4 39.2h1.8v1.9h-1.8zM375.4 137.1h1.6v1.5h-1.6zM337.0 105.9h1.5v1.8h-1.5zM369.5 33.5h1.9v1.9h-1.9zM400.6 135.5h1.4v1.8h-1.4zM345.4 50.0h1.7v1.4h-1.7zM340.6 112.9h1.4v1.8h-1.4zM394.0 32.5h1.3v1.8h-1.3zM367.5 34.6h1.4v1.9h-1.4zM438.4 82.4h1.3v1.7h-1.3zM377.4 33.3h1.4v1.5h-1.4zM409.6 131.3h1.9v1.9h-1.9zM377.7 32.2h1.9v1.8h-1.9zM433.3 105.4h1.8v1.8h-1.8zM334.1 99.4h1.9v1.9h-1.9zM422.7 121.4h2.0v1.3h-2.0zM331.7 81.3h1.8v1.8h-1.8zM372.8 136.4h1.6v1.9h-1.6zM332.0 90.7h1.9v1.7h-1.9zM365.0 133.2h1.5v1.6h-1.5zM437.4 72.9h1.5v1.9h-1.5zM420.3 124.9h1.8v1.8h-1.8zM390.3 137.8h1.7v1.5h-1.7zM395.6 33.2h1.6v1.9h-1.6zM418.8 44.6h1.3v1.7h-1.3zM333.8 99.8h1.3v1.4h-1.3zM437.4 81.1h1.5v1.8h-1.5zM435.1 67.0h1.6v2.0h-1.6zM332.7 74.0h1.6v1.7h-1.6zM438.3 81.4h1.3v1.4h-1.3zM388.3 32.6h1.6v1.4h-1.6zM393.3 137.0h1.4v1.9h-1.4zM432.0 108.6h1.8v1.7h-1.8zM364.3 134.0h2.0v1.5h-2.0zM438.0 90.3h1.8v1.5h-1.8zM427.3 53.2h1.7v1.6h-1.7zM348.3 46.1h1.7v1.9h-1.7zM338.3 61.6h1.4v1.4h-1.4zM372.5 136.0h1.7v1.6h-1.7zM429.6 56.2h1.8v1.4h-1.8zM415.6 128.4h1.8v1.5h-1.8zM366.1 36.0h1.9v1.6h-1.9zM430.0 57.7h1.5v1.5h-1.5zM437.3 76.7h1.8v1.5h-1.8zM393.8 136.9h1.4v1.9h-1.4zM433.6 105.4h1.3v1.8h-1.3zM332.3 82.7h1.9v2.0h-1.9zM339.8 111.3h1.9v1.6h-1.9zM392.8 136.9h1.7v2.0h-1.7zM356.4 40.1h1.9v1.6h-1.9zM364.3 37.0h1.4v1.7h-1.4zM335.4 67.1h1.4v1.9h-1.4zM437.0 92.3h1.9v2.0h-1.9zM334.7 67.2h1.4v2.0h-1.4zM380.7 138.2h1.6v1.5h-1.6zM384.6 138.3h1.4v1.5h-1.4zM424.3 121.4h1.5v1.3h-1.5zM346.2 120.5h1.5v1.4h-1.5zM368.7 35.3h2.0v1.4h-2.0zM421.9 46.2h1.6v1.7h-1.6zM410.3 131.4h1.6v1.6h-1.6zM425.6 50.0h1.6v1.8h-1.6zM394.8 137.6h1.6v1.6h-1.6zM334.9 100.7h1.6v1.5h-1.6zM334.1 71.5h1.8v1.5h-1.8zM367.0 133.8h1.6v1.7h-1.6zM436.8 76.5h1.8v1.5h-1.8zM432.9 109.3h1.3v1.9h-1.3zM333.2 72.6h1.7v1.8h-1.7zM358.2 39.2h1.7v1.8h-1.7zM342.2 54.5h1.4v1.5h-1.4zM405.9 133.7h1.3v1.5h-1.3zM353.2 127.5h1.8v1.7h-1.8zM357.0 129.6h1.8v1.7h-1.8zM438.0 83.4h1.4v1.5h-1.4zM368.0 34.6h1.8v1.6h-1.8zM396.5 32.6h1.5v1.9h-1.5zM348.0 47.8h1.4v1.9h-1.4zM377.8 32.6h1.8v1.3h-1.8zM401.7 135.7h1.4v1.4h-1.4zM436.0 97.1h1.9v1.4h-1.9zM346.8 120.2h1.3v1.4h-1.3zM332.8 89.3h1.8v1.6h-1.8zM372.2 34.1h1.4v1.9h-1.4zM361.2 58.4h2.4v2.0h-2.4zM359.5 59.3h2.4v2.1h-2.4zM358.0 60.4h2.4v2.1h-2.4zM358.9 58.7h2.4v2.5h-2.4zM364.6 56.5h2.1v2.2h-2.1zM359.9 55.1h2.2v2.1h-2.2zM359.2 56.9h2.0v2.0h-2.0zM356.7 59.1h2.3v2.0h-2.3zM348.2 64.9h2.0v2.1h-2.0zM352.0 66.9h2.4v2.3h-2.4zM351.1 63.9h2.1v2.2h-2.1zM368.7 77.9h2.1v2.2h-2.1zM369.4 79.7h2.1v2.1h-2.1zM399.3 62.8h1.9v1.9h-1.9zM390.7 62.7h2.4v2.0h-2.4zM389.7 64.1h2.0v2.1h-2.0zM387.7 64.3h2.1v2.4h-2.1zM413.0 56.1h2.4v2.1h-2.4zM406.9 55.9h2.4v2.2h-2.4zM406.4 57.7h2.4v2.3h-2.4zM404.7 57.9h2.0v2.5h-2.0zM408.6 78.0h2.2v2.2h-2.2zM407.5 75.3h1.9v2.1h-1.9zM404.7 77.9h2.5v2.1h-2.5zM408.9 78.1h2.1v2.4h-2.1zM402.4 74.3h2.3v2.4h-2.3zM399.2 76.2h2.1v2.4h-2.1zM405.1 76.0h2.2v2.1h-2.2zM408.4 77.6h2.0v2.0h-2.0zM410.1 77.4h2.5v2.0h-2.5zM418.9 83.9h2.2v2.1h-2.2zM417.2 84.6h2.2v2.1h-2.2zM374.3 100.4h2.3v2.1h-2.3zM370.8 100.5h2.0v2.2h-2.0zM373.4 99.9h2.1v2.2h-2.1zM371.8 105.0h2.5v2.3h-2.5zM395.8 98.6h2.5v2.5h-2.5zM392.6 100.2h1.9v2.2h-1.9zM392.9 97.3h2.3v2.0h-2.3zM394.7 96.0h1.9v2.4h-1.9zM396.2 95.3h2.4v2.3h-2.4zM403.0 108.2h2.0v2.1h-2.0zM403.2 110.1h2.0v2.2h-2.0zM401.9 113.6h2.0v2.3h-2.0zM375.4 108.4h2.3v2.4h-2.3zM369.5 113.5h2.3v2.4h-2.3zM386.0 119.2h2.1v2.2h-2.1zM383.7 119.4h2.2v2.0h-2.2zM388.4 113.6h2.2v2.2h-2.2zM364.5 92.4h2.3v1.9h-2.3zM367.2 94.8h2.4v2.0h-2.4zM360.3 95.1h1.9v2.3h-1.9zM358.9 96.5h2.3v2.2h-2.3zM354.0 86.3h2.3v2.0h-2.3zM387.2 129.7h2.1v2.0h-2.1zM385.2 129.6h2.3v2.0h-2.3zM383.4 130.1h2.3v2.0h-2.3zM387.2 136.0h2.0v2.2h-2.0zM388.3 130.7h2.4v2.1h-2.4zM383.5 130.7h2.1v2.5h-2.1z"/>
<path fill="#1565c8" d="M390.1 34.0h2.1v1.4h-2.1zM397.3 33.6h1.9v1.8h-1.9zM364.2 35.7h1.5v2.0h-1.5zM371.2 35.8h1.4v1.4h-1.4zM391.6 35.6h1.8v2.0h-1.8zM398.7 35.8h1.6v2.1h-1.6zM400.7 36.3h2.2v1.5h-2.2zM405.1 36.1h1.7v1.5h-1.7zM397.5 37.7h1.6v2.1h-1.6zM368.2 40.1h1.7v1.9h-1.7zM412.3 40.7h1.5v1.5h-1.5zM360.0 42.9h2.0v1.5h-2.0zM365.1 43.0h1.9v1.4h-1.9zM371.7 42.7h1.5v1.8h-1.5zM361.6 45.4h1.5v1.8h-1.5zM366.2 44.9h1.7v1.9h-1.7zM364.1 46.8h2.8v2.8h-2.8zM419.9 47.0h1.7v2.2h-1.7zM422.2 47.5h1.7v1.7h-1.7zM350.2 49.2h2.0v2.0h-2.0zM416.4 49.0h2.8v2.8h-2.8zM349.3 51.5h1.8v2.0h-1.8zM352.4 54.7h2.1v1.9h-2.1zM356.7 54.2h2.7v2.9h-2.7zM359.2 54.1h2.5v2.9h-2.5zM346.6 56.7h2.0v1.9h-2.0zM424.2 56.4h2.7v2.4h-2.7zM426.7 56.7h1.9v1.8h-1.9zM351.8 58.9h2.6v2.6h-2.6zM354.6 59.0h2.3v2.3h-2.3zM352.9 61.0h2.8v2.7h-2.8zM347.0 63.4h2.5v2.5h-2.5zM349.4 63.0h2.7v2.9h-2.7zM429.4 65.2h1.7v2.2h-1.7zM341.2 68.0h1.7v2.0h-1.7zM350.6 69.8h2.8v2.3h-2.8zM342.9 72.0h2.4v2.6h-2.4zM351.4 72.5h2.8v2.3h-2.8zM340.1 75.5h1.6v1.5h-1.6zM336.5 77.5h1.5v2.1h-1.5zM432.6 77.8h1.8v1.5h-1.8zM437.5 77.7h1.5v1.5h-1.5zM341.2 78.8h2.5v2.8h-2.5zM431.4 79.2h2.5v2.6h-2.5zM340.9 81.8h1.4v1.5h-1.4zM433.3 82.0h1.5v2.2h-1.5zM437.0 81.9h2.0v1.8h-2.0zM433.6 84.2h2.1v2.1h-2.1zM334.4 86.4h1.5v1.9h-1.5zM340.0 89.0h1.8v2.0h-1.8zM336.3 90.9h1.4v1.7h-1.4zM345.3 91.3h2.5v2.2h-2.5zM437.2 90.9h1.5v1.5h-1.5zM339.5 93.4h2.2v1.8h-2.2zM347.4 95.2h2.2v2.4h-2.2zM432.5 96.1h1.9v1.6h-1.9zM435.0 95.5h1.8v2.1h-1.8zM341.4 97.9h2.2v2.1h-2.2zM343.6 97.9h2.8v2.8h-2.8zM348.9 102.1h2.2v2.8h-2.2zM350.4 102.0h2.8v2.6h-2.8zM428.7 102.8h2.8v2.2h-2.8zM431.2 102.7h2.2v2.1h-2.2zM340.5 104.6h2.1v1.7h-2.1zM430.7 104.9h1.9v2.1h-1.9zM429.4 107.4h2.2v1.7h-2.2zM353.9 109.1h2.8v2.6h-2.8zM427.9 109.4h2.1v1.9h-2.1zM339.5 111.8h2.1v1.9h-2.1zM426.5 111.3h2.1v2.1h-2.1zM345.6 114.0h2.0v2.2h-2.0zM352.1 113.9h2.0v2.2h-2.0zM356.3 113.4h2.4v2.9h-2.4zM428.4 113.8h1.7v2.0h-1.7zM357.5 115.7h2.3v2.7h-2.3zM427.0 116.6h1.7v1.6h-1.7zM348.9 121.2h1.8v1.8h-1.8zM365.9 123.3h2.5v2.5h-2.5zM421.2 123.1h2.1v1.5h-2.1zM353.3 125.5h2.2v2.0h-2.2zM362.7 125.9h1.6v1.5h-1.6zM364.8 125.5h2.1v2.0h-2.1zM382.8 125.5h2.2v2.4h-2.2zM354.5 127.6h1.6v1.6h-1.6zM363.8 127.9h1.9v1.9h-1.9zM368.1 128.3h1.7v1.6h-1.7zM375.5 127.9h1.9v1.8h-1.9zM377.3 127.6h2.4v2.6h-2.4zM409.9 128.4h1.8v1.6h-1.8zM412.0 128.2h1.7v1.6h-1.7zM359.9 130.6h2.1v1.6h-2.1zM365.3 129.8h1.9v2.1h-1.9zM376.4 129.9h2.0v1.8h-2.0zM378.8 130.1h1.9v1.8h-1.9zM399.1 129.9h1.8v2.1h-1.8zM403.7 130.3h2.1v2.1h-2.1zM408.6 129.9h1.8v2.2h-1.8zM363.9 132.8h2.2v1.9h-2.2zM366.5 133.0h1.6v1.6h-1.6zM378.0 132.6h1.7v1.4h-1.7zM381.1 134.6h2.1v1.6h-2.1zM392.0 134.7h2.1v2.0h-2.1zM402.0 135.0h1.6v1.5h-1.6zM377.6 137.0h2.0v1.6h-2.0zM350.6 44.8h1.3v1.9h-1.3zM437.3 95.9h1.9v1.4h-1.9zM332.1 78.7h1.4v2.0h-1.4zM409.0 132.9h1.7v1.4h-1.7zM389.6 137.4h1.4v1.4h-1.4zM403.1 134.6h1.5v2.0h-1.5zM333.3 76.0h1.9v1.9h-1.9zM360.4 37.5h1.8v1.9h-1.8zM403.8 134.1h1.8v1.4h-1.8zM339.6 58.8h2.0v1.9h-2.0zM422.3 122.9h2.0v1.7h-2.0zM360.2 38.7h1.8v1.7h-1.8zM351.6 43.4h1.6v2.0h-1.6zM437.6 78.9h1.8v1.8h-1.8zM358.2 130.5h1.5v1.4h-1.5zM409.7 38.4h1.7v2.0h-1.7zM342.8 53.0h1.5v1.4h-1.5zM377.4 137.0h1.9v1.6h-1.9zM421.5 45.9h1.6v1.6h-1.6zM400.8 135.9h1.9v1.3h-1.9zM379.9 32.4h2.0v1.9h-2.0zM426.6 51.7h1.7v1.6h-1.7zM367.5 34.6h1.6v1.8h-1.6zM341.2 56.0h1.8v1.5h-1.8zM347.9 122.2h1.5v1.7h-1.5zM436.3 96.5h2.0v1.6h-2.0zM433.3 62.8h1.6v2.0h-1.6zM437.9 79.2h1.9v1.4h-1.9zM395.8 136.8h1.8v1.7h-1.8zM346.2 49.8h1.7v1.4h-1.7zM428.8 55.9h1.5v1.9h-1.5zM422.8 47.2h1.9v1.5h-1.9zM415.6 41.2h1.7v1.3h-1.7zM367.3 135.3h2.0v1.3h-2.0zM359.3 38.9h2.0v1.7h-2.0zM333.7 97.2h1.8v1.7h-1.8zM421.8 122.3h1.7v1.7h-1.7zM405.8 35.8h1.7v1.4h-1.7zM431.9 110.6h1.9v1.5h-1.9zM436.5 96.4h1.6v1.7h-1.6zM332.6 76.6h2.0v1.7h-2.0zM341.5 115.1h1.5v1.4h-1.5zM406.5 133.7h1.3v1.9h-1.3zM388.9 137.6h2.0v1.5h-2.0zM333.8 73.4h1.5v1.9h-1.5zM409.6 37.8h1.5v1.9h-1.5zM388.4 32.7h1.3v1.7h-1.3zM410.1 131.4h1.8v1.7h-1.8zM403.9 35.7h1.6v1.4h-1.6zM363.7 132.7h1.5v1.6h-1.5zM430.3 56.6h1.7v1.5h-1.7zM438.8 85.8h1.5v1.3h-1.5zM333.6 96.5h1.3v1.7h-1.3zM336.1 105.8h1.4v1.5h-1.4zM332.2 89.0h1.9v1.8h-1.9zM395.5 33.1h1.4v1.8h-1.4zM333.1 78.6h1.6v1.5h-1.6zM423.8 49.6h1.6v1.4h-1.6zM395.7 32.6h1.6v1.4h-1.6zM348.1 123.1h1.6v1.5h-1.6zM399.2 34.7h1.8v1.4h-1.8zM409.4 131.9h1.8v1.7h-1.8zM367.2 35.1h1.4v1.6h-1.4zM401.3 34.7h1.6v1.8h-1.6zM366.0 134.8h1.5v1.4h-1.5zM350.6 44.3h1.5v1.9h-1.5zM431.1 110.4h1.9v1.5h-1.9zM436.9 75.5h1.4v1.8h-1.4zM397.2 137.1h1.6v1.7h-1.6zM416.9 42.7h1.7v1.4h-1.7zM374.9 32.3h1.5v2.0h-1.5zM358.8 54.4h2.3v1.9h-2.3zM357.6 55.7h2.1v2.0h-2.1zM363.0 57.6h2.3v2.2h-2.3zM363.5 54.9h2.5v2.1h-2.5zM361.9 55.1h1.9v2.0h-1.9zM358.1 57.6h2.2v2.2h-2.2zM356.3 60.9h2.0v2.0h-2.0zM356.4 62.7h2.3v2.2h-2.3zM358.0 63.8h2.4v2.2h-2.4zM354.7 65.6h2.3v2.5h-2.3zM353.0 65.1h2.2v2.0h-2.2zM349.9 65.8h1.9v1.9h-1.9zM360.4 76.9h2.3v2.3h-2.3zM395.6 63.0h1.9v2.1h-1.9zM397.4 62.2h1.9v2.5h-1.9zM410.6 55.3h2.5v2.3h-2.5zM406.0 76.1h2.0v2.1h-2.0zM413.3 76.8h2.1v2.0h-2.1zM404.0 74.5h2.4v1.9h-2.4zM416.7 85.5h2.2v2.4h-2.2zM372.5 100.9h2.3v2.1h-2.3zM372.9 103.5h2.1v2.1h-2.1zM396.0 96.9h2.2v2.2h-2.2zM394.6 98.4h2.1v1.9h-2.1zM399.2 93.8h2.4v2.0h-2.4zM400.3 95.5h2.2v2.0h-2.2zM402.2 111.8h2.5v2.1h-2.5zM403.4 113.1h2.5v2.3h-2.5zM403.3 115.1h2.2v2.0h-2.2zM399.9 111.6h1.9v2.2h-1.9zM402.0 109.8h2.5v2.5h-2.5zM375.4 111.9h2.0v2.1h-2.0zM374.4 110.2h2.4v2.1h-2.4zM374.4 113.1h2.5v2.0h-2.5zM373.0 111.9h2.0v2.2h-2.0zM386.9 120.9h2.3v2.0h-2.3zM388.1 122.4h2.2v1.9h-2.2zM383.7 119.5h2.2v2.2h-2.2zM383.7 117.7h2.4v2.1h-2.4zM384.0 113.3h2.1v2.1h-2.1zM386.1 116.4h2.0v2.4h-2.0zM357.5 99.8h2.4v2.2h-2.4zM350.9 88.4h1.9v2.2h-1.9zM389.2 129.1h2.0v2.1h-2.0zM387.4 128.8h2.5v2.3h-2.5zM385.7 128.4h2.2v2.1h-2.2zM384.9 126.6h2.4v2.3h-2.4zM388.9 133.1h2.1v2.5h-2.1zM384.8 132.2h2.5v2.2h-2.5zM382.8 128.9h2.4v2.5h-2.4z"/>
<path fill="#2a80e0" d="M371.6 33.7h1.9v2.2h-1.9zM378.9 33.9h2.0v1.9h-2.0zM383.0 33.9h2.2v1.9h-2.2zM395.2 33.5h1.7v2.1h-1.7zM360.6 38.4h1.6v2.1h-1.6zM369.6 38.6h1.8v1.8h-1.8zM371.8 37.9h2.1v2.0h-2.1zM401.6 38.0h1.6v1.9h-1.6zM359.0 40.5h2.0v1.7h-2.0zM363.7 40.8h1.9v1.9h-1.9zM373.3 40.9h1.8v1.7h-1.8zM375.6 40.1h1.9v2.2h-1.9zM409.6 40.5h1.9v1.9h-1.9zM414.8 40.3h1.5v1.9h-1.5zM353.5 43.3h1.4v1.4h-1.4zM373.8 42.7h2.8v2.5h-2.8zM406.2 42.1h2.7v2.5h-2.7zM413.5 43.0h2.0v2.0h-2.0zM416.0 42.9h1.5v1.9h-1.5zM370.7 45.0h2.6v2.3h-2.6zM349.1 47.7h1.7v1.7h-1.7zM358.3 47.0h1.8v2.0h-1.8zM360.1 47.4h1.6v2.0h-1.6zM367.0 47.2h2.8v2.3h-2.8zM413.3 47.3h2.6v2.6h-2.6zM415.0 47.4h2.8v2.4h-2.8zM355.0 49.3h1.5v1.9h-1.5zM357.2 49.6h1.8v1.5h-1.8zM424.7 52.3h2.0v1.9h-2.0zM348.9 56.8h2.1v1.8h-2.1zM351.0 56.8h1.8v2.0h-1.8zM430.5 59.2h1.7v1.4h-1.7zM339.9 61.0h1.8v1.5h-1.8zM351.1 60.8h2.6v2.3h-2.6zM431.7 61.4h1.4v1.8h-1.4zM340.8 63.6h1.5v1.8h-1.5zM342.7 63.7h1.9v1.9h-1.9zM348.2 65.1h2.5v2.4h-2.5zM433.7 65.6h2.1v1.8h-2.1zM344.7 68.0h2.6v2.3h-2.6zM350.1 67.7h2.4v2.6h-2.4zM334.6 70.8h2.0v1.6h-2.0zM436.0 70.4h1.6v1.9h-1.6zM345.1 72.6h2.6v2.2h-2.6zM346.8 72.1h2.8v2.7h-2.8zM338.2 77.3h1.9v1.4h-1.9zM436.0 79.3h1.6v2.0h-1.6zM342.2 81.5h2.8v2.6h-2.8zM332.5 84.1h2.0v1.8h-2.0zM436.4 83.9h1.5v1.6h-1.5zM336.6 86.7h1.7v1.7h-1.7zM338.6 86.3h1.9v1.8h-1.9zM437.0 86.1h1.9v1.9h-1.9zM334.8 97.9h2.0v1.7h-2.0zM436.7 98.0h1.7v1.7h-1.7zM352.3 100.2h2.2v2.7h-2.2zM337.0 102.9h1.8v1.9h-1.8zM343.3 104.8h2.1v1.5h-2.1zM345.6 104.8h1.8v1.7h-1.8zM352.0 104.7h2.3v2.4h-2.3zM427.7 104.6h2.8v2.5h-2.8zM432.7 104.5h1.5v2.1h-1.5zM339.8 107.3h1.6v1.4h-1.6zM338.6 109.7h1.6v1.6h-1.6zM352.3 108.9h2.4v2.8h-2.4zM425.7 109.8h2.2v2.1h-2.2zM346.4 111.6h1.9v2.0h-1.9zM348.7 112.0h2.2v1.8h-2.2zM357.5 111.3h2.6v2.4h-2.6zM429.3 112.0h1.8v2.0h-1.8zM341.1 114.6h1.5v1.4h-1.5zM342.6 113.9h2.1v1.6h-2.1zM347.5 114.2h1.9v1.9h-1.9zM421.3 113.5h2.4v2.8h-2.4zM426.4 113.9h1.5v2.1h-1.5zM346.5 116.5h2.0v1.8h-2.0zM351.6 116.7h1.6v1.5h-1.6zM355.6 116.4h2.8v2.2h-2.8zM425.1 116.4h1.8v2.1h-1.8zM352.8 118.4h1.5v1.8h-1.5zM350.6 121.3h2.2v1.9h-2.2zM360.0 120.3h2.8v2.8h-2.8zM361.8 123.7h1.4v1.5h-1.4zM363.9 123.7h1.4v1.5h-1.4zM416.5 123.3h1.9v2.1h-1.9zM355.6 125.7h2.1v1.8h-2.1zM360.7 125.6h1.8v2.1h-1.8zM390.4 130.0h1.9v2.0h-1.9zM401.3 129.9h2.1v2.1h-2.1zM411.2 130.6h2.0v1.6h-2.0zM384.0 132.7h2.0v1.7h-2.0zM379.3 134.7h1.5v1.9h-1.5zM390.2 134.8h1.7v2.1h-1.7zM397.2 134.5h1.7v1.9h-1.7zM375.3 137.2h1.7v1.7h-1.7zM384.1 136.6h2.0v2.2h-2.0zM389.6 137.1h1.4v1.9h-1.4zM391.1 137.5h1.6v1.6h-1.6zM358.7 56.8h2.4v2.4h-2.4zM351.4 66.2h2.5v2.4h-2.5zM356.3 67.5h2.0v2.3h-2.0zM357.9 68.3h2.1v2.4h-2.1zM350.5 65.6h2.5v2.5h-2.5zM366.9 77.6h1.9v2.2h-1.9zM363.2 75.2h2.4v2.4h-2.4zM362.4 77.0h2.1v2.2h-2.1zM412.5 54.3h2.1v2.1h-2.1zM406.7 78.7h2.3v2.4h-2.3zM405.8 80.2h2.1v2.4h-2.1zM408.0 76.6h1.9v2.2h-1.9zM404.3 75.3h2.0v1.9h-2.0zM408.6 78.4h2.3v2.1h-2.3zM414.7 77.7h2.4v2.3h-2.4zM406.9 76.0h2.5v2.4h-2.5zM417.2 86.5h2.4v2.2h-2.4zM416.4 83.7h2.0v2.1h-2.0zM374.3 98.4h2.1v2.0h-2.1zM394.3 99.7h2.4v2.5h-2.4zM395.3 99.9h2.2v2.2h-2.2zM397.3 93.7h2.4v2.3h-2.4zM404.1 110.5h2.0v2.4h-2.0zM402.8 112.1h2.4v2.3h-2.4zM401.1 113.0h2.3v2.1h-2.3zM371.4 113.0h2.0v2.0h-2.0zM387.2 124.0h2.1v2.2h-2.1zM385.2 114.7h2.3v1.9h-2.3zM387.0 115.1h2.4v2.1h-2.4zM365.6 93.9h2.1v2.0h-2.1zM347.1 89.3h2.2v2.3h-2.2zM350.6 88.7h2.4v2.0h-2.4zM350.7 86.7h2.5v2.3h-2.5zM387.7 130.3h2.2v2.3h-2.2zM386.8 131.6h2.0v2.0h-2.0z"/>
<path fill="#0f5bb5" d="M380.5 37.8h2.4v2.5h-2.4zM392.1 38.0h2.4v2.6h-2.4zM376.8 40.4h2.8v2.3h-2.8zM402.3 40.0h2.4v2.8h-2.4zM362.5 46.8h2.8v2.2h-2.8zM371.4 46.6h2.4v2.8h-2.4zM359.1 49.5h2.7v2.2h-2.7zM360.8 49.6h2.5v2.7h-2.5zM355.2 52.0h2.5v2.3h-2.5zM362.2 51.9h2.2v2.4h-2.2zM346.0 70.0h2.4v2.6h-2.4zM430.5 72.6h2.4v2.3h-2.4zM343.5 74.6h2.9v2.5h-2.9zM348.3 74.9h2.6v2.8h-2.6zM343.6 79.4h2.8v2.6h-2.8zM346.0 88.8h2.7v2.4h-2.7zM342.4 90.7h2.8v2.4h-2.8zM343.6 93.0h2.6v2.4h-2.6zM342.5 95.1h2.4v2.5h-2.4zM344.9 95.2h2.7v2.6h-2.7zM346.4 97.9h2.2v2.5h-2.2zM348.4 97.3h2.7v2.5h-2.7zM345.0 99.7h2.2v2.8h-2.2zM347.3 100.4h2.6v2.4h-2.6zM430.2 99.7h2.7v2.7h-2.7zM347.2 104.3h2.2v2.7h-2.2zM354.6 104.7h2.4v2.6h-2.4zM348.5 106.7h2.8v2.6h-2.8zM350.5 107.0h2.7v2.6h-2.7zM426.5 107.1h2.4v2.4h-2.4zM355.0 111.2h2.5v2.5h-2.5zM359.9 116.1h2.9v2.6h-2.9zM356.6 118.1h2.9v2.8h-2.9zM363.2 118.2h2.5v2.8h-2.5zM361.9 120.4h2.7v2.7h-2.7zM415.3 120.3h2.5v2.8h-2.5zM371.5 125.7h2.9v2.4h-2.9zM359.7 52.4h2.1v2.5h-2.1zM356.0 56.7h2.1v2.2h-2.1zM359.2 60.8h2.0v2.1h-2.0zM354.5 66.6h2.4v2.1h-2.4zM354.0 66.4h2.1v2.1h-2.1zM365.1 75.5h2.2v2.0h-2.2zM394.5 63.5h2.2v2.2h-2.2zM406.5 76.8h2.1v2.4h-2.1zM407.8 72.9h2.2v2.3h-2.2zM407.3 74.7h2.3v2.3h-2.3zM400.7 75.2h2.3v2.1h-2.3zM409.9 76.8h2.0v2.5h-2.0zM411.6 76.0h2.0v2.1h-2.0zM412.0 77.9h2.3v2.0h-2.3zM372.5 101.6h2.0v2.2h-2.0zM396.9 101.0h2.4v2.1h-2.4zM399.3 110.0h1.9v1.9h-1.9zM402.3 112.0h2.5v1.9h-2.5zM400.8 115.4h2.3v2.0h-2.3zM385.5 116.5h1.9v2.3h-1.9zM384.3 117.5h2.4v2.3h-2.4zM361.9 94.4h2.3v2.4h-2.3zM359.0 98.5h2.1v2.0h-2.1zM352.4 85.6h2.1v2.0h-2.1zM386.0 131.4h2.4v2.3h-2.4zM387.1 134.1h2.2v2.3h-2.2z"/>
<path stroke="#e0205a" stroke-width="1.7" fill="none" d="M377.8 36.1L377.3 32.9M369.8 38.6L368.6 35.2M404.3 41.4L405.9 37.5M406.2 41.1L407.8 37.4M408.5 40.4L410.1 37.3M408.0 43.1L409.4 40.5M352.0 47.4L349.2 44.2M417.9 49.4L420.3 46.7M354.3 51.8L351.6 48.9M345.6 56.2L343.0 54.3M345.7 60.8L342.5 58.9M425.3 60.8L428.1 59.0M426.5 62.8L429.4 61.2M431.8 65.2L435.0 63.7M430.6 67.2L433.8 65.9M339.0 69.3L335.4 68.1M336.3 74.2L332.8 73.4M339.5 80.8L336.2 80.5M337.2 85.0L334.1 85.0M433.8 94.0L436.7 94.5M347.2 111.9L343.9 114.2M424.3 111.6L427.5 113.7M423.0 113.5L426.4 116.0M422.2 116.0L424.9 118.3M354.5 123.0L352.5 125.3M356.9 122.4L354.7 125.2M359.9 124.9L357.9 127.9M361.1 127.3L359.0 130.8M363.0 126.9L361.1 130.4M360.0 129.3L358.4 132.1M406.9 129.6L408.3 132.5M405.6 131.5L407.3 135.6M378.0 134.2L377.4 137.4M382.9 135.6L382.6 139.7M396.5 135.9L397.2 139.3"/>
<path fill="#d4134a" d="M360.1 55.6h2.1v2.2h-2.1zM368.7 81.6h1.9v2.0h-1.9zM393.6 62.5h2.1v2.3h-2.1zM392.8 63.0h1.9v2.3h-1.9zM411.8 57.3h2.0v2.2h-2.0zM408.7 55.2h2.4v2.2h-2.4zM403.8 72.7h2.1v1.9h-2.1zM404.1 70.5h1.9v2.4h-1.9zM418.6 86.1h2.0v2.3h-2.0zM349.0 89.2h2.3v2.2h-2.3zM390.7 127.8h2.0v2.2h-2.0zM389.5 129.2h2.0v2.2h-2.0z"/>
<circle cx="406" cy="76.5" r="6.8" fill="none" stroke="#6b4520" stroke-width="1.5"/>
<circle cx="406" cy="76.5" r="2" fill="#c0304a"/>
<circle cx="363.8" cy="96.9" r="6.8" fill="none" stroke="#e8202a" stroke-width="1.5"/>
<circle cx="363.8" cy="96.9" r="2.6" fill="#e0103a"/>
<circle cx="497.8" cy="85.5" r="52.5" fill="url(#sph)"/>
<path fill="#1e72d6" fill-rule="evenodd" d="M550.6,85.5 L550.6,83.7 L550.5,81.8 L550.3,80.0 L550.1,78.2 L549.8,76.3 L549.4,74.5 L549.0,72.7 L548.6,70.9 L548.0,69.2 L547.4,67.4 L546.8,65.7 L546.0,64.0 L545.3,62.4 L544.4,60.7 L543.5,59.1 L542.6,57.5 L541.6,56.0 L540.5,54.5 L539.4,53.0 L538.2,51.6 L537.0,50.2 L535.8,48.8 L534.5,47.5 L533.1,46.3 L531.7,45.1 L530.3,43.9 L528.8,42.8 L527.3,41.7 L525.8,40.7 L524.2,39.8 L522.6,38.9 L520.9,38.0 L519.3,37.3 L517.6,36.5 L515.9,35.9 L514.1,35.3 L512.4,34.7 L510.6,34.3 L508.8,33.9 L507.0,33.5 L505.1,33.2 L503.3,33.0 L501.5,32.8 L499.6,32.7 L497.8,32.7 L496.0,32.7 L494.1,32.8 L492.3,33.0 L490.5,33.2 L488.6,33.5 L486.8,33.9 L485.0,34.3 L483.2,34.7 L481.5,35.3 L479.7,35.9 L478.0,36.5 L476.3,37.3 L474.7,38.0 L473.0,38.9 L471.4,39.8 L469.8,40.7 L468.3,41.7 L466.8,42.8 L465.3,43.9 L463.9,45.1 L462.5,46.3 L461.1,47.5 L459.8,48.8 L458.6,50.2 L457.4,51.6 L456.2,53.0 L455.1,54.5 L454.0,56.0 L453.0,57.5 L452.1,59.1 L451.2,60.7 L450.3,62.4 L449.6,64.0 L448.8,65.7 L448.2,67.4 L447.6,69.2 L447.0,70.9 L446.6,72.7 L446.2,74.5 L445.8,76.3 L445.5,78.2 L445.3,80.0 L445.1,81.8 L445.0,83.7 L445.0,85.5 L445.0,87.3 L445.1,89.2 L445.3,91.0 L445.5,92.8 L445.8,94.7 L446.2,96.5 L446.6,98.3 L447.0,100.1 L447.6,101.8 L448.2,103.6 L448.8,105.3 L449.6,107.0 L450.3,108.6 L451.2,110.3 L452.1,111.9 L453.0,113.5 L454.0,115.0 L455.1,116.5 L456.2,118.0 L457.4,119.4 L458.6,120.8 L459.8,122.2 L461.1,123.5 L462.5,124.7 L463.9,125.9 L465.3,127.1 L466.8,128.2 L468.3,129.3 L469.8,130.3 L471.4,131.2 L473.0,132.1 L474.7,133.0 L476.3,133.7 L478.0,134.5 L479.7,135.1 L481.5,135.7 L483.2,136.3 L485.0,136.7 L486.8,137.1 L488.6,137.5 L490.5,137.8 L492.3,138.0 L494.1,138.2 L496.0,138.3 L497.8,138.3 L499.6,138.3 L501.5,138.2 L503.3,138.0 L505.1,137.8 L507.0,137.5 L508.8,137.1 L510.6,136.7 L512.4,136.3 L514.1,135.7 L515.9,135.1 L517.6,134.5 L519.3,133.7 L520.9,133.0 L522.6,132.1 L524.2,131.2 L525.8,130.3 L527.3,129.3 L528.8,128.2 L530.3,127.1 L531.7,125.9 L533.1,124.7 L534.5,123.5 L535.8,122.2 L537.0,120.8 L538.2,119.4 L539.4,118.0 L540.5,116.5 L541.6,115.0 L542.6,113.5 L543.5,111.9 L544.4,110.3 L545.3,108.6 L546.0,107.0 L546.8,105.3 L547.4,103.6 L548.0,101.8 L548.6,100.1 L549.0,98.3 L549.4,96.5 L549.8,94.7 L550.1,92.8 L550.3,91.0 L550.5,89.2 L550.6,87.3ZM546.8,87.2 L546.6,88.9 L546.0,90.6 L545.2,92.2 L544.5,93.7 L543.8,95.3 L543.4,96.9 L543.0,98.5 L542.5,100.0 L542.0,101.6 L541.2,103.0 L540.4,104.5 L539.7,105.9 L538.9,107.4 L538.2,108.8 L537.5,110.3 L536.6,111.6 L535.4,112.8 L534.1,113.9 L532.8,114.9 L531.7,116.0 L530.7,117.2 L529.8,118.6 L528.9,120.0 L527.8,121.3 L526.6,122.3 L525.2,123.2 L523.7,123.9 L522.2,124.5 L520.8,125.3 L519.3,126.0 L517.8,126.6 L516.3,127.0 L514.6,127.2 L513.0,127.3 L511.4,127.5 L510.0,127.9 L508.5,128.6 L507.1,129.3 L505.6,130.0 L504.1,130.4 L502.5,130.5 L500.9,130.2 L499.4,129.9 L497.8,129.8 L496.3,129.8 L494.7,129.9 L493.1,129.8 L491.6,129.5 L490.1,129.0 L488.7,128.2 L487.3,127.7 L485.8,127.3 L484.4,126.9 L482.9,126.5 L481.5,125.8 L480.1,125.2 L478.7,124.6 L477.4,123.9 L476.1,123.2 L474.7,122.4 L473.5,121.6 L472.2,120.7 L471.0,119.8 L469.8,118.8 L468.7,117.8 L467.6,116.8 L466.5,115.7 L465.5,114.6 L464.5,113.5 L463.5,112.3 L462.6,111.1 L461.7,109.8 L460.9,108.6 L460.1,107.2 L459.4,105.9 L458.7,104.6 L458.1,103.2 L457.5,101.8 L456.9,100.4 L456.4,98.9 L456.0,97.5 L455.6,96.0 L455.3,94.5 L455.0,93.1 L454.7,91.6 L454.5,90.0 L454.4,88.5 L454.3,87.0 L454.3,85.5 L454.3,84.0 L454.4,82.5 L454.5,81.0 L454.7,79.4 L455.0,77.9 L455.3,76.5 L455.6,75.0 L456.0,73.5 L456.4,72.1 L456.9,70.6 L457.5,69.2 L458.1,67.8 L458.7,66.4 L459.4,65.1 L460.1,63.8 L460.9,62.4 L461.7,61.2 L462.6,59.9 L463.5,58.7 L464.5,57.5 L465.5,56.4 L466.5,55.3 L467.6,54.2 L468.7,53.2 L469.8,52.2 L471.0,51.2 L472.0,50.0 L472.9,48.5 L474.0,47.4 L475.2,46.3 L476.5,45.4 L477.8,44.5 L479.1,43.4 L480.3,42.3 L481.7,41.1 L483.1,40.2 L484.7,39.7 L486.3,39.5 L488.0,39.4 L489.7,39.4 L491.3,39.4 L492.9,39.2 L494.5,39.0 L496.2,38.7 L497.8,38.7 L499.4,38.9 L501.0,39.1 L502.6,39.4 L504.2,39.7 L505.9,39.8 L507.5,40.0 L509.1,40.3 L510.6,40.8 L512.1,41.5 L513.5,42.2 L515.0,42.8 L516.6,43.2 L518.3,43.4 L520.0,43.7 L521.7,44.1 L523.3,44.7 L524.7,45.5 L526.1,46.6 L527.4,47.6 L528.7,48.6 L530.1,49.6 L531.4,50.7 L532.5,52.0 L533.6,53.3 L534.5,54.7 L535.3,56.2 L536.3,57.5 L537.4,58.8 L538.6,60.0 L539.7,61.3 L540.6,62.7 L541.3,64.3 L541.8,65.9 L542.2,67.5 L542.7,69.2 L543.3,70.7 L543.9,72.3 L544.6,73.8 L545.0,75.5 L545.4,77.1 L545.6,78.8 L545.8,80.5 L546.1,82.1 L546.5,83.8 L546.8,85.5Z"/>
<path fill="#1b6fd6" d="M495.2 37.8h2.3v2.3h-2.3zM497.1 37.7h2.4v2.3h-2.4zM520.4 42.6h2.3v2.3h-2.3zM523.2 44.6h2.4v2.8h-2.4zM471.9 46.7h2.4v2.3h-2.4zM525.1 46.4h2.2v2.7h-2.2zM527.1 47.0h2.4v2.9h-2.4zM531.6 51.0h2.2v2.6h-2.2zM465.8 54.1h2.7v2.5h-2.7zM463.0 56.4h2.2v2.3h-2.2zM533.9 56.1h2.5v2.6h-2.5zM459.9 60.9h2.5v2.3h-2.5zM461.4 63.0h2.6v2.6h-2.6zM459.0 67.7h2.6v2.8h-2.6zM458.2 69.6h2.8v2.6h-2.8zM458.2 74.2h2.3v2.5h-2.3zM454.2 76.8h2.5v2.2h-2.5zM456.7 77.0h2.7v2.5h-2.7zM453.0 83.9h2.6v2.5h-2.6zM458.3 84.1h2.7v2.3h-2.7zM454.3 85.5h2.4v2.9h-2.4zM463.6 85.7h2.3v2.8h-2.3zM460.6 88.5h2.6v2.6h-2.6zM462.3 88.4h2.7v2.3h-2.7zM459.4 90.6h2.6v2.4h-2.6zM461.4 90.4h2.4v2.7h-2.4zM463.5 90.5h2.3v2.6h-2.3zM455.6 93.1h2.8v2.7h-2.8zM457.8 93.0h2.3v2.5h-2.3zM462.9 92.5h2.2v2.8h-2.2zM543.1 92.6h2.9v2.5h-2.9zM454.1 95.3h2.7v2.4h-2.7zM461.6 94.9h2.2v2.6h-2.2zM458.0 97.2h2.3v2.7h-2.3zM459.9 97.5h2.9v2.8h-2.9zM459.2 100.2h2.8v2.3h-2.8zM461.5 100.2h2.8v2.3h-2.8zM459.9 102.3h2.8v2.6h-2.8zM462.3 102.1h2.5v2.2h-2.5zM465.8 104.2h2.8v2.8h-2.8zM460.4 106.4h2.6v2.9h-2.6zM464.8 106.7h2.6v2.5h-2.6zM536.5 106.8h2.4v2.6h-2.4zM466.6 109.2h2.3v2.7h-2.3zM468.2 109.2h2.8v2.7h-2.8zM470.7 108.9h2.7v2.6h-2.7zM464.9 111.2h2.3v2.2h-2.3zM467.2 111.6h2.5v2.4h-2.5zM534.1 110.9h2.6v2.7h-2.6zM466.1 113.6h2.7v2.9h-2.7zM470.6 113.3h2.7v2.7h-2.7zM472.8 113.9h2.8v2.4h-2.8zM475.2 113.5h2.8v2.5h-2.8zM530.5 113.4h2.4v2.8h-2.4zM474.0 116.0h2.7v2.4h-2.7zM529.4 115.9h2.4v2.6h-2.4zM473.1 118.3h2.6v2.3h-2.6zM475.6 117.8h2.3v2.5h-2.3zM477.8 118.5h2.8v2.7h-2.8zM471.8 120.3h2.6v2.8h-2.6zM478.4 120.1h2.4v2.6h-2.4zM526.6 120.4h2.5v2.6h-2.5zM521.2 123.1h2.2v2.6h-2.2zM483.1 124.6h2.5v2.9h-2.5zM518.1 125.1h2.4v2.4h-2.4zM507.5 127.0h2.2v2.6h-2.2zM502.0 129.6h2.2v2.4h-2.2zM523.2 130.1h1.4v1.3h-1.4zM532.8 123.8h1.4v1.5h-1.4zM507.1 137.1h1.6v1.6h-1.6zM460.1 47.2h1.4v1.8h-1.4zM544.5 59.8h1.7v1.6h-1.7zM513.1 34.9h1.5v1.4h-1.5zM443.9 90.2h1.8v1.5h-1.8zM549.7 90.2h1.3v1.9h-1.3zM482.8 33.8h1.8v1.4h-1.8zM529.7 44.1h1.8v1.6h-1.8zM444.1 75.2h2.0v1.8h-2.0zM546.8 103.8h1.3v1.5h-1.3zM444.2 88.0h1.5v1.5h-1.5zM521.9 38.0h1.4v1.9h-1.4zM458.0 119.3h1.4v1.8h-1.4zM460.1 46.9h1.4v1.9h-1.4zM545.2 106.9h1.8v1.4h-1.8zM450.2 60.8h1.7v1.9h-1.7zM463.6 125.0h2.0v1.5h-2.0zM542.7 110.7h1.4v1.6h-1.4zM529.0 126.6h1.3v1.5h-1.3zM525.7 40.4h1.7v1.4h-1.7zM486.6 137.3h1.5v1.4h-1.5zM547.3 101.6h1.8v1.9h-1.8zM547.6 71.2h1.6v1.4h-1.6zM540.7 114.5h1.6v1.4h-1.6zM492.7 31.5h1.9v1.9h-1.9zM530.7 125.6h2.0v1.8h-2.0zM504.5 32.5h1.7v1.4h-1.7zM456.9 50.7h1.8v1.5h-1.8zM493.0 137.2h1.7v1.9h-1.7zM460.0 47.1h1.4v2.0h-1.4zM521.7 37.6h1.7v1.5h-1.7zM463.5 126.0h1.9v1.5h-1.9zM544.7 60.8h1.4v1.4h-1.4zM507.7 136.4h1.9v1.4h-1.9zM507.5 136.4h1.5v1.7h-1.5zM520.0 132.6h1.3v1.7h-1.3zM447.3 100.7h1.4v1.5h-1.4zM444.0 82.1h1.6v1.3h-1.6zM452.8 112.4h1.3v1.6h-1.3zM484.8 33.8h1.3v1.4h-1.3zM494.3 32.4h1.5v1.4h-1.5zM497.8 31.9h1.5v1.3h-1.5zM484.5 136.0h1.7v1.6h-1.7zM525.8 129.9h1.7v1.5h-1.7zM522.6 38.1h1.7v1.7h-1.7zM450.5 110.2h2.0v1.3h-2.0zM543.9 110.6h1.3v1.8h-1.3zM444.2 84.5h1.6v1.5h-1.6zM469.9 39.2h1.9v1.5h-1.9zM549.6 76.7h2.0v1.3h-2.0zM549.3 79.8h1.9v2.0h-1.9zM533.0 46.2h1.7v1.4h-1.7zM491.8 137.0h1.6v1.5h-1.6zM526.5 41.6h1.7v1.6h-1.7zM467.5 129.0h1.7v1.9h-1.7zM502.3 31.7h1.5v1.5h-1.5zM450.9 110.6h1.9v1.4h-1.9zM471.9 130.7h1.9v1.5h-1.9zM461.5 46.2h1.7v1.3h-1.7zM547.3 99.0h1.8v1.3h-1.8zM549.0 95.8h1.4v1.5h-1.4zM527.1 41.5h1.4v1.3h-1.4zM454.1 115.8h1.4v1.4h-1.4zM489.7 31.9h1.4v1.4h-1.4zM546.8 66.8h1.9v1.9h-1.9zM548.7 76.4h1.4v1.6h-1.4zM497.8 31.6h1.4v1.9h-1.4zM533.3 123.0h1.6v1.9h-1.6zM539.7 53.9h1.8v1.7h-1.8zM545.4 63.2h1.9v1.6h-1.9zM480.8 34.0h1.8v1.5h-1.8zM444.5 76.1h1.5v1.6h-1.5zM453.9 115.5h1.4v1.6h-1.4zM532.4 123.2h1.7v1.4h-1.7zM549.7 82.5h1.6v1.6h-1.6zM494.8 137.0h1.5v1.3h-1.5zM452.9 56.1h1.6v1.3h-1.6zM548.5 94.3h1.7v1.7h-1.7zM548.8 76.3h1.9v1.5h-1.9zM491.4 137.5h1.8v1.9h-1.8zM528.5 127.6h2.0v1.6h-2.0zM446.2 71.0h2.0v1.5h-2.0zM540.1 53.9h1.7v1.3h-1.7zM487.0 136.8h1.9v1.9h-1.9zM546.7 104.2h1.9v2.0h-1.9zM459.1 121.8h1.5v1.5h-1.5zM511.9 135.5h1.8v1.8h-1.8zM445.5 98.9h1.5v1.7h-1.5zM519.6 132.7h1.6v1.9h-1.6zM451.0 58.0h1.6v1.3h-1.6zM521.9 130.7h1.5v1.7h-1.5zM543.1 60.0h1.7v1.4h-1.7zM444.7 91.0h1.3v1.3h-1.3zM446.6 100.7h1.4v1.5h-1.4zM547.2 66.3h1.5v1.9h-1.5zM508.7 135.7h1.7v1.7h-1.7zM505.5 137.2h1.5v1.8h-1.5zM483.1 135.5h1.7v1.5h-1.7zM526.0 129.5h2.0v1.6h-2.0zM543.5 108.4h1.9v1.3h-1.9zM547.0 65.8h1.8v1.8h-1.8zM494.6 32.6h1.9v1.4h-1.9zM500.8 31.4h1.7v1.5h-1.7zM444.8 94.7h1.8v1.4h-1.8zM528.2 128.0h1.5v1.6h-1.5zM448.3 65.6h1.7v1.9h-1.7zM542.8 111.3h1.5v1.9h-1.5zM476.2 35.7h1.4v1.7h-1.4zM505.4 33.2h1.7v1.5h-1.7zM454.8 53.0h1.9v1.5h-1.9zM458.0 48.1h1.9v1.7h-1.9zM446.2 99.7h2.0v1.5h-2.0zM445.2 93.8h1.7v1.8h-1.7zM537.6 51.4h1.4v1.7h-1.4zM454.4 53.5h1.9v1.4h-1.9zM477.8 134.2h1.7v1.4h-1.7zM473.4 131.4h1.7v1.4h-1.7zM493.1 55.5h2.4v2.3h-2.4zM492.9 57.5h2.3v2.1h-2.3zM491.6 60.9h2.4v2.0h-2.4zM485.2 55.4h2.4v2.4h-2.4zM486.0 55.7h2.1v2.4h-2.1zM488.2 51.1h2.1v2.1h-2.1zM493.4 55.1h1.9v2.1h-1.9zM491.5 54.9h2.1v2.3h-2.1zM489.9 55.9h2.0v2.4h-2.0zM488.1 55.5h2.1v2.0h-2.1zM489.9 55.8h2.5v2.2h-2.5zM484.1 56.3h2.5v2.0h-2.5zM485.6 53.3h2.4v2.0h-2.4zM488.7 56.6h2.3v2.0h-2.3zM487.2 55.4h2.2v2.1h-2.2zM490.1 52.4h2.4v1.9h-2.4zM493.5 50.5h2.3v1.9h-2.3zM492.3 46.8h2.4v2.2h-2.4zM481.8 49.1h2.2v2.0h-2.2zM485.2 52.5h2.4v2.5h-2.4zM486.9 51.6h2.2v2.0h-2.2zM487.8 49.9h2.2v2.1h-2.2zM488.6 48.1h2.1v2.3h-2.1zM490.2 47.1h2.3v2.5h-2.3zM479.3 56.1h2.4v2.2h-2.4zM480.5 59.0h2.0v2.5h-2.0zM479.1 58.8h2.0v2.1h-2.0zM480.4 59.7h2.4v2.3h-2.4zM512.5 89.2h2.0v2.1h-2.0zM507.6 84.8h1.9v2.0h-1.9zM506.0 85.8h2.1v2.3h-2.1zM508.9 94.3h2.4v2.4h-2.4zM508.6 96.4h2.5v2.1h-2.5zM513.4 88.5h2.1v2.1h-2.1zM513.4 96.5h2.1v2.2h-2.1zM513.3 88.0h2.1v2.1h-2.1zM514.9 87.3h2.4v2.2h-2.4zM509.7 90.3h2.1v2.5h-2.1zM510.3 88.6h1.9v2.3h-1.9zM511.3 87.1h1.9v2.0h-1.9zM516.9 89.1h2.0v2.2h-2.0zM511.9 82.0h2.0v2.2h-2.0zM511.8 84.0h2.1v2.0h-2.1zM520.5 87.2h2.2v2.0h-2.2zM505.0 88.5h2.4v2.4h-2.4zM507.1 87.7h2.3v2.2h-2.3zM505.3 87.4h2.2v2.2h-2.2zM503.5 86.6h2.2v2.4h-2.2zM512.7 90.3h2.3v1.9h-2.3zM511.2 89.2h2.0v2.5h-2.0zM510.7 89.0h2.0v2.0h-2.0zM520.7 99.1h2.3v2.4h-2.3zM518.4 91.4h2.2v2.0h-2.2zM516.8 92.0h2.0v2.3h-2.0zM516.0 96.4h2.4v2.5h-2.4zM515.9 94.6h2.3v2.3h-2.3zM512.8 95.4h2.0v2.1h-2.0zM522.9 98.2h2.1v2.3h-2.1zM524.4 97.1h1.9v2.2h-1.9zM526.2 96.4h1.9v2.4h-1.9zM521.2 100.8h2.0v1.9h-2.0zM521.6 101.0h2.0v2.0h-2.0zM514.6 94.6h1.9v2.4h-1.9zM519.2 87.9h2.1v2.3h-2.1zM522.7 91.6h2.4v1.9h-2.4zM521.1 91.7h2.0v2.4h-2.0zM519.6 93.1h2.0v2.0h-2.0zM518.7 103.6h2.4v2.2h-2.4zM517.3 101.2h2.1v2.1h-2.1zM504.0 104.6h2.1v2.5h-2.1zM502.9 98.2h2.2v1.9h-2.2zM509.8 101.5h2.0v2.2h-2.0zM509.5 97.7h2.0v2.4h-2.0zM503.3 103.9h2.5v2.4h-2.5zM509.4 99.7h2.2v2.1h-2.2zM502.7 102.5h2.0v2.1h-2.0zM499.1 102.0h2.5v2.3h-2.5zM508.9 104.9h2.2v2.1h-2.2zM507.2 105.0h1.9v2.0h-1.9zM523.9 83.3h2.4v2.2h-2.4zM525.0 81.7h2.1v2.2h-2.1zM526.3 79.8h2.5v2.1h-2.5zM524.3 76.7h2.0v2.3h-2.0zM524.9 86.5h2.3v2.0h-2.3zM523.1 82.0h2.2v1.9h-2.2zM521.7 83.0h2.0v2.4h-2.0zM520.2 84.1h1.9v2.3h-1.9zM528.8 83.2h2.3v2.5h-2.3zM530.1 81.8h2.1v2.4h-2.1zM511.3 82.0h2.4v2.0h-2.4zM516.5 74.8h2.3v1.9h-2.3zM513.6 78.2h2.4v2.1h-2.4zM515.9 81.3h2.1v2.2h-2.1zM515.0 82.9h2.2v2.4h-2.2zM514.1 76.7h1.9v2.4h-1.9zM515.7 77.5h2.1v2.1h-2.1zM490.3 72.7h2.1v2.5h-2.1zM489.4 71.1h2.0v2.3h-2.0zM525.1 76.7h2.1v2.3h-2.1zM524.0 73.3h2.1v2.3h-2.1zM521.4 75.8h2.3v2.0h-2.3zM524.0 72.6h2.1v2.2h-2.1zM525.8 73.1h1.9v2.2h-1.9zM526.2 77.0h2.2v1.9h-2.2zM526.2 78.8h2.2v2.0h-2.2zM478.8 96.7h1.9v2.3h-1.9zM476.6 96.5h2.5v2.5h-2.5zM474.8 96.6h2.3v2.1h-2.3zM489.4 114.3h2.2v2.0h-2.2zM490.0 116.0h2.5v2.0h-2.5zM502.7 113.7h2.1v2.3h-2.1zM504.7 113.6h1.9v2.2h-1.9zM506.5 113.3h2.1v2.3h-2.1zM508.7 109.3h2.2v2.2h-2.2zM478.9 110.2h2.1v2.3h-2.1zM475.8 108.6h2.0v1.9h-2.0zM475.8 110.9h2.4v2.4h-2.4zM469.0 107.9h2.0v2.2h-2.0zM470.7 108.8h2.0v2.0h-2.0zM472.5 108.7h2.2v2.0h-2.2zM473.1 106.9h2.4v2.1h-2.4zM466.5 107.2h1.9v1.9h-1.9z"/>
<path fill="#1565c8" d="M486.4 33.4h1.6v2.0h-1.6zM482.5 36.0h1.5v1.9h-1.5zM498.5 35.7h1.8v2.1h-1.8zM512.2 35.9h1.8v1.8h-1.8zM485.9 37.7h1.5v2.1h-1.5zM488.0 37.8h2.6v2.6h-2.6zM490.9 37.8h1.4v2.1h-1.4zM507.0 37.8h1.5v1.7h-1.5zM511.0 38.0h1.9v2.2h-1.9zM513.6 38.0h2.0v1.7h-2.0zM509.4 39.7h2.5v2.7h-2.5zM517.1 40.6h1.6v1.8h-1.6zM513.5 42.1h2.6v2.3h-2.6zM465.0 46.9h2.0v1.8h-2.0zM529.4 46.8h1.9v1.9h-1.9zM534.2 47.2h1.8v1.8h-1.8zM457.6 49.2h1.5v2.0h-1.5zM464.1 49.3h1.9v1.6h-1.9zM530.3 48.8h2.5v2.9h-2.5zM458.2 51.9h1.9v1.9h-1.9zM463.0 51.9h2.1v1.5h-2.1zM464.9 51.3h1.8v2.0h-1.8zM461.9 54.0h1.5v1.9h-1.5zM538.7 56.3h1.6v1.4h-1.6zM453.9 61.0h1.5v1.6h-1.5zM458.6 61.1h1.5v1.7h-1.5zM543.2 61.1h1.9v1.8h-1.9zM448.1 63.1h1.9v1.7h-1.9zM457.8 64.8h2.3v2.6h-2.3zM450.8 68.2h1.7v2.1h-1.7zM452.8 67.6h1.5v2.0h-1.5zM457.0 67.6h2.5v2.8h-2.5zM461.1 67.3h2.8v2.6h-2.8zM544.5 68.2h2.2v2.0h-2.2zM455.2 69.9h2.8v2.6h-2.8zM450.2 72.5h2.1v1.9h-2.1zM456.9 72.5h2.6v2.6h-2.6zM455.5 74.5h2.7v2.4h-2.7zM445.7 77.5h1.6v1.6h-1.6zM446.9 79.6h1.9v1.6h-1.9zM449.3 79.2h1.9v2.1h-1.9zM460.5 79.2h2.4v2.8h-2.4zM456.3 81.0h2.8v2.5h-2.8zM459.0 81.0h2.2v2.9h-2.2zM463.8 81.2h2.7v2.6h-2.7zM547.0 81.5h1.7v1.7h-1.7zM451.3 84.1h1.9v2.2h-1.9zM463.0 83.9h2.2v2.3h-2.2zM545.8 83.4h2.4v2.9h-2.4zM444.3 88.1h1.5v2.1h-1.5zM453.1 88.5h2.9v2.7h-2.9zM455.4 88.0h2.6v2.3h-2.6zM448.4 90.9h1.5v1.5h-1.5zM453.6 98.0h1.6v1.8h-1.6zM545.5 97.7h1.6v1.8h-1.6zM546.7 100.0h2.2v2.0h-2.2zM450.9 102.4h2.1v1.9h-2.1zM457.8 101.9h2.7v2.3h-2.7zM459.2 104.2h2.7v2.3h-2.7zM462.3 106.5h2.5v2.5h-2.5zM466.9 106.5h2.9v2.5h-2.9zM457.1 109.3h1.9v1.7h-1.9zM469.5 111.7h2.5v2.2h-2.5zM453.1 113.9h1.7v1.9h-1.7zM454.7 113.5h1.8v2.0h-1.8zM537.8 113.8h1.8v2.2h-1.8zM460.7 115.7h1.9v2.2h-1.9zM476.4 115.6h2.9v2.8h-2.9zM457.1 118.3h1.9v1.7h-1.9zM468.4 123.2h2.0v2.2h-2.0zM523.7 122.4h2.6v2.5h-2.6zM481.0 125.2h2.7v2.9h-2.7zM473.2 127.5h1.9v2.0h-1.9zM519.1 128.1h1.5v1.7h-1.5zM483.4 130.3h1.9v1.6h-1.9zM494.7 130.3h2.0v2.0h-2.0zM525.2 130.1h1.4v1.4h-1.4zM482.9 132.7h1.9v1.6h-1.9zM487.4 132.3h1.9v1.9h-1.9zM498.7 132.3h2.2v2.1h-2.2zM510.3 132.2h1.9v1.9h-1.9zM519.6 132.2h1.5v1.5h-1.5zM500.0 134.2h2.1v1.9h-2.1zM504.4 134.8h1.7v2.1h-1.7zM513.9 134.7h1.6v1.6h-1.6zM494.6 136.7h1.5v1.9h-1.5zM505.6 137.2h1.6v1.7h-1.6zM546.6 66.9h1.5v1.9h-1.5zM548.7 70.8h1.8v1.8h-1.8zM520.4 36.6h1.8v1.6h-1.8zM448.9 63.3h1.9v1.7h-1.9zM527.6 41.7h1.9v1.7h-1.9zM450.3 110.0h1.6v1.3h-1.6zM544.8 62.8h1.7v2.0h-1.7zM547.3 99.7h1.8v1.9h-1.8zM496.9 137.7h1.9v1.4h-1.9zM504.5 136.9h1.3v1.8h-1.3zM538.7 53.2h1.9v1.3h-1.9zM445.9 99.9h1.8v1.7h-1.8zM481.4 34.5h1.7v1.7h-1.7zM513.1 135.3h1.7v1.9h-1.7zM499.2 31.9h1.7v2.0h-1.7zM485.1 136.2h1.8v1.5h-1.8zM443.9 81.4h1.6v1.4h-1.6zM545.0 63.9h1.8v1.5h-1.8zM533.1 47.0h1.7v1.4h-1.7zM505.1 137.0h2.0v1.7h-2.0zM548.1 96.2h1.8v1.3h-1.8zM547.6 69.5h1.7v1.6h-1.7zM492.9 138.1h1.8v1.6h-1.8zM448.7 64.5h1.4v1.8h-1.4zM446.6 66.6h2.0v1.7h-2.0zM452.2 55.8h1.6v2.0h-1.6zM549.1 88.0h1.7v1.9h-1.7zM529.0 126.9h1.7v1.6h-1.7zM502.3 31.8h1.4v1.5h-1.4zM543.9 59.7h1.8v1.7h-1.8zM505.6 136.3h1.3v1.7h-1.3zM444.3 80.3h1.8v1.7h-1.8zM443.4 86.5h1.8v1.3h-1.8zM443.7 88.9h1.3v1.5h-1.3zM468.7 39.0h1.8v1.9h-1.8zM512.5 33.5h1.4v1.4h-1.4zM528.0 42.1h1.7v1.5h-1.7zM542.0 57.7h2.0v2.0h-2.0zM549.8 80.2h1.5v1.5h-1.5zM503.2 31.9h1.5v1.9h-1.5zM525.1 39.3h1.5v1.4h-1.5zM502.5 137.2h2.0v1.8h-2.0zM450.7 59.6h1.5v1.6h-1.5zM489.4 32.3h2.0v1.7h-2.0zM502.4 137.8h1.9v2.0h-1.9zM491.2 137.8h1.9v1.5h-1.9zM486.5 136.8h1.4v1.6h-1.4zM543.1 111.2h1.6v1.9h-1.6zM472.3 131.5h1.9v1.5h-1.9zM504.2 137.1h1.4v1.7h-1.4zM496.2 31.8h1.6v1.7h-1.6zM447.5 67.2h1.5v1.4h-1.5zM549.9 84.0h1.5v2.0h-1.5zM527.8 40.6h1.5v2.0h-1.5zM547.9 101.3h1.6v1.6h-1.6zM537.1 118.6h1.5v1.8h-1.5zM498.4 32.5h1.9v1.6h-1.9zM540.0 54.5h1.7v1.5h-1.7zM447.7 105.2h1.3v1.7h-1.3zM521.3 132.1h1.4v1.7h-1.4zM446.2 97.1h1.4v1.6h-1.4zM536.9 118.8h1.8v1.5h-1.8zM476.9 134.4h1.9v1.6h-1.9zM454.6 116.4h1.8v1.7h-1.8zM476.4 133.2h1.3v1.9h-1.3zM528.2 41.1h1.3v1.5h-1.3zM548.1 69.6h1.4v1.7h-1.4zM541.3 115.0h1.3v1.8h-1.3zM516.1 35.9h1.4v1.4h-1.4zM504.7 136.6h1.9v1.7h-1.9zM444.7 79.2h1.8v1.5h-1.8zM470.6 131.4h1.6v1.4h-1.6zM464.3 126.9h1.6v1.4h-1.6zM534.1 47.4h1.9v1.3h-1.9zM467.0 41.3h1.9v1.7h-1.9zM446.0 97.8h1.9v1.7h-1.9zM523.1 38.5h1.4v1.7h-1.4zM473.0 132.2h1.8v1.7h-1.8zM544.6 108.7h1.5v1.9h-1.5zM461.7 45.9h1.5v1.9h-1.5zM522.0 131.4h1.5v1.8h-1.5zM482.0 136.0h1.9v1.7h-1.9zM493.3 137.0h1.5v1.9h-1.5zM466.9 128.8h1.7v1.5h-1.7zM509.0 33.0h1.5v1.5h-1.5zM458.9 48.2h2.0v2.0h-2.0zM526.0 129.0h2.0v1.5h-2.0zM492.9 59.3h2.2v2.2h-2.2zM484.6 57.2h2.4v2.5h-2.4zM483.0 57.6h2.0v2.2h-2.0zM485.1 52.2h2.1v2.0h-2.1zM486.4 50.8h2.0v2.0h-2.0zM485.8 55.2h2.3v2.1h-2.3zM488.0 51.0h2.4v1.9h-2.4zM486.3 50.0h2.4v2.2h-2.4zM486.8 55.9h1.9v2.3h-1.9zM486.1 51.0h2.4v2.1h-2.4zM486.0 49.0h2.1v2.4h-2.1zM475.7 56.9h2.3v2.0h-2.3zM474.0 56.1h2.1v2.5h-2.1zM511.5 88.8h2.1v2.4h-2.1zM515.3 93.4h2.1v2.0h-2.1zM514.7 97.8h2.3v2.1h-2.3zM516.7 86.3h2.0v2.1h-2.0zM515.0 89.9h2.3v2.3h-2.3zM509.6 92.7h2.2v2.2h-2.2zM508.1 93.8h2.0v2.0h-2.0zM517.0 87.0h2.2v2.1h-2.2zM508.2 89.1h2.3v2.3h-2.3zM514.7 82.2h2.0v2.1h-2.0zM512.0 87.7h2.4v2.4h-2.4zM521.2 91.1h2.2v2.4h-2.2zM518.0 89.2h2.3v2.0h-2.3zM516.2 98.3h2.2v2.4h-2.2zM519.4 101.4h2.1v2.0h-2.1zM522.9 102.1h2.1v2.4h-2.1zM524.1 103.7h2.3v2.0h-2.3zM518.7 89.9h2.3v2.0h-2.3zM517.0 85.2h2.1v2.4h-2.1zM516.2 92.9h2.1v1.9h-2.1zM517.6 102.2h2.4v2.0h-2.4zM518.0 99.6h2.5v2.0h-2.5zM518.3 94.6h2.3v2.5h-2.3zM513.8 97.6h2.0v2.2h-2.0zM508.5 98.7h2.3v2.4h-2.3zM523.8 92.6h1.9v2.1h-1.9zM509.9 104.1h2.4v2.0h-2.4zM504.3 102.9h2.4v2.0h-2.4zM503.6 101.1h2.5v2.1h-2.5zM507.9 100.7h2.2v2.3h-2.2zM526.7 85.8h2.1v2.4h-2.1zM525.5 84.3h2.4v2.3h-2.4zM522.4 76.3h2.2v2.1h-2.2zM524.5 82.7h2.1v2.3h-2.1zM519.1 86.0h2.2v1.9h-2.2zM531.2 80.4h2.5v2.3h-2.5zM517.5 76.3h2.4v2.1h-2.4zM510.2 74.5h2.0v2.2h-2.0zM516.9 79.0h2.0v2.2h-2.0zM511.6 78.3h2.4v2.4h-2.4zM487.0 70.2h2.4v2.4h-2.4zM526.2 78.1h2.2v2.4h-2.2zM522.2 74.0h2.2v2.2h-2.2zM525.9 75.0h2.3v2.2h-2.3zM479.7 98.4h2.3v1.9h-2.3zM478.4 99.8h2.1v2.2h-2.1zM477.3 96.7h2.2v2.2h-2.2zM490.2 114.1h2.0v2.1h-2.0zM483.6 112.6h2.4v2.2h-2.4zM504.5 112.8h1.9v2.5h-1.9zM476.0 109.1h2.1v2.5h-2.1zM476.3 107.4h2.4v2.3h-2.4zM477.7 111.8h2.1v2.3h-2.1zM479.6 111.8h2.0v2.0h-2.0zM481.3 110.9h2.0v2.0h-2.0zM468.2 107.0h2.3v2.0h-2.3zM469.6 104.4h2.4v2.0h-2.4z"/>
<path fill="#2a80e0" d="M497.5 32.9h1.8v2.1h-1.8zM480.6 36.1h1.8v1.7h-1.8zM489.7 35.5h1.6v1.9h-1.6zM472.1 38.3h1.5v1.5h-1.5zM480.0 40.1h1.6v1.5h-1.6zM514.6 40.5h1.4v1.9h-1.4zM515.4 42.3h2.2v2.5h-2.2zM517.9 42.7h2.8v2.4h-2.8zM468.4 45.0h1.7v1.4h-1.7zM468.8 49.0h1.5v2.2h-1.5zM460.9 51.8h1.7v1.9h-1.7zM469.6 51.5h2.8v2.6h-2.8zM464.0 54.1h1.6v1.5h-1.6zM535.2 54.4h2.0v1.8h-2.0zM454.3 56.1h1.4v1.6h-1.4zM460.4 56.0h2.0v2.1h-2.0zM459.6 59.0h1.9v1.4h-1.9zM461.5 58.1h2.7v2.5h-2.7zM537.2 58.4h2.3v2.5h-2.3zM540.4 58.6h1.4v2.1h-1.4zM538.8 60.6h2.5v2.3h-2.5zM455.0 63.2h1.9v1.6h-1.9zM457.6 63.3h1.6v1.9h-1.6zM539.6 63.1h2.6v2.9h-2.6zM460.4 65.0h2.6v2.6h-2.6zM448.4 67.8h1.8v2.2h-1.8zM454.6 67.5h1.9v2.1h-1.9zM545.3 70.5h2.1v1.6h-2.1zM459.0 72.6h2.7v2.3h-2.7zM545.0 72.3h1.7v1.9h-1.7zM543.4 74.7h2.4v2.4h-2.4zM547.9 74.9h2.2v1.7h-2.2zM450.4 77.5h1.6v1.8h-1.6zM458.9 77.1h2.7v2.2h-2.7zM549.4 77.1h1.8v1.5h-1.8zM453.2 79.1h2.6v2.2h-2.6zM450.5 82.0h1.7v1.7h-1.7zM446.6 83.8h1.7v2.0h-1.7zM455.4 83.8h2.6v2.9h-2.6zM446.0 86.8h2.0v1.5h-2.0zM448.2 86.3h2.1v2.2h-2.1zM446.8 88.6h2.0v1.7h-2.0zM452.4 90.8h2.1v1.5h-2.1zM446.6 93.7h2.0v1.6h-2.0zM448.8 92.7h2.0v2.2h-2.0zM451.3 93.4h1.5v2.0h-1.5zM456.8 95.2h2.7v2.8h-2.7zM455.2 97.4h2.7v2.5h-2.7zM454.7 100.3h1.8v1.7h-1.8zM466.1 99.4h2.5v2.5h-2.5zM448.6 104.9h1.4v1.7h-1.4zM452.5 105.2h1.6v1.4h-1.6zM454.9 104.4h2.1v1.7h-2.1zM461.2 104.1h2.5v2.7h-2.5zM539.5 104.4h2.0v2.2h-2.0zM542.0 104.8h2.0v1.9h-2.0zM544.7 104.6h1.7v1.6h-1.7zM534.7 109.3h2.9v2.7h-2.9zM457.0 114.0h1.9v1.9h-1.9zM459.6 114.1h1.9v1.4h-1.9zM455.7 116.3h2.1v1.6h-2.1zM467.7 116.0h2.3v2.9h-2.3zM469.7 116.0h2.7v2.8h-2.7zM538.1 118.2h1.5v1.8h-1.5zM469.8 121.1h2.1v1.4h-2.1zM476.2 120.0h2.6v2.6h-2.6zM466.1 123.1h2.1v1.7h-2.1zM470.0 124.9h1.8v2.0h-1.8zM520.4 125.6h2.2v2.0h-2.2zM527.3 125.5h2.2v1.5h-2.2zM475.4 128.3h1.9v1.4h-1.9zM477.5 127.4h1.9v1.9h-1.9zM488.9 127.4h2.8v2.8h-2.8zM510.1 128.2h1.9v1.5h-1.9zM514.8 127.5h1.6v1.5h-1.6zM472.1 129.7h1.6v2.0h-1.6zM474.6 129.9h1.6v2.0h-1.6zM513.8 129.6h1.5v1.8h-1.5zM515.6 130.1h1.9v1.8h-1.9zM517.9 129.5h1.6v2.1h-1.6zM491.9 132.8h2.2v1.4h-2.2zM500.8 132.2h2.0v1.9h-2.0zM490.5 134.6h1.7v1.8h-1.7zM509.4 134.6h1.4v2.2h-1.4zM482.8 61.0h2.1v1.9h-2.1zM485.4 54.0h2.1v2.2h-2.1zM490.5 57.5h2.0v2.0h-2.0zM491.9 51.3h2.2v2.1h-2.2zM493.3 48.5h2.1v2.2h-2.1zM484.5 50.4h2.4v2.5h-2.4zM487.3 52.3h2.4v2.4h-2.4zM477.7 56.5h2.0v2.2h-2.0zM509.4 86.9h2.2v2.0h-2.2zM511.0 87.7h2.4v2.5h-2.4zM505.5 87.7h2.1v2.1h-2.1zM509.9 89.8h2.0v2.0h-2.0zM514.5 91.4h2.4v2.3h-2.4zM514.0 94.6h2.0v2.3h-2.0zM516.4 84.5h1.9v2.0h-1.9zM512.0 91.2h2.3v2.5h-2.3zM510.1 91.7h2.3v2.0h-2.3zM513.3 85.1h1.9v2.4h-1.9zM507.2 95.4h2.3v2.4h-2.3zM516.8 85.1h1.9v2.2h-1.9zM505.1 85.3h2.3v2.2h-2.3zM514.8 80.2h2.1v2.3h-2.1zM514.0 87.4h2.0v2.0h-2.0zM519.2 100.5h2.3v2.0h-2.3zM519.5 102.3h2.4v2.1h-2.4zM521.5 98.8h2.2v2.2h-2.2zM519.8 93.0h2.0v2.3h-2.0zM517.7 93.1h2.4v2.0h-2.4zM516.1 94.0h2.5v2.3h-2.5zM515.5 84.0h2.5v2.2h-2.5zM519.7 92.0h2.3v2.0h-2.3zM517.8 91.8h2.2v2.3h-2.2zM512.5 91.9h2.2v2.0h-2.2zM516.5 100.6h2.3v2.1h-2.3zM520.1 98.6h1.9v2.5h-1.9zM521.2 92.3h1.9v1.9h-1.9zM519.9 91.7h2.2v2.3h-2.2zM524.9 91.1h2.1v2.1h-2.1zM508.3 103.0h2.3v2.1h-2.3zM506.4 103.5h2.4v2.0h-2.4zM502.3 99.7h2.3v2.5h-2.3zM502.0 102.8h1.9v2.1h-1.9zM498.3 104.0h2.2v2.0h-2.2zM508.2 101.2h2.3v2.0h-2.3zM510.8 98.3h2.0v2.3h-2.0zM500.9 103.1h2.1v2.1h-2.1zM497.4 101.2h2.5v2.1h-2.5zM507.5 106.1h2.4v2.3h-2.4zM522.1 83.4h2.3v2.2h-2.3zM520.8 84.7h2.3v2.1h-2.3zM524.8 81.3h2.5v2.4h-2.5zM515.3 81.3h2.0v2.2h-2.0zM510.1 80.9h1.9v1.9h-1.9zM510.7 81.7h2.5v1.9h-2.5zM489.5 77.0h2.1v2.0h-2.1zM489.0 75.0h2.2v2.2h-2.2zM522.5 77.3h2.5v2.1h-2.5zM476.7 98.1h2.2v2.5h-2.2zM474.8 98.4h2.1v2.3h-2.1zM477.0 98.5h2.2v2.3h-2.2zM477.8 94.9h2.4v2.2h-2.4zM490.3 110.6h2.2v2.0h-2.2zM489.5 112.2h2.4v2.2h-2.4zM489.9 112.5h1.9v2.0h-1.9zM487.6 112.5h2.0v2.2h-2.0zM485.7 112.8h2.0v2.1h-2.0zM478.1 106.3h2.0v2.3h-2.0zM480.9 104.8h2.4v2.3h-2.4z"/>
<path fill="#0f5bb5" d="M499.3 37.3h2.5v2.9h-2.5zM478.1 42.1h2.8v2.6h-2.8zM470.7 49.2h2.5v2.3h-2.5zM464.9 55.9h2.8v2.7h-2.8zM462.8 60.7h2.6v2.4h-2.6zM459.3 62.8h2.7v2.5h-2.7zM462.5 65.7h2.8v2.2h-2.8zM540.7 65.1h2.7v2.5h-2.7zM460.1 70.1h2.4v2.6h-2.4zM454.7 72.3h2.6v2.2h-2.6zM542.1 71.8h2.3v2.5h-2.3zM460.6 74.8h2.3v2.3h-2.3zM455.9 79.1h2.2v2.8h-2.2zM458.2 79.4h2.4v2.3h-2.4zM544.7 81.3h2.3v2.6h-2.3zM459.4 86.2h2.4v2.6h-2.4zM457.0 90.6h2.6v2.5h-2.6zM462.7 97.7h2.5v2.8h-2.5zM464.6 97.7h2.7v2.7h-2.7zM464.6 101.6h2.5v2.7h-2.5zM461.0 108.9h2.9v2.7h-2.9zM463.9 109.0h2.7v2.3h-2.7zM468.7 113.8h2.4v2.6h-2.4zM527.8 117.7h2.9v2.6h-2.9zM474.2 120.1h2.8v2.5h-2.8zM515.3 125.1h2.4v2.9h-2.4zM494.1 127.5h2.2v2.8h-2.2zM499.0 129.5h2.8v2.2h-2.8zM481.7 59.0h2.4v2.5h-2.4zM490.4 50.7h2.1v2.1h-2.1zM489.4 52.4h2.4v2.0h-2.4zM489.2 54.1h2.1v2.3h-2.1zM489.2 57.7h2.2v2.0h-2.2zM484.0 52.5h2.3v1.9h-2.3zM482.7 50.6h2.1v2.3h-2.1zM487.7 54.3h2.2v2.1h-2.2zM480.0 54.4h2.3v2.0h-2.3zM479.0 57.8h2.4v2.1h-2.4zM477.2 59.6h2.4v2.1h-2.4zM507.6 85.9h2.5v2.2h-2.5zM511.9 92.0h2.3v2.4h-2.3zM510.7 93.5h1.9v1.9h-1.9zM514.0 91.6h2.1v1.9h-2.1zM506.1 97.0h2.1v2.2h-2.1zM518.7 87.9h2.3v2.1h-2.3zM504.4 87.0h2.0v2.2h-2.0zM516.3 79.0h1.9v2.2h-1.9zM516.2 89.4h2.3v2.4h-2.3zM514.7 90.5h2.2v2.0h-2.2zM515.3 90.9h2.0v2.2h-2.0zM519.4 90.3h2.4v2.1h-2.4zM517.9 87.2h2.1v2.0h-2.1zM514.2 94.1h1.9v2.2h-1.9zM524.3 107.3h2.4v2.3h-2.4zM518.6 86.2h2.3v2.1h-2.3zM514.3 92.5h2.3v2.1h-2.3zM511.8 97.2h2.3v2.3h-2.3zM510.1 97.6h2.0v1.9h-2.0zM518.1 90.8h2.5v2.4h-2.5zM521.6 92.1h2.4v2.3h-2.4zM511.4 101.8h2.4v2.1h-2.4zM509.8 95.8h2.1v2.5h-2.1zM500.2 103.4h2.2v2.4h-2.2zM496.5 104.6h2.4v2.4h-2.4zM505.7 106.7h2.1v2.1h-2.1zM505.2 104.4h2.2v2.2h-2.2zM523.1 81.6h2.0v2.3h-2.0zM520.3 86.5h2.1v2.2h-2.1zM525.2 84.6h2.1v1.9h-2.1zM530.8 78.6h2.0v2.2h-2.0zM531.6 77.1h2.4v2.1h-2.4zM507.9 80.4h2.5v2.0h-2.5zM517.0 72.7h2.2v2.4h-2.2zM514.9 79.7h1.9v2.3h-1.9zM515.5 75.7h2.2v2.3h-2.2zM512.3 80.2h2.0v2.1h-2.0zM487.9 73.6h1.9v2.3h-1.9zM488.5 71.8h2.0v2.1h-2.0zM524.4 75.0h2.1v2.0h-2.1zM524.7 71.6h2.3v2.2h-2.3zM481.9 113.2h2.1v1.9h-2.1zM480.4 114.1h2.0v2.4h-2.0zM505.8 111.8h2.5v2.2h-2.5zM479.1 104.7h2.2v2.4h-2.2zM477.5 108.7h2.3v2.5h-2.3zM469.5 108.3h2.2v2.4h-2.2zM468.4 106.0h2.5v1.9h-2.5z"/>
<path stroke="#e0205a" stroke-width="1.7" fill="none" d="M501.9 38.7L502.3 34.6M478.3 41.0L476.7 37.3M493.9 40.9L493.6 37.3M518.1 40.5L519.8 36.6M520.6 40.7L522.1 37.8M522.5 40.3L524.1 37.3M470.4 42.6L468.5 39.6M522.3 45.3L524.4 41.9M529.2 44.5L531.2 41.9M465.8 47.0L463.5 44.2M461.6 51.9L459.1 49.5M535.9 53.4L538.3 51.4M459.3 56.2L456.2 53.8M455.5 60.6L452.3 58.8M451.7 62.5L448.5 60.9M540.7 63.1L544.0 61.4M452.8 64.6L449.2 63.0M546.3 69.2L550.0 67.9M543.4 78.3L547.3 77.7M451.7 89.0L447.7 89.2M543.5 91.6L547.7 92.2M450.7 96.3L446.8 97.2M548.2 96.4L551.4 97.1M449.8 98.6L446.4 99.6M449.2 102.5L446.0 103.6M456.2 107.4L453.4 108.8M539.9 109.1L542.6 110.6M530.6 118.2L533.3 120.9M522.7 129.4L524.8 133.1M487.2 133.1L486.3 137.3M493.6 133.7L493.3 137.7M493.1 136.2L492.8 139.3"/>
<path fill="#d4134a" d="M489.9 61.3h2.2v2.5h-2.2zM479.9 57.9h2.1v2.3h-2.1zM515.0 85.5h2.0v2.4h-2.0zM520.4 103.9h2.3v2.4h-2.3zM514.2 89.2h2.3v2.2h-2.3zM524.4 105.6h2.1v2.0h-2.1zM520.1 93.8h1.9v1.9h-1.9zM509.0 94.2h1.9v2.3h-1.9zM508.3 103.4h2.0v2.0h-2.0zM525.0 78.5h2.3v2.1h-2.3zM513.3 81.6h2.2v2.0h-2.2zM513.9 75.0h2.0v2.0h-2.0zM512.0 75.1h2.0v2.1h-2.0zM490.6 74.5h2.0v2.5h-2.0zM472.8 98.7h2.4v1.9h-2.4zM507.5 110.6h1.9v2.3h-1.9zM471.6 103.8h2.1v2.1h-2.1z"/>
<circle cx="493.9" cy="55.7" r="6.8" fill="none" stroke="#c0552a" stroke-width="1.4"/>
<text transform="translate(501.7,60.6) scale(1.050,1)" x="-1.1" font-size="17" fill="#000">bound</text>
<polyline fill="none" stroke="#111" stroke-width="1.1" stroke-linejoin="round" points="627.4,55.6 627.8,40.0 628.2,41.9 628.5,83.4 628.9,86.8 629.3,107.5 629.7,83.3 630.0,51.8 630.4,67.5 630.8,78.3 631.2,54.2 631.5,70.2 631.9,91.7 632.3,93.1 632.7,55.0 633.1,70.4 633.4,39.2 633.8,39.5 634.2,67.2 634.6,68.4 634.9,70.8 635.3,96.1 635.7,91.5 636.1,118.1 636.5,118.1 636.8,118.1 637.2,118.1 637.6,118.1 638.0,118.1 638.3,118.1 638.7,118.1 639.1,118.1 639.5,118.1 639.8,118.1 640.2,118.1 640.6,118.1 641.0,118.1 641.4,41.8 641.7,32.9 642.1,63.6 642.5,81.3 642.9,99.6 643.2,98.6 643.6,114.2 644.0,75.5 644.4,69.9 644.7,92.8 645.1,50.6 645.5,48.3 645.9,66.4 646.3,46.9 646.6,89.6 647.0,103.0 647.4,61.7 647.8,84.4 648.1,60.9 648.5,63.4 648.9,73.5 649.3,72.0 649.7,108.5 650.0,68.2 650.4,86.5 650.8,60.1 651.2,48.7 651.5,50.0 651.9,36.8 652.3,36.1 652.7,49.8 653.0,72.4 653.4,107.1 653.8,91.9 654.2,88.1 654.6,58.7 654.9,54.8 655.3,50.6 655.7,40.6 656.1,107.9 656.4,98.6 656.8,68.3 657.2,69.8 657.6,108.2 657.9,45.7 658.3,76.0 658.7,66.0 659.1,43.2 659.5,67.7 659.8,111.1 660.2,47.8 660.6,39.0 661.0,36.9 661.3,37.3 661.7,76.9 662.1,92.4 662.5,102.5 662.9,97.6 663.2,99.0 663.6,95.0 664.0,47.1 664.4,106.3 664.7,89.4 665.1,117.4 665.5,90.3 665.9,97.0 666.2,73.0 666.6,106.5 667.0,96.0 667.4,115.6 667.8,77.9 668.1,104.6 668.5,118.3 668.9,117.0 669.3,61.1 669.6,45.6 670.0,104.0 670.4,109.8 670.8,78.2 671.1,41.3 671.5,96.2 671.9,96.2 672.3,84.2 672.7,52.3 673.0,77.7 673.4,99.6 673.8,110.3 674.2,77.0 674.5,41.9 674.9,90.5 675.3,80.1 675.7,103.8 676.1,57.6 676.4,44.7 676.8,96.9 677.2,56.4 677.6,66.7 677.9,53.9 678.3,75.7 678.7,90.4 679.1,88.2 679.4,67.0 679.8,55.0 680.2,89.3 680.6,44.3 681.0,57.1 681.3,72.8 681.7,67.9 682.1,61.7 682.5,61.8 682.8,73.1 683.2,50.1 683.6,101.8 684.0,51.8 684.3,49.6 684.7,86.4 685.1,109.9 685.5,52.0 685.9,105.8 686.2,61.3 686.6,59.0 687.0,56.2 687.4,50.0 687.7,66.9 688.1,105.7 688.5,52.6 688.9,83.1 689.3,51.2 689.6,70.5 690.0,91.8 690.4,106.9 690.8,69.8 691.1,83.7 691.5,92.5 691.9,81.9 692.3,42.5 692.6,77.5 693.0,37.3 693.4,97.1 693.8,38.7 694.2,91.7 694.5,92.2 694.9,86.7 695.3,59.2 695.7,70.1 696.0,57.4 696.4,52.8 696.8,34.2 697.2,94.2 697.5,40.8 697.9,88.6 698.3,93.6 698.7,99.3 699.1,58.3 699.4,42.5 699.8,52.9 700.2,39.6 700.6,69.0 700.9,98.9 701.3,112.5 701.7,104.3 702.1,52.4 702.5,102.3 702.8,82.6 703.2,60.8 703.6,48.8 704.0,97.1 704.3,55.3 704.7,76.8 705.1,75.6 705.5,39.6 705.8,46.8 706.2,34.6 706.6,31.0 707.0,73.8 707.4,76.6 707.7,82.7 708.1,94.7 708.5,107.6 708.9,71.2 709.2,101.2 709.6,82.4 710.0,104.1 710.4,80.4 710.8,59.7 711.1,56.4 711.5,58.5 711.9,58.5 712.3,64.4 712.6,64.6 713.0,67.9 713.4,72.7 713.8,98.5 714.1,112.8 714.5,79.1 714.9,105.0 715.3,90.0 715.7,109.6 716.0,88.9 716.4,54.1 716.8,65.5 717.2,47.6 717.5,70.9 717.9,96.7 718.3,70.0 718.7,65.4 719.0,46.8 719.4,83.5 719.8,54.0 720.2,79.2 720.6,108.6 720.9,90.7 721.3,83.5 721.7,71.4 722.1,97.7 722.4,92.4 722.8,108.8 723.2,79.1 723.6,89.6 724.0,94.5 724.3,57.4 724.7,100.9 725.1,97.6 725.5,83.3 725.8,69.1 726.2,99.3 726.6,87.3 727.0,74.5 727.3,102.5 727.7,90.9 728.1,84.0 728.5,65.5 728.9,105.1 729.2,83.8 729.6,106.8 730.0,99.5 730.4,111.3 730.7,112.8 731.1,92.7 731.5,77.7 731.9,108.0 732.2,110.2 732.6,93.0 733.0,82.0 733.4,108.7 733.8,62.9 734.1,103.1 734.5,96.2 734.9,69.7 735.3,93.8 735.6,57.6 736.0,75.7 736.4,102.4 736.8,77.2 737.2,86.7 737.5,61.5 737.9,52.6 738.3,68.9 738.7,106.0 739.0,112.3 739.4,88.8 739.8,66.0 740.2,99.4 740.5,108.5 740.9,79.6 741.3,106.2 741.7,68.2 742.1,96.8 742.4,63.8 742.8,60.7 743.2,99.5 743.6,101.1 743.9,83.1 744.3,97.4 744.7,62.1 745.1,77.8 745.4,94.8 745.8,64.7 746.2,55.3 746.6,52.7 747.0,56.5 747.3,84.3 747.7,68.6 748.1,78.1 748.5,77.7 748.8,106.6 749.2,94.8 749.6,95.8 750.0,61.8 750.4,55.5 750.7,69.7 751.1,54.1 751.5,67.9 751.9,95.4 752.2,104.3 752.6,86.6 753.0,72.0 753.4,78.7 753.7,100.8 754.1,122.6"/>
<line x1="754.4" y1="10.4" x2="754.4" y2="123.4" stroke="#555" stroke-width="0.9" stroke-dasharray="3,2.2"/>
<rect x="627.4" y="10.4" width="134.8" height="113" fill="none" stroke="#555" stroke-width="1"/>
<path d="M627.4 123.4v-1.6M627.4 10.4v1.6M667.1 123.4v-1.6M667.1 10.4v1.6M706.8 123.4v-1.6M706.8 10.4v1.6M746.5 123.4v-1.6M746.5 10.4v1.6M627.4 123.4h1.6M762.2 123.4h-1.6M627.4 85.7h1.6M762.2 85.7h-1.6M627.4 48.1h1.6M762.2 48.1h-1.6M627.4 10.4h1.6M762.2 10.4h-1.6" stroke="#555" stroke-width="0.9" fill="none"/>
<text transform="translate(611.96,130.6)" x="-0.72" font-size="18" fill="#262626">0</text>
<text transform="translate(601.97,92.93)" x="-0.72" font-size="18" fill="#262626">50</text>
<text transform="translate(592.61,55.27)" x="-1.35" font-size="18" fill="#262626">100</text>
<text transform="translate(592.61,17.6)" x="-1.35" font-size="18" fill="#262626">150</text>
<text transform="translate(623.08,148.4)" x="-0.72" font-size="18" fill="#262626">0</text>
<text transform="translate(663.19,148.4)" x="-1.35" font-size="18" fill="#262626">1</text>
<text transform="translate(702.7,148.4)" x="-0.9" font-size="18" fill="#262626">2</text>
<text transform="translate(742.23,148.4)" x="-0.72" font-size="18" fill="#262626">3</text>
<text transform="translate(660,173) scale(1.100,1)" x="-0.36" font-size="18" fill="#262626">Time (s)</text>
<text transform="translate(580.9,127.56) rotate(-90) scale(1.053,1)" font-size="18.5" fill="#262626">Distance (nm)</text>
<text transform="translate(544.2,26.6) scale(1.053,1)" x="-1.05" font-size="17.5" fill="#000">(B)</text>
<text transform="translate(683.4,25.3) scale(1.036,1)" x="-0.36" font-size="18" fill="#000" font-style="italic" font-family="Liberation Serif, serif">τ</text>
<text transform="translate(690.5,25.3) scale(1.058,1)" x="-0.85" font-size="17" fill="#000">=3.2s</text>
<path d="M735.6 20.6H751M746.5 16.6L751.2 20.6L746.5 24.6" stroke="#000" stroke-width="1" fill="none"/>
<defs><clipPath id="cclip"><rect x="67.0" y="217.6" width="266.5" height="234.3"/></clipPath></defs>
<line x1="67.0" y1="213.6" x2="333.5" y2="366.3" stroke="#1fe0f0" stroke-width="1.2" clip-path="url(#cclip)"/>
<line x1="67.0" y1="253" x2="333.5" y2="405.7" stroke="#ff2a2a" stroke-width="1.2" clip-path="url(#cclip)"/>
<line x1="67.0" y1="294.2" x2="333.5" y2="446.9" stroke="#111" stroke-width="1.2" clip-path="url(#cclip)"/>
<line x1="68.0" y1="300.2" x2="333.5" y2="300.2" stroke="#EDB120" stroke-width="1.2" stroke-dasharray="3.2,2.6"/>
<text transform="translate(84.5,291.4)" x="-0.25" font-size="16.5" fill="#EDB120">t</text>
<text transform="translate(89.6,297.9) scale(0.962,1)" x="-0.69" font-size="10.6" fill="#EDB120">max</text>
<circle cx="112.6" cy="303.1" r="2.3" fill="none" stroke="#1fe0f0" stroke-width="1"/>
<circle cx="112.6" cy="306.5" r="2.3" fill="none" stroke="#ff2a2a" stroke-width="1"/>
<circle cx="112.6" cy="323.5" r="2.3" fill="none" stroke="#333" stroke-width="1"/>
<circle cx="179.5" cy="307" r="2.3" fill="none" stroke="#1fe0f0" stroke-width="1"/>
<circle cx="179.5" cy="320.6" r="2.3" fill="none" stroke="#ff2a2a" stroke-width="1"/>
<path d="M179.5 347.3V359.4M176.5 347.3h6M176.5 359.4h6" stroke="#000" stroke-width="1.1" fill="none"/>
<circle cx="179.5" cy="352.3" r="2.6" fill="#000"/>
<circle cx="246.2" cy="319.2" r="2.3" fill="none" stroke="#1fe0f0" stroke-width="1"/>
<path d="M246.2 345.2V354.3M243.2 345.2h6M243.2 354.3h6" stroke="#ee0000" stroke-width="1.1" fill="none"/>
<circle cx="246.2" cy="349.5" r="2.6" fill="#ee0000"/>
<path d="M246.2 396.6V400.2M243.2 396.6h6M243.2 400.2h6" stroke="#000" stroke-width="1.1" fill="none"/>
<circle cx="246.2" cy="398.4" r="2.6" fill="#000"/>
<path d="M313.5 359.8V363.6M310.5 359.8h6M310.5 363.6h6" stroke="#1fe0f0" stroke-width="1.1" fill="none"/>
<circle cx="313.5" cy="361.7" r="2.6" fill="#1fe0f0"/>
<path d="M313.5 395.6V399.6M310.5 395.6h6M310.5 399.6h6" stroke="#ee0000" stroke-width="1.1" fill="none"/>
<circle cx="313.5" cy="397.6" r="2.6" fill="#ee0000"/>
<path d="M313.5 428.2V432.2M310.5 428.2h6M310.5 432.2h6" stroke="#000" stroke-width="1.1" fill="none"/>
<circle cx="313.5" cy="430.2" r="2.6" fill="#000"/>
<rect x="67.0" y="217.6" width="266.5" height="234.3" fill="none" stroke="#444" stroke-width="1"/>
<path d="M100.2 451.9v-2.5M100.2 217.6v2.5M133.4 451.9v-2.5M133.4 217.6v2.5M166.6 451.9v-2.5M166.6 217.6v2.5M199.8 451.9v-2.5M199.8 217.6v2.5M233.0 451.9v-2.5M233.0 217.6v2.5M266.2 451.9v-2.5M266.2 217.6v2.5M299.4 451.9v-2.5M299.4 217.6v2.5M67.0 447.9h1.4M333.5 447.9h-1.4M67.0 444.1h1.4M333.5 444.1h-1.4M67.0 441.0h1.4M333.5 441.0h-1.4M67.0 438.4h1.4M333.5 438.4h-1.4M67.0 436.2h1.4M333.5 436.2h-1.4M67.0 434.2h1.4M333.5 434.2h-1.4M67.0 432.4h2.6M333.5 432.4h-2.6M67.0 420.6h1.4M333.5 420.6h-1.4M67.0 413.7h1.4M333.5 413.7h-1.4M67.0 408.9h1.4M333.5 408.9h-1.4M67.0 405.1h1.4M333.5 405.1h-1.4M67.0 402.0h1.4M333.5 402.0h-1.4M67.0 399.4h1.4M333.5 399.4h-1.4M67.0 397.1h1.4M333.5 397.1h-1.4M67.0 395.1h1.4M333.5 395.1h-1.4M67.0 393.3h2.6M333.5 393.3h-2.6M67.0 381.6h1.4M333.5 381.6h-1.4M67.0 374.7h1.4M333.5 374.7h-1.4M67.0 369.8h1.4M333.5 369.8h-1.4M67.0 366.0h1.4M333.5 366.0h-1.4M67.0 362.9h1.4M333.5 362.9h-1.4M67.0 360.3h1.4M333.5 360.3h-1.4M67.0 358.1h1.4M333.5 358.1h-1.4M67.0 356.1h1.4M333.5 356.1h-1.4M67.0 354.3h2.6M333.5 354.3h-2.6M67.0 342.5h1.4M333.5 342.5h-1.4M67.0 335.6h1.4M333.5 335.6h-1.4M67.0 330.8h1.4M333.5 330.8h-1.4M67.0 327.0h1.4M333.5 327.0h-1.4M67.0 323.9h1.4M333.5 323.9h-1.4M67.0 321.3h1.4M333.5 321.3h-1.4M67.0 319.0h1.4M333.5 319.0h-1.4M67.0 317.0h1.4M333.5 317.0h-1.4M67.0 315.2h2.6M333.5 315.2h-2.6M67.0 303.5h1.4M333.5 303.5h-1.4M67.0 296.6h1.4M333.5 296.6h-1.4M67.0 291.7h1.4M333.5 291.7h-1.4M67.0 287.9h1.4M333.5 287.9h-1.4M67.0 284.8h1.4M333.5 284.8h-1.4M67.0 282.2h1.4M333.5 282.2h-1.4M67.0 280.0h1.4M333.5 280.0h-1.4M67.0 278.0h1.4M333.5 278.0h-1.4M67.0 276.2h2.6M333.5 276.2h-2.6M67.0 264.4h1.4M333.5 264.4h-1.4M67.0 257.5h1.4M333.5 257.5h-1.4M67.0 252.7h1.4M333.5 252.7h-1.4M67.0 248.9h1.4M333.5 248.9h-1.4M67.0 245.8h1.4M333.5 245.8h-1.4M67.0 243.2h1.4M333.5 243.2h-1.4M67.0 240.9h1.4M333.5 240.9h-1.4M67.0 238.9h1.4M333.5 238.9h-1.4M67.0 237.1h2.6M333.5 237.1h-2.6M67.0 225.4h1.4M333.5 225.4h-1.4M67.0 218.5h1.4M333.5 218.5h-1.4" stroke="#444" stroke-width="0.9" fill="none"/>
<text transform="translate(87.65,477.7)" x="-0.81" font-size="18" fill="#262626">-12</text>
<text transform="translate(121.48,477.7)" x="-0.81" font-size="18" fill="#262626">-11</text>
<text transform="translate(153.92,477.7)" x="-0.81" font-size="18" fill="#262626">-10</text>
<text transform="translate(192.2,477.7)" x="-0.81" font-size="18" fill="#262626">-9</text>
<text transform="translate(225.35,477.7)" x="-0.81" font-size="18" fill="#262626">-8</text>
<text transform="translate(258.65,477.7)" x="-0.81" font-size="18" fill="#262626">-7</text>
<text transform="translate(291.76,477.7)" x="-0.81" font-size="18" fill="#262626">-6</text>
<text transform="translate(33.85,246.62)" x="-1.31" font-size="17.5" fill="#262626">10</text>
<text transform="translate(52.45,238.12)" x="-0.56" font-size="14" fill="#262626">3</text>
<text transform="translate(34.13,285.68)" x="-1.31" font-size="17.5" fill="#262626">10</text>
<text transform="translate(52.73,277.18)" x="-0.7" font-size="14" fill="#262626">2</text>
<text transform="translate(34.41,324.73)" x="-1.31" font-size="17.5" fill="#262626">10</text>
<text transform="translate(53.01,316.23)" x="-1.05" font-size="14" fill="#262626">1</text>
<text transform="translate(33.78,363.77)" x="-1.31" font-size="17.5" fill="#262626">10</text>
<text transform="translate(52.38,355.27)" x="-0.56" font-size="14" fill="#262626">0</text>
<text transform="translate(29.3,402.82)" x="-1.31" font-size="17.5" fill="#262626">10</text>
<text transform="translate(47.9,394.32)" x="-0.63" font-size="14" fill="#262626">-1</text>
<text transform="translate(29.37,441.88)" x="-1.31" font-size="17.5" fill="#262626">10</text>
<text transform="translate(47.97,433.38)" x="-0.63" font-size="14" fill="#262626">-2</text>
<text transform="translate(2.5,205.4) scale(1.048,1)" x="-1.05" font-size="17.5" fill="#000">(C)</text>
<text transform="translate(17.8,339.67) rotate(-90)" font-size="19.5" fill="#262626">(s)</text>
<text transform="translate(17.6,353.69) rotate(-90) scale(1.431,1)" font-size="17" fill="#262626" font-style="italic" font-family="Liberation Serif, serif">τ</text>
<text transform="translate(147.5,503) scale(1.182,1)" x="-0.57" font-size="19" fill="#262626">Δ</text>
<text transform="translate(163.6,503) scale(1.077,1)" x="-0.95" font-size="19" fill="#262626">G</text>
<text transform="translate(178.9,512.7) scale(1.130,1)" x="-0.98" font-size="14" fill="#262626">hex</text>
<text transform="translate(209.5,503)" x="-1.14" font-size="19" fill="#262626">(</text>
<text transform="translate(216.7,503) scale(0.932,1)" x="-1.24" font-size="19" fill="#262626">k</text>
<text transform="translate(226.3,512.7) scale(1.162,1)" x="-1.12" font-size="14" fill="#262626">B</text>
<text transform="translate(236.6,503) scale(0.970,1)" x="-0.38" font-size="19" fill="#262626">T</text>
<text transform="translate(249.5,503)" x="-0.1" font-size="19" fill="#262626">)</text>
<text transform="translate(187.1,276.6) scale(1.027,1)" x="-0.98" font-size="15" fill="#1fe0f0">k</text>
<text transform="translate(194.5,281.4) scale(0.880,1)" x="-0.3" font-size="7.5" fill="#1fe0f0">a</text>
<text transform="translate(199,271.5) scale(1.007,1)" x="-0.43" font-size="8.5" fill="#1fe0f0">2D</text>
<text transform="translate(210.5,276.7) scale(0.980,1)" x="-0.75" font-size="15" fill="#1fe0f0">=2.5X10</text>
<text transform="translate(265.9,271.4) scale(0.994,1)" x="-0.38" font-size="8.5" fill="#1fe0f0">-3</text>
<text transform="translate(274,276.8) scale(1.032,1)" x="-0.98" font-size="15" fill="#1fe0f0">nm</text>
<text transform="translate(294.2,271.4) scale(1.034,1)" x="-0.43" font-size="8.5" fill="#1fe0f0">2</text>
<text transform="translate(298.5,276.8) scale(1.005,1)" x="-0.98" font-size="15" fill="#1fe0f0">μs</text>
<text transform="translate(314.7,271.4) scale(0.853,1)" x="-0.38" font-size="8.5" fill="#1fe0f0">-1</text>
<text transform="translate(191,323.3) scale(1.040,1)" x="-0.72" font-size="14.3" fill="#ff2a2a">2.5X10</text>
<text transform="translate(237.8,318.8) scale(0.962,1)" x="-0.38" font-size="8.5" fill="#ff2a2a">-2</text>
<text transform="translate(192,366.5) scale(1.018,1)" x="-0.72" font-size="14.3" fill="#111">2.7X10</text>
<text transform="translate(238.1,361.5) scale(0.912,1)" x="-0.38" font-size="8.5" fill="#111">-1</text>
<path fill="#0072BD" d="M486.9 299.0H492.9V246.7H486.9zM492.9 299.0H497.0V240.2H492.9zM497.0 299.0H499.7V248.2H497.0zM499.7 299.0H501.6V249.8H499.7zM501.6 299.0H502.9V258.0H501.6zM502.9 299.0H505.8V252.2H502.9zM587.4 299.0H593.8V242.7H587.4zM593.8 299.0H597.3V252.2H593.8zM597.3 299.0H601.6V258.0H597.3zM601.6 299.0H603.0V271.0H601.6zM603.0 299.0H604.5V258.0H603.0zM664.0 299.0H670.9V246.7H664.0zM670.9 299.0H678.9V271.4H670.9zM740.4 299.0H747.1V255.1H740.4zM756.7 299.0H758.3V263.0H756.7zM469.8 382.1H476.2V333.0H469.8zM476.2 382.1H482.5V323.0H476.2zM482.5 382.1H484.5V329.6H482.5zM484.5 382.1H486.6V354.5H484.5zM486.6 382.1H489.0V346.0H486.6zM583.9 382.1H590.9V330.9H583.9zM590.9 382.1H594.1V354.4H590.9zM596.1 382.1H598.9V345.8H596.1zM601.0 382.1H602.7V354.4H601.0zM664.1 382.1H670.7V329.7H664.1zM670.7 382.1H674.0V354.4H670.7zM674.0 382.1H677.0V345.8H674.0zM678.2 382.1H679.9V354.4H678.2zM741.1 382.1H747.4V341.1H741.1zM747.4 382.1H751.0V345.8H747.4zM751.0 382.1H753.5V354.4H751.0zM454.8 464.3H458.8V401.8H454.8zM458.8 464.3H463.1V408.2H458.8zM463.1 464.3H467.0V420.4H463.1zM467.0 464.3H469.0V417.5H467.0zM469.0 464.3H469.8V428.9H469.0zM469.8 464.3H471.7V420.4H469.8zM547.0 464.3H553.8V407.4H547.0zM553.8 464.3H557.2V409.4H553.8zM557.2 464.3H559.9V411.9H557.2zM559.9 464.3H561.3V423.5H559.9zM561.3 464.3H563.6V420.4H561.3zM563.6 464.3H565.0V436.5H563.6zM565.0 464.3H566.2V428.6H565.0zM662.5 464.3H669.7V414.0H662.5zM669.7 464.3H673.2V437.1H669.7zM680.0 464.3H682.1V437.1H680.0zM740.3 464.3H747.0V413.6H740.3zM747.0 464.3H756.7V437.1H747.0z"/>
<path fill="#EDB120" d="M604.2 299.0H605.8V244.3H604.2zM681.0 299.0H682.6V228.6H681.0zM756.7 299.0H758.3V226.5H756.7zM681.0 382.1H683.2V322.6H681.0zM758.5 382.1H759.7V310.0H758.5zM757.7 464.3H759.3V406.5H757.7zM756.4 382.1H759.7V354.4H756.4z"/>
<rect x="454.5" y="217.4" width="76.45" height="81.6" fill="none" stroke="#333" stroke-width="1.1"/>
<rect x="530.95" y="217.4" width="76.45" height="81.6" fill="none" stroke="#333" stroke-width="1.1"/>
<rect x="607.4" y="217.4" width="76.45" height="81.6" fill="none" stroke="#333" stroke-width="1.1"/>
<rect x="683.85" y="217.4" width="76.45" height="81.6" fill="none" stroke="#333" stroke-width="1.1"/>
<rect x="454.5" y="299" width="76.45" height="83.1" fill="none" stroke="#333" stroke-width="1.1"/>
<rect x="530.95" y="299" width="76.45" height="83.1" fill="none" stroke="#333" stroke-width="1.1"/>
<rect x="607.4" y="299" width="76.45" height="83.1" fill="none" stroke="#333" stroke-width="1.1"/>
<rect x="683.85" y="299" width="76.45" height="83.1" fill="none" stroke="#333" stroke-width="1.1"/>
<rect x="454.5" y="382.1" width="76.45" height="82.2" fill="none" stroke="#333" stroke-width="1.1"/>
<rect x="530.95" y="382.1" width="76.45" height="82.2" fill="none" stroke="#333" stroke-width="1.1"/>
<rect x="607.4" y="382.1" width="76.45" height="82.2" fill="none" stroke="#333" stroke-width="1.1"/>
<rect x="683.85" y="382.1" width="76.45" height="82.2" fill="none" stroke="#333" stroke-width="1.1"/>
<path d="M454.5 290.8h1.2M531.0 290.8h-1.2M454.5 286.0h1.2M531.0 286.0h-1.2M454.5 282.6h1.2M531.0 282.6h-1.2M454.5 280.0h1.2M531.0 280.0h-1.2M454.5 277.8h1.2M531.0 277.8h-1.2M454.5 276.0h1.2M531.0 276.0h-1.2M454.5 274.4h1.2M531.0 274.4h-1.2M454.5 273.0h1.2M531.0 273.0h-1.2M454.5 271.8h2.2M531.0 271.8h-2.2M454.5 263.6h1.2M531.0 263.6h-1.2M454.5 258.8h1.2M531.0 258.8h-1.2M454.5 255.4h1.2M531.0 255.4h-1.2M454.5 252.8h1.2M531.0 252.8h-1.2M454.5 250.6h1.2M531.0 250.6h-1.2M454.5 248.8h1.2M531.0 248.8h-1.2M454.5 247.2h1.2M531.0 247.2h-1.2M454.5 245.8h1.2M531.0 245.8h-1.2M454.5 244.6h2.2M531.0 244.6h-2.2M454.5 236.4h1.2M531.0 236.4h-1.2M454.5 231.6h1.2M531.0 231.6h-1.2M454.5 228.2h1.2M531.0 228.2h-1.2M454.5 225.6h1.2M531.0 225.6h-1.2M454.5 223.4h1.2M531.0 223.4h-1.2M454.5 221.6h1.2M531.0 221.6h-1.2M454.5 220.0h1.2M531.0 220.0h-1.2M454.5 218.6h1.2M531.0 218.6h-1.2M456.0 299.0v-1.0M456.0 217.4v1.0M457.3 299.0v-1.0M457.3 217.4v1.0M458.5 299.0v-1.0M458.5 217.4v1.0M459.6 299.0v-1.0M459.6 217.4v1.0M460.5 299.0v-2.2M460.5 217.4v2.2M466.6 299.0v-1.0M466.6 217.4v1.0M470.2 299.0v-1.0M470.2 217.4v1.0M472.8 299.0v-1.0M472.8 217.4v1.0M474.8 299.0v-1.0M474.8 217.4v1.0M476.4 299.0v-1.0M476.4 217.4v1.0M477.7 299.0v-1.0M477.7 217.4v1.0M478.9 299.0v-1.0M478.9 217.4v1.0M480.0 299.0v-1.0M480.0 217.4v1.0M480.9 299.0v-2.2M480.9 217.4v2.2M487.0 299.0v-1.0M487.0 217.4v1.0M490.6 299.0v-1.0M490.6 217.4v1.0M493.2 299.0v-1.0M493.2 217.4v1.0M495.2 299.0v-1.0M495.2 217.4v1.0M496.8 299.0v-1.0M496.8 217.4v1.0M498.1 299.0v-1.0M498.1 217.4v1.0M499.3 299.0v-1.0M499.3 217.4v1.0M500.4 299.0v-1.0M500.4 217.4v1.0M501.3 299.0v-2.2M501.3 217.4v2.2M507.4 299.0v-1.0M507.4 217.4v1.0M511.0 299.0v-1.0M511.0 217.4v1.0M513.6 299.0v-1.0M513.6 217.4v1.0M515.6 299.0v-1.0M515.6 217.4v1.0M517.2 299.0v-1.0M517.2 217.4v1.0M518.5 299.0v-1.0M518.5 217.4v1.0M519.7 299.0v-1.0M519.7 217.4v1.0M520.8 299.0v-1.0M520.8 217.4v1.0M521.7 299.0v-2.2M521.7 217.4v2.2M527.8 299.0v-1.0M527.8 217.4v1.0M531.0 290.8h1.2M607.4 290.8h-1.2M531.0 286.0h1.2M607.4 286.0h-1.2M531.0 282.6h1.2M607.4 282.6h-1.2M531.0 280.0h1.2M607.4 280.0h-1.2M531.0 277.8h1.2M607.4 277.8h-1.2M531.0 276.0h1.2M607.4 276.0h-1.2M531.0 274.4h1.2M607.4 274.4h-1.2M531.0 273.0h1.2M607.4 273.0h-1.2M531.0 271.8h2.2M607.4 271.8h-2.2M531.0 263.6h1.2M607.4 263.6h-1.2M531.0 258.8h1.2M607.4 258.8h-1.2M531.0 255.4h1.2M607.4 255.4h-1.2M531.0 252.8h1.2M607.4 252.8h-1.2M531.0 250.6h1.2M607.4 250.6h-1.2M531.0 248.8h1.2M607.4 248.8h-1.2M531.0 247.2h1.2M607.4 247.2h-1.2M531.0 245.8h1.2M607.4 245.8h-1.2M531.0 244.6h2.2M607.4 244.6h-2.2M531.0 236.4h1.2M607.4 236.4h-1.2M531.0 231.6h1.2M607.4 231.6h-1.2M531.0 228.2h1.2M607.4 228.2h-1.2M531.0 225.6h1.2M607.4 225.6h-1.2M531.0 223.4h1.2M607.4 223.4h-1.2M531.0 221.6h1.2M607.4 221.6h-1.2M531.0 220.0h1.2M607.4 220.0h-1.2M531.0 218.6h1.2M607.4 218.6h-1.2M532.4 299.0v-1.0M532.4 217.4v1.0M533.8 299.0v-1.0M533.8 217.4v1.0M535.0 299.0v-1.0M535.0 217.4v1.0M536.0 299.0v-1.0M536.0 217.4v1.0M537.0 299.0v-2.2M537.0 217.4v2.2M543.1 299.0v-1.0M543.1 217.4v1.0M546.7 299.0v-1.0M546.7 217.4v1.0M549.2 299.0v-1.0M549.2 217.4v1.0M551.2 299.0v-1.0M551.2 217.4v1.0M552.8 299.0v-1.0M552.8 217.4v1.0M554.2 299.0v-1.0M554.2 217.4v1.0M555.4 299.0v-1.0M555.4 217.4v1.0M556.4 299.0v-1.0M556.4 217.4v1.0M557.4 299.0v-2.2M557.4 217.4v2.2M563.5 299.0v-1.0M563.5 217.4v1.0M567.1 299.0v-1.0M567.1 217.4v1.0M569.6 299.0v-1.0M569.6 217.4v1.0M571.6 299.0v-1.0M571.6 217.4v1.0M573.2 299.0v-1.0M573.2 217.4v1.0M574.6 299.0v-1.0M574.6 217.4v1.0M575.8 299.0v-1.0M575.8 217.4v1.0M576.8 299.0v-1.0M576.8 217.4v1.0M577.8 299.0v-2.2M577.8 217.4v2.2M583.9 299.0v-1.0M583.9 217.4v1.0M587.5 299.0v-1.0M587.5 217.4v1.0M590.0 299.0v-1.0M590.0 217.4v1.0M592.0 299.0v-1.0M592.0 217.4v1.0M593.6 299.0v-1.0M593.6 217.4v1.0M595.0 299.0v-1.0M595.0 217.4v1.0M596.2 299.0v-1.0M596.2 217.4v1.0M597.2 299.0v-1.0M597.2 217.4v1.0M598.2 299.0v-2.2M598.2 217.4v2.2M604.3 299.0v-1.0M604.3 217.4v1.0M607.4 290.8h1.2M683.9 290.8h-1.2M607.4 286.0h1.2M683.9 286.0h-1.2M607.4 282.6h1.2M683.9 282.6h-1.2M607.4 280.0h1.2M683.9 280.0h-1.2M607.4 277.8h1.2M683.9 277.8h-1.2M607.4 276.0h1.2M683.9 276.0h-1.2M607.4 274.4h1.2M683.9 274.4h-1.2M607.4 273.0h1.2M683.9 273.0h-1.2M607.4 271.8h2.2M683.9 271.8h-2.2M607.4 263.6h1.2M683.9 263.6h-1.2M607.4 258.8h1.2M683.9 258.8h-1.2M607.4 255.4h1.2M683.9 255.4h-1.2M607.4 252.8h1.2M683.9 252.8h-1.2M607.4 250.6h1.2M683.9 250.6h-1.2M607.4 248.8h1.2M683.9 248.8h-1.2M607.4 247.2h1.2M683.9 247.2h-1.2M607.4 245.8h1.2M683.9 245.8h-1.2M607.4 244.6h2.2M683.9 244.6h-2.2M607.4 236.4h1.2M683.9 236.4h-1.2M607.4 231.6h1.2M683.9 231.6h-1.2M607.4 228.2h1.2M683.9 228.2h-1.2M607.4 225.6h1.2M683.9 225.6h-1.2M607.4 223.4h1.2M683.9 223.4h-1.2M607.4 221.6h1.2M683.9 221.6h-1.2M607.4 220.0h1.2M683.9 220.0h-1.2M607.4 218.6h1.2M683.9 218.6h-1.2M608.9 299.0v-1.0M608.9 217.4v1.0M610.2 299.0v-1.0M610.2 217.4v1.0M611.4 299.0v-1.0M611.4 217.4v1.0M612.5 299.0v-1.0M612.5 217.4v1.0M613.4 299.0v-2.2M613.4 217.4v2.2M619.5 299.0v-1.0M619.5 217.4v1.0M623.1 299.0v-1.0M623.1 217.4v1.0M625.7 299.0v-1.0M625.7 217.4v1.0M627.7 299.0v-1.0M627.7 217.4v1.0M629.3 299.0v-1.0M629.3 217.4v1.0M630.6 299.0v-1.0M630.6 217.4v1.0M631.8 299.0v-1.0M631.8 217.4v1.0M632.9 299.0v-1.0M632.9 217.4v1.0M633.8 299.0v-2.2M633.8 217.4v2.2M639.9 299.0v-1.0M639.9 217.4v1.0M643.5 299.0v-1.0M643.5 217.4v1.0M646.1 299.0v-1.0M646.1 217.4v1.0M648.1 299.0v-1.0M648.1 217.4v1.0M649.7 299.0v-1.0M649.7 217.4v1.0M651.0 299.0v-1.0M651.0 217.4v1.0M652.2 299.0v-1.0M652.2 217.4v1.0M653.3 299.0v-1.0M653.3 217.4v1.0M654.2 299.0v-2.2M654.2 217.4v2.2M660.3 299.0v-1.0M660.3 217.4v1.0M663.9 299.0v-1.0M663.9 217.4v1.0M666.5 299.0v-1.0M666.5 217.4v1.0M668.5 299.0v-1.0M668.5 217.4v1.0M670.1 299.0v-1.0M670.1 217.4v1.0M671.4 299.0v-1.0M671.4 217.4v1.0M672.6 299.0v-1.0M672.6 217.4v1.0M673.7 299.0v-1.0M673.7 217.4v1.0M674.6 299.0v-2.2M674.6 217.4v2.2M680.7 299.0v-1.0M680.7 217.4v1.0M683.9 290.8h1.2M760.3 290.8h-1.2M683.9 286.0h1.2M760.3 286.0h-1.2M683.9 282.6h1.2M760.3 282.6h-1.2M683.9 280.0h1.2M760.3 280.0h-1.2M683.9 277.8h1.2M760.3 277.8h-1.2M683.9 276.0h1.2M760.3 276.0h-1.2M683.9 274.4h1.2M760.3 274.4h-1.2M683.9 273.0h1.2M760.3 273.0h-1.2M683.9 271.8h2.2M760.3 271.8h-2.2M683.9 263.6h1.2M760.3 263.6h-1.2M683.9 258.8h1.2M760.3 258.8h-1.2M683.9 255.4h1.2M760.3 255.4h-1.2M683.9 252.8h1.2M760.3 252.8h-1.2M683.9 250.6h1.2M760.3 250.6h-1.2M683.9 248.8h1.2M760.3 248.8h-1.2M683.9 247.2h1.2M760.3 247.2h-1.2M683.9 245.8h1.2M760.3 245.8h-1.2M683.9 244.6h2.2M760.3 244.6h-2.2M683.9 236.4h1.2M760.3 236.4h-1.2M683.9 231.6h1.2M760.3 231.6h-1.2M683.9 228.2h1.2M760.3 228.2h-1.2M683.9 225.6h1.2M760.3 225.6h-1.2M683.9 223.4h1.2M760.3 223.4h-1.2M683.9 221.6h1.2M760.3 221.6h-1.2M683.9 220.0h1.2M760.3 220.0h-1.2M683.9 218.6h1.2M760.3 218.6h-1.2M685.3 299.0v-1.0M685.3 217.4v1.0M686.7 299.0v-1.0M686.7 217.4v1.0M687.9 299.0v-1.0M687.9 217.4v1.0M688.9 299.0v-1.0M688.9 217.4v1.0M689.9 299.0v-2.2M689.9 217.4v2.2M696.0 299.0v-1.0M696.0 217.4v1.0M699.6 299.0v-1.0M699.6 217.4v1.0M702.1 299.0v-1.0M702.1 217.4v1.0M704.1 299.0v-1.0M704.1 217.4v1.0M705.7 299.0v-1.0M705.7 217.4v1.0M707.1 299.0v-1.0M707.1 217.4v1.0M708.3 299.0v-1.0M708.3 217.4v1.0M709.3 299.0v-1.0M709.3 217.4v1.0M710.2 299.0v-2.2M710.2 217.4v2.2M716.4 299.0v-1.0M716.4 217.4v1.0M720.0 299.0v-1.0M720.0 217.4v1.0M722.5 299.0v-1.0M722.5 217.4v1.0M724.5 299.0v-1.0M724.5 217.4v1.0M726.1 299.0v-1.0M726.1 217.4v1.0M727.5 299.0v-1.0M727.5 217.4v1.0M728.7 299.0v-1.0M728.7 217.4v1.0M729.7 299.0v-1.0M729.7 217.4v1.0M730.6 299.0v-2.2M730.6 217.4v2.2M736.8 299.0v-1.0M736.8 217.4v1.0M740.4 299.0v-1.0M740.4 217.4v1.0M742.9 299.0v-1.0M742.9 217.4v1.0M744.9 299.0v-1.0M744.9 217.4v1.0M746.5 299.0v-1.0M746.5 217.4v1.0M747.9 299.0v-1.0M747.9 217.4v1.0M749.1 299.0v-1.0M749.1 217.4v1.0M750.1 299.0v-1.0M750.1 217.4v1.0M751.1 299.0v-2.2M751.1 217.4v2.2M757.2 299.0v-1.0M757.2 217.4v1.0M454.5 373.8h1.2M531.0 373.8h-1.2M454.5 368.9h1.2M531.0 368.9h-1.2M454.5 365.4h1.2M531.0 365.4h-1.2M454.5 362.7h1.2M531.0 362.7h-1.2M454.5 360.5h1.2M531.0 360.5h-1.2M454.5 358.7h1.2M531.0 358.7h-1.2M454.5 357.1h1.2M531.0 357.1h-1.2M454.5 355.7h1.2M531.0 355.7h-1.2M454.5 354.4h2.2M531.0 354.4h-2.2M454.5 346.1h1.2M531.0 346.1h-1.2M454.5 341.2h1.2M531.0 341.2h-1.2M454.5 337.7h1.2M531.0 337.7h-1.2M454.5 335.0h1.2M531.0 335.0h-1.2M454.5 332.8h1.2M531.0 332.8h-1.2M454.5 331.0h1.2M531.0 331.0h-1.2M454.5 329.4h1.2M531.0 329.4h-1.2M454.5 328.0h1.2M531.0 328.0h-1.2M454.5 326.7h2.2M531.0 326.7h-2.2M454.5 318.4h1.2M531.0 318.4h-1.2M454.5 313.5h1.2M531.0 313.5h-1.2M454.5 310.0h1.2M531.0 310.0h-1.2M454.5 307.3h1.2M531.0 307.3h-1.2M454.5 305.1h1.2M531.0 305.1h-1.2M454.5 303.3h1.2M531.0 303.3h-1.2M454.5 301.7h1.2M531.0 301.7h-1.2M454.5 300.3h1.2M531.0 300.3h-1.2M456.0 382.1v-1.0M456.0 299.0v1.0M457.3 382.1v-1.0M457.3 299.0v1.0M458.5 382.1v-1.0M458.5 299.0v1.0M459.6 382.1v-1.0M459.6 299.0v1.0M460.5 382.1v-2.2M460.5 299.0v2.2M466.6 382.1v-1.0M466.6 299.0v1.0M470.2 382.1v-1.0M470.2 299.0v1.0M472.8 382.1v-1.0M472.8 299.0v1.0M474.8 382.1v-1.0M474.8 299.0v1.0M476.4 382.1v-1.0M476.4 299.0v1.0M477.7 382.1v-1.0M477.7 299.0v1.0M478.9 382.1v-1.0M478.9 299.0v1.0M480.0 382.1v-1.0M480.0 299.0v1.0M480.9 382.1v-2.2M480.9 299.0v2.2M487.0 382.1v-1.0M487.0 299.0v1.0M490.6 382.1v-1.0M490.6 299.0v1.0M493.2 382.1v-1.0M493.2 299.0v1.0M495.2 382.1v-1.0M495.2 299.0v1.0M496.8 382.1v-1.0M496.8 299.0v1.0M498.1 382.1v-1.0M498.1 299.0v1.0M499.3 382.1v-1.0M499.3 299.0v1.0M500.4 382.1v-1.0M500.4 299.0v1.0M501.3 382.1v-2.2M501.3 299.0v2.2M507.4 382.1v-1.0M507.4 299.0v1.0M511.0 382.1v-1.0M511.0 299.0v1.0M513.6 382.1v-1.0M513.6 299.0v1.0M515.6 382.1v-1.0M515.6 299.0v1.0M517.2 382.1v-1.0M517.2 299.0v1.0M518.5 382.1v-1.0M518.5 299.0v1.0M519.7 382.1v-1.0M519.7 299.0v1.0M520.8 382.1v-1.0M520.8 299.0v1.0M521.7 382.1v-2.2M521.7 299.0v2.2M527.8 382.1v-1.0M527.8 299.0v1.0M531.0 373.8h1.2M607.4 373.8h-1.2M531.0 368.9h1.2M607.4 368.9h-1.2M531.0 365.4h1.2M607.4 365.4h-1.2M531.0 362.7h1.2M607.4 362.7h-1.2M531.0 360.5h1.2M607.4 360.5h-1.2M531.0 358.7h1.2M607.4 358.7h-1.2M531.0 357.1h1.2M607.4 357.1h-1.2M531.0 355.7h1.2M607.4 355.7h-1.2M531.0 354.4h2.2M607.4 354.4h-2.2M531.0 346.1h1.2M607.4 346.1h-1.2M531.0 341.2h1.2M607.4 341.2h-1.2M531.0 337.7h1.2M607.4 337.7h-1.2M531.0 335.0h1.2M607.4 335.0h-1.2M531.0 332.8h1.2M607.4 332.8h-1.2M531.0 331.0h1.2M607.4 331.0h-1.2M531.0 329.4h1.2M607.4 329.4h-1.2M531.0 328.0h1.2M607.4 328.0h-1.2M531.0 326.7h2.2M607.4 326.7h-2.2M531.0 318.4h1.2M607.4 318.4h-1.2M531.0 313.5h1.2M607.4 313.5h-1.2M531.0 310.0h1.2M607.4 310.0h-1.2M531.0 307.3h1.2M607.4 307.3h-1.2M531.0 305.1h1.2M607.4 305.1h-1.2M531.0 303.3h1.2M607.4 303.3h-1.2M531.0 301.7h1.2M607.4 301.7h-1.2M531.0 300.3h1.2M607.4 300.3h-1.2M532.4 382.1v-1.0M532.4 299.0v1.0M533.8 382.1v-1.0M533.8 299.0v1.0M535.0 382.1v-1.0M535.0 299.0v1.0M536.0 382.1v-1.0M536.0 299.0v1.0M537.0 382.1v-2.2M537.0 299.0v2.2M543.1 382.1v-1.0M543.1 299.0v1.0M546.7 382.1v-1.0M546.7 299.0v1.0M549.2 382.1v-1.0M549.2 299.0v1.0M551.2 382.1v-1.0M551.2 299.0v1.0M552.8 382.1v-1.0M552.8 299.0v1.0M554.2 382.1v-1.0M554.2 299.0v1.0M555.4 382.1v-1.0M555.4 299.0v1.0M556.4 382.1v-1.0M556.4 299.0v1.0M557.4 382.1v-2.2M557.4 299.0v2.2M563.5 382.1v-1.0M563.5 299.0v1.0M567.1 382.1v-1.0M567.1 299.0v1.0M569.6 382.1v-1.0M569.6 299.0v1.0M571.6 382.1v-1.0M571.6 299.0v1.0M573.2 382.1v-1.0M573.2 299.0v1.0M574.6 382.1v-1.0M574.6 299.0v1.0M575.8 382.1v-1.0M575.8 299.0v1.0M576.8 382.1v-1.0M576.8 299.0v1.0M577.8 382.1v-2.2M577.8 299.0v2.2M583.9 382.1v-1.0M583.9 299.0v1.0M587.5 382.1v-1.0M587.5 299.0v1.0M590.0 382.1v-1.0M590.0 299.0v1.0M592.0 382.1v-1.0M592.0 299.0v1.0M593.6 382.1v-1.0M593.6 299.0v1.0M595.0 382.1v-1.0M595.0 299.0v1.0M596.2 382.1v-1.0M596.2 299.0v1.0M597.2 382.1v-1.0M597.2 299.0v1.0M598.2 382.1v-2.2M598.2 299.0v2.2M604.3 382.1v-1.0M604.3 299.0v1.0M607.4 373.8h1.2M683.9 373.8h-1.2M607.4 368.9h1.2M683.9 368.9h-1.2M607.4 365.4h1.2M683.9 365.4h-1.2M607.4 362.7h1.2M683.9 362.7h-1.2M607.4 360.5h1.2M683.9 360.5h-1.2M607.4 358.7h1.2M683.9 358.7h-1.2M607.4 357.1h1.2M683.9 357.1h-1.2M607.4 355.7h1.2M683.9 355.7h-1.2M607.4 354.4h2.2M683.9 354.4h-2.2M607.4 346.1h1.2M683.9 346.1h-1.2M607.4 341.2h1.2M683.9 341.2h-1.2M607.4 337.7h1.2M683.9 337.7h-1.2M607.4 335.0h1.2M683.9 335.0h-1.2M607.4 332.8h1.2M683.9 332.8h-1.2M607.4 331.0h1.2M683.9 331.0h-1.2M607.4 329.4h1.2M683.9 329.4h-1.2M607.4 328.0h1.2M683.9 328.0h-1.2M607.4 326.7h2.2M683.9 326.7h-2.2M607.4 318.4h1.2M683.9 318.4h-1.2M607.4 313.5h1.2M683.9 313.5h-1.2M607.4 310.0h1.2M683.9 310.0h-1.2M607.4 307.3h1.2M683.9 307.3h-1.2M607.4 305.1h1.2M683.9 305.1h-1.2M607.4 303.3h1.2M683.9 303.3h-1.2M607.4 301.7h1.2M683.9 301.7h-1.2M607.4 300.3h1.2M683.9 300.3h-1.2M608.9 382.1v-1.0M608.9 299.0v1.0M610.2 382.1v-1.0M610.2 299.0v1.0M611.4 382.1v-1.0M611.4 299.0v1.0M612.5 382.1v-1.0M612.5 299.0v1.0M613.4 382.1v-2.2M613.4 299.0v2.2M619.5 382.1v-1.0M619.5 299.0v1.0M623.1 382.1v-1.0M623.1 299.0v1.0M625.7 382.1v-1.0M625.7 299.0v1.0M627.7 382.1v-1.0M627.7 299.0v1.0M629.3 382.1v-1.0M629.3 299.0v1.0M630.6 382.1v-1.0M630.6 299.0v1.0M631.8 382.1v-1.0M631.8 299.0v1.0M632.9 382.1v-1.0M632.9 299.0v1.0M633.8 382.1v-2.2M633.8 299.0v2.2M639.9 382.1v-1.0M639.9 299.0v1.0M643.5 382.1v-1.0M643.5 299.0v1.0M646.1 382.1v-1.0M646.1 299.0v1.0M648.1 382.1v-1.0M648.1 299.0v1.0M649.7 382.1v-1.0M649.7 299.0v1.0M651.0 382.1v-1.0M651.0 299.0v1.0M652.2 382.1v-1.0M652.2 299.0v1.0M653.3 382.1v-1.0M653.3 299.0v1.0M654.2 382.1v-2.2M654.2 299.0v2.2M660.3 382.1v-1.0M660.3 299.0v1.0M663.9 382.1v-1.0M663.9 299.0v1.0M666.5 382.1v-1.0M666.5 299.0v1.0M668.5 382.1v-1.0M668.5 299.0v1.0M670.1 382.1v-1.0M670.1 299.0v1.0M671.4 382.1v-1.0M671.4 299.0v1.0M672.6 382.1v-1.0M672.6 299.0v1.0M673.7 382.1v-1.0M673.7 299.0v1.0M674.6 382.1v-2.2M674.6 299.0v2.2M680.7 382.1v-1.0M680.7 299.0v1.0M683.9 373.8h1.2M760.3 373.8h-1.2M683.9 368.9h1.2M760.3 368.9h-1.2M683.9 365.4h1.2M760.3 365.4h-1.2M683.9 362.7h1.2M760.3 362.7h-1.2M683.9 360.5h1.2M760.3 360.5h-1.2M683.9 358.7h1.2M760.3 358.7h-1.2M683.9 357.1h1.2M760.3 357.1h-1.2M683.9 355.7h1.2M760.3 355.7h-1.2M683.9 354.4h2.2M760.3 354.4h-2.2M683.9 346.1h1.2M760.3 346.1h-1.2M683.9 341.2h1.2M760.3 341.2h-1.2M683.9 337.7h1.2M760.3 337.7h-1.2M683.9 335.0h1.2M760.3 335.0h-1.2M683.9 332.8h1.2M760.3 332.8h-1.2M683.9 331.0h1.2M760.3 331.0h-1.2M683.9 329.4h1.2M760.3 329.4h-1.2M683.9 328.0h1.2M760.3 328.0h-1.2M683.9 326.7h2.2M760.3 326.7h-2.2M683.9 318.4h1.2M760.3 318.4h-1.2M683.9 313.5h1.2M760.3 313.5h-1.2M683.9 310.0h1.2M760.3 310.0h-1.2M683.9 307.3h1.2M760.3 307.3h-1.2M683.9 305.1h1.2M760.3 305.1h-1.2M683.9 303.3h1.2M760.3 303.3h-1.2M683.9 301.7h1.2M760.3 301.7h-1.2M683.9 300.3h1.2M760.3 300.3h-1.2M685.3 382.1v-1.0M685.3 299.0v1.0M686.7 382.1v-1.0M686.7 299.0v1.0M687.9 382.1v-1.0M687.9 299.0v1.0M688.9 382.1v-1.0M688.9 299.0v1.0M689.9 382.1v-2.2M689.9 299.0v2.2M696.0 382.1v-1.0M696.0 299.0v1.0M699.6 382.1v-1.0M699.6 299.0v1.0M702.1 382.1v-1.0M702.1 299.0v1.0M704.1 382.1v-1.0M704.1 299.0v1.0M705.7 382.1v-1.0M705.7 299.0v1.0M707.1 382.1v-1.0M707.1 299.0v1.0M708.3 382.1v-1.0M708.3 299.0v1.0M709.3 382.1v-1.0M709.3 299.0v1.0M710.2 382.1v-2.2M710.2 299.0v2.2M716.4 382.1v-1.0M716.4 299.0v1.0M720.0 382.1v-1.0M720.0 299.0v1.0M722.5 382.1v-1.0M722.5 299.0v1.0M724.5 382.1v-1.0M724.5 299.0v1.0M726.1 382.1v-1.0M726.1 299.0v1.0M727.5 382.1v-1.0M727.5 299.0v1.0M728.7 382.1v-1.0M728.7 299.0v1.0M729.7 382.1v-1.0M729.7 299.0v1.0M730.6 382.1v-2.2M730.6 299.0v2.2M736.8 382.1v-1.0M736.8 299.0v1.0M740.4 382.1v-1.0M740.4 299.0v1.0M742.9 382.1v-1.0M742.9 299.0v1.0M744.9 382.1v-1.0M744.9 299.0v1.0M746.5 382.1v-1.0M746.5 299.0v1.0M747.9 382.1v-1.0M747.9 299.0v1.0M749.1 382.1v-1.0M749.1 299.0v1.0M750.1 382.1v-1.0M750.1 299.0v1.0M751.1 382.1v-2.2M751.1 299.0v2.2M757.2 382.1v-1.0M757.2 299.0v1.0M454.5 456.1h1.2M531.0 456.1h-1.2M454.5 451.2h1.2M531.0 451.2h-1.2M454.5 447.8h1.2M531.0 447.8h-1.2M454.5 445.1h1.2M531.0 445.1h-1.2M454.5 443.0h1.2M531.0 443.0h-1.2M454.5 441.1h1.2M531.0 441.1h-1.2M454.5 439.6h1.2M531.0 439.6h-1.2M454.5 438.2h1.2M531.0 438.2h-1.2M454.5 436.9h2.2M531.0 436.9h-2.2M454.5 428.7h1.2M531.0 428.7h-1.2M454.5 423.8h1.2M531.0 423.8h-1.2M454.5 420.4h1.2M531.0 420.4h-1.2M454.5 417.7h1.2M531.0 417.7h-1.2M454.5 415.6h1.2M531.0 415.6h-1.2M454.5 413.7h1.2M531.0 413.7h-1.2M454.5 412.2h1.2M531.0 412.2h-1.2M454.5 410.8h1.2M531.0 410.8h-1.2M454.5 409.5h2.2M531.0 409.5h-2.2M454.5 401.3h1.2M531.0 401.3h-1.2M454.5 396.4h1.2M531.0 396.4h-1.2M454.5 393.0h1.2M531.0 393.0h-1.2M454.5 390.3h1.2M531.0 390.3h-1.2M454.5 388.2h1.2M531.0 388.2h-1.2M454.5 386.3h1.2M531.0 386.3h-1.2M454.5 384.8h1.2M531.0 384.8h-1.2M454.5 383.4h1.2M531.0 383.4h-1.2M456.0 464.3v-1.0M456.0 382.1v1.0M457.3 464.3v-1.0M457.3 382.1v1.0M458.5 464.3v-1.0M458.5 382.1v1.0M459.6 464.3v-1.0M459.6 382.1v1.0M460.5 464.3v-2.2M460.5 382.1v2.2M466.6 464.3v-1.0M466.6 382.1v1.0M470.2 464.3v-1.0M470.2 382.1v1.0M472.8 464.3v-1.0M472.8 382.1v1.0M474.8 464.3v-1.0M474.8 382.1v1.0M476.4 464.3v-1.0M476.4 382.1v1.0M477.7 464.3v-1.0M477.7 382.1v1.0M478.9 464.3v-1.0M478.9 382.1v1.0M480.0 464.3v-1.0M480.0 382.1v1.0M480.9 464.3v-2.2M480.9 382.1v2.2M487.0 464.3v-1.0M487.0 382.1v1.0M490.6 464.3v-1.0M490.6 382.1v1.0M493.2 464.3v-1.0M493.2 382.1v1.0M495.2 464.3v-1.0M495.2 382.1v1.0M496.8 464.3v-1.0M496.8 382.1v1.0M498.1 464.3v-1.0M498.1 382.1v1.0M499.3 464.3v-1.0M499.3 382.1v1.0M500.4 464.3v-1.0M500.4 382.1v1.0M501.3 464.3v-2.2M501.3 382.1v2.2M507.4 464.3v-1.0M507.4 382.1v1.0M511.0 464.3v-1.0M511.0 382.1v1.0M513.6 464.3v-1.0M513.6 382.1v1.0M515.6 464.3v-1.0M515.6 382.1v1.0M517.2 464.3v-1.0M517.2 382.1v1.0M518.5 464.3v-1.0M518.5 382.1v1.0M519.7 464.3v-1.0M519.7 382.1v1.0M520.8 464.3v-1.0M520.8 382.1v1.0M521.7 464.3v-2.2M521.7 382.1v2.2M527.8 464.3v-1.0M527.8 382.1v1.0M531.0 456.1h1.2M607.4 456.1h-1.2M531.0 451.2h1.2M607.4 451.2h-1.2M531.0 447.8h1.2M607.4 447.8h-1.2M531.0 445.1h1.2M607.4 445.1h-1.2M531.0 443.0h1.2M607.4 443.0h-1.2M531.0 441.1h1.2M607.4 441.1h-1.2M531.0 439.6h1.2M607.4 439.6h-1.2M531.0 438.2h1.2M607.4 438.2h-1.2M531.0 436.9h2.2M607.4 436.9h-2.2M531.0 428.7h1.2M607.4 428.7h-1.2M531.0 423.8h1.2M607.4 423.8h-1.2M531.0 420.4h1.2M607.4 420.4h-1.2M531.0 417.7h1.2M607.4 417.7h-1.2M531.0 415.6h1.2M607.4 415.6h-1.2M531.0 413.7h1.2M607.4 413.7h-1.2M531.0 412.2h1.2M607.4 412.2h-1.2M531.0 410.8h1.2M607.4 410.8h-1.2M531.0 409.5h2.2M607.4 409.5h-2.2M531.0 401.3h1.2M607.4 401.3h-1.2M531.0 396.4h1.2M607.4 396.4h-1.2M531.0 393.0h1.2M607.4 393.0h-1.2M531.0 390.3h1.2M607.4 390.3h-1.2M531.0 388.2h1.2M607.4 388.2h-1.2M531.0 386.3h1.2M607.4 386.3h-1.2M531.0 384.8h1.2M607.4 384.8h-1.2M531.0 383.4h1.2M607.4 383.4h-1.2M532.4 464.3v-1.0M532.4 382.1v1.0M533.8 464.3v-1.0M533.8 382.1v1.0M535.0 464.3v-1.0M535.0 382.1v1.0M536.0 464.3v-1.0M536.0 382.1v1.0M537.0 464.3v-2.2M537.0 382.1v2.2M543.1 464.3v-1.0M543.1 382.1v1.0M546.7 464.3v-1.0M546.7 382.1v1.0M549.2 464.3v-1.0M549.2 382.1v1.0M551.2 464.3v-1.0M551.2 382.1v1.0M552.8 464.3v-1.0M552.8 382.1v1.0M554.2 464.3v-1.0M554.2 382.1v1.0M555.4 464.3v-1.0M555.4 382.1v1.0M556.4 464.3v-1.0M556.4 382.1v1.0M557.4 464.3v-2.2M557.4 382.1v2.2M563.5 464.3v-1.0M563.5 382.1v1.0M567.1 464.3v-1.0M567.1 382.1v1.0M569.6 464.3v-1.0M569.6 382.1v1.0M571.6 464.3v-1.0M571.6 382.1v1.0M573.2 464.3v-1.0M573.2 382.1v1.0M574.6 464.3v-1.0M574.6 382.1v1.0M575.8 464.3v-1.0M575.8 382.1v1.0M576.8 464.3v-1.0M576.8 382.1v1.0M577.8 464.3v-2.2M577.8 382.1v2.2M583.9 464.3v-1.0M583.9 382.1v1.0M587.5 464.3v-1.0M587.5 382.1v1.0M590.0 464.3v-1.0M590.0 382.1v1.0M592.0 464.3v-1.0M592.0 382.1v1.0M593.6 464.3v-1.0M593.6 382.1v1.0M595.0 464.3v-1.0M595.0 382.1v1.0M596.2 464.3v-1.0M596.2 382.1v1.0M597.2 464.3v-1.0M597.2 382.1v1.0M598.2 464.3v-2.2M598.2 382.1v2.2M604.3 464.3v-1.0M604.3 382.1v1.0M607.4 456.1h1.2M683.9 456.1h-1.2M607.4 451.2h1.2M683.9 451.2h-1.2M607.4 447.8h1.2M683.9 447.8h-1.2M607.4 445.1h1.2M683.9 445.1h-1.2M607.4 443.0h1.2M683.9 443.0h-1.2M607.4 441.1h1.2M683.9 441.1h-1.2M607.4 439.6h1.2M683.9 439.6h-1.2M607.4 438.2h1.2M683.9 438.2h-1.2M607.4 436.9h2.2M683.9 436.9h-2.2M607.4 428.7h1.2M683.9 428.7h-1.2M607.4 423.8h1.2M683.9 423.8h-1.2M607.4 420.4h1.2M683.9 420.4h-1.2M607.4 417.7h1.2M683.9 417.7h-1.2M607.4 415.6h1.2M683.9 415.6h-1.2M607.4 413.7h1.2M683.9 413.7h-1.2M607.4 412.2h1.2M683.9 412.2h-1.2M607.4 410.8h1.2M683.9 410.8h-1.2M607.4 409.5h2.2M683.9 409.5h-2.2M607.4 401.3h1.2M683.9 401.3h-1.2M607.4 396.4h1.2M683.9 396.4h-1.2M607.4 393.0h1.2M683.9 393.0h-1.2M607.4 390.3h1.2M683.9 390.3h-1.2M607.4 388.2h1.2M683.9 388.2h-1.2M607.4 386.3h1.2M683.9 386.3h-1.2M607.4 384.8h1.2M683.9 384.8h-1.2M607.4 383.4h1.2M683.9 383.4h-1.2M608.9 464.3v-1.0M608.9 382.1v1.0M610.2 464.3v-1.0M610.2 382.1v1.0M611.4 464.3v-1.0M611.4 382.1v1.0M612.5 464.3v-1.0M612.5 382.1v1.0M613.4 464.3v-2.2M613.4 382.1v2.2M619.5 464.3v-1.0M619.5 382.1v1.0M623.1 464.3v-1.0M623.1 382.1v1.0M625.7 464.3v-1.0M625.7 382.1v1.0M627.7 464.3v-1.0M627.7 382.1v1.0M629.3 464.3v-1.0M629.3 382.1v1.0M630.6 464.3v-1.0M630.6 382.1v1.0M631.8 464.3v-1.0M631.8 382.1v1.0M632.9 464.3v-1.0M632.9 382.1v1.0M633.8 464.3v-2.2M633.8 382.1v2.2M639.9 464.3v-1.0M639.9 382.1v1.0M643.5 464.3v-1.0M643.5 382.1v1.0M646.1 464.3v-1.0M646.1 382.1v1.0M648.1 464.3v-1.0M648.1 382.1v1.0M649.7 464.3v-1.0M649.7 382.1v1.0M651.0 464.3v-1.0M651.0 382.1v1.0M652.2 464.3v-1.0M652.2 382.1v1.0M653.3 464.3v-1.0M653.3 382.1v1.0M654.2 464.3v-2.2M654.2 382.1v2.2M660.3 464.3v-1.0M660.3 382.1v1.0M663.9 464.3v-1.0M663.9 382.1v1.0M666.5 464.3v-1.0M666.5 382.1v1.0M668.5 464.3v-1.0M668.5 382.1v1.0M670.1 464.3v-1.0M670.1 382.1v1.0M671.4 464.3v-1.0M671.4 382.1v1.0M672.6 464.3v-1.0M672.6 382.1v1.0M673.7 464.3v-1.0M673.7 382.1v1.0M674.6 464.3v-2.2M674.6 382.1v2.2M680.7 464.3v-1.0M680.7 382.1v1.0M683.9 456.1h1.2M760.3 456.1h-1.2M683.9 451.2h1.2M760.3 451.2h-1.2M683.9 447.8h1.2M760.3 447.8h-1.2M683.9 445.1h1.2M760.3 445.1h-1.2M683.9 443.0h1.2M760.3 443.0h-1.2M683.9 441.1h1.2M760.3 441.1h-1.2M683.9 439.6h1.2M760.3 439.6h-1.2M683.9 438.2h1.2M760.3 438.2h-1.2M683.9 436.9h2.2M760.3 436.9h-2.2M683.9 428.7h1.2M760.3 428.7h-1.2M683.9 423.8h1.2M760.3 423.8h-1.2M683.9 420.4h1.2M760.3 420.4h-1.2M683.9 417.7h1.2M760.3 417.7h-1.2M683.9 415.6h1.2M760.3 415.6h-1.2M683.9 413.7h1.2M760.3 413.7h-1.2M683.9 412.2h1.2M760.3 412.2h-1.2M683.9 410.8h1.2M760.3 410.8h-1.2M683.9 409.5h2.2M760.3 409.5h-2.2M683.9 401.3h1.2M760.3 401.3h-1.2M683.9 396.4h1.2M760.3 396.4h-1.2M683.9 393.0h1.2M760.3 393.0h-1.2M683.9 390.3h1.2M760.3 390.3h-1.2M683.9 388.2h1.2M760.3 388.2h-1.2M683.9 386.3h1.2M760.3 386.3h-1.2M683.9 384.8h1.2M760.3 384.8h-1.2M683.9 383.4h1.2M760.3 383.4h-1.2M685.3 464.3v-1.0M685.3 382.1v1.0M686.7 464.3v-1.0M686.7 382.1v1.0M687.9 464.3v-1.0M687.9 382.1v1.0M688.9 464.3v-1.0M688.9 382.1v1.0M689.9 464.3v-2.2M689.9 382.1v2.2M696.0 464.3v-1.0M696.0 382.1v1.0M699.6 464.3v-1.0M699.6 382.1v1.0M702.1 464.3v-1.0M702.1 382.1v1.0M704.1 464.3v-1.0M704.1 382.1v1.0M705.7 464.3v-1.0M705.7 382.1v1.0M707.1 464.3v-1.0M707.1 382.1v1.0M708.3 464.3v-1.0M708.3 382.1v1.0M709.3 464.3v-1.0M709.3 382.1v1.0M710.2 464.3v-2.2M710.2 382.1v2.2M716.4 464.3v-1.0M716.4 382.1v1.0M720.0 464.3v-1.0M720.0 382.1v1.0M722.5 464.3v-1.0M722.5 382.1v1.0M724.5 464.3v-1.0M724.5 382.1v1.0M726.1 464.3v-1.0M726.1 382.1v1.0M727.5 464.3v-1.0M727.5 382.1v1.0M728.7 464.3v-1.0M728.7 382.1v1.0M729.7 464.3v-1.0M729.7 382.1v1.0M730.6 464.3v-2.2M730.6 382.1v2.2M736.8 464.3v-1.0M736.8 382.1v1.0M740.4 464.3v-1.0M740.4 382.1v1.0M742.9 464.3v-1.0M742.9 382.1v1.0M744.9 464.3v-1.0M744.9 382.1v1.0M746.5 464.3v-1.0M746.5 382.1v1.0M747.9 464.3v-1.0M747.9 382.1v1.0M749.1 464.3v-1.0M749.1 382.1v1.0M750.1 464.3v-1.0M750.1 382.1v1.0M751.1 464.3v-2.2M751.1 382.1v2.2M757.2 464.3v-1.0M757.2 382.1v1.0" stroke="#444" stroke-width="0.7" fill="none"/>
<text transform="translate(422.26,226.7)" x="-1.31" font-size="17.5" fill="#262626">10</text>
<text transform="translate(440.86,218.2)" x="-0.68" font-size="13.5" fill="#262626">2</text>
<text transform="translate(422.53,253.9)" x="-1.31" font-size="17.5" fill="#262626">10</text>
<text transform="translate(441.13,245.4)" x="-1.01" font-size="13.5" fill="#262626">1</text>
<text transform="translate(421.92,281.1)" x="-1.31" font-size="17.5" fill="#262626">10</text>
<text transform="translate(440.52,272.6)" x="-0.54" font-size="13.5" fill="#262626">0</text>
<text transform="translate(422.26,308.3)" x="-1.31" font-size="17.5" fill="#262626">10</text>
<text transform="translate(440.86,299.8)" x="-0.68" font-size="13.5" fill="#262626">2</text>
<text transform="translate(422.53,336)" x="-1.31" font-size="17.5" fill="#262626">10</text>
<text transform="translate(441.13,327.5)" x="-1.01" font-size="13.5" fill="#262626">1</text>
<text transform="translate(421.92,363.7)" x="-1.31" font-size="17.5" fill="#262626">10</text>
<text transform="translate(440.52,355.2)" x="-0.54" font-size="13.5" fill="#262626">0</text>
<text transform="translate(422.26,391.4)" x="-1.31" font-size="17.5" fill="#262626">10</text>
<text transform="translate(440.86,382.9)" x="-0.68" font-size="13.5" fill="#262626">2</text>
<text transform="translate(422.53,418.8)" x="-1.31" font-size="17.5" fill="#262626">10</text>
<text transform="translate(441.13,410.3)" x="-1.01" font-size="13.5" fill="#262626">1</text>
<text transform="translate(421.92,446.2)" x="-1.31" font-size="17.5" fill="#262626">10</text>
<text transform="translate(440.52,437.7)" x="-0.54" font-size="13.5" fill="#262626">0</text>
<text transform="translate(417.6,473.6)" x="-1.31" font-size="17.5" fill="#262626">10</text>
<text transform="translate(436.2,465.1)" x="-0.61" font-size="13.5" fill="#262626">-1</text>
<text transform="translate(469.5,500.8) rotate(-90)" x="-1.31" font-size="17.5" fill="#262626">10</text>
<text transform="translate(461.8,482.2) rotate(-90)" x="-0.61" font-size="13.5" fill="#262626">-2</text>
<text transform="translate(489.9,500.9) rotate(-90)" x="-1.31" font-size="17.5" fill="#262626">10</text>
<text transform="translate(482.2,482.3) rotate(-90)" x="-0.61" font-size="13.5" fill="#262626">-1</text>
<text transform="translate(510.3,496.6) rotate(-90)" x="-1.31" font-size="17.5" fill="#262626">10</text>
<text transform="translate(502.6,478.0) rotate(-90)" x="-0.54" font-size="13.5" fill="#262626">0</text>
<text transform="translate(530.7,496.0) rotate(-90)" x="-1.31" font-size="17.5" fill="#262626">10</text>
<text transform="translate(523.0,477.4) rotate(-90)" x="-1.01" font-size="13.5" fill="#262626">1</text>
<text transform="translate(546.0,500.8) rotate(-90)" x="-1.31" font-size="17.5" fill="#262626">10</text>
<text transform="translate(538.2,482.2) rotate(-90)" x="-0.61" font-size="13.5" fill="#262626">-2</text>
<text transform="translate(566.4,500.9) rotate(-90)" x="-1.31" font-size="17.5" fill="#262626">10</text>
<text transform="translate(558.6,482.3) rotate(-90)" x="-0.61" font-size="13.5" fill="#262626">-1</text>
<text transform="translate(586.8,496.6) rotate(-90)" x="-1.31" font-size="17.5" fill="#262626">10</text>
<text transform="translate(579.0,478.0) rotate(-90)" x="-0.54" font-size="13.5" fill="#262626">0</text>
<text transform="translate(607.2,496.0) rotate(-90)" x="-1.31" font-size="17.5" fill="#262626">10</text>
<text transform="translate(599.5,477.4) rotate(-90)" x="-1.01" font-size="13.5" fill="#262626">1</text>
<text transform="translate(622.4,500.8) rotate(-90)" x="-1.31" font-size="17.5" fill="#262626">10</text>
<text transform="translate(614.7,482.2) rotate(-90)" x="-0.61" font-size="13.5" fill="#262626">-2</text>
<text transform="translate(642.8,500.9) rotate(-90)" x="-1.31" font-size="17.5" fill="#262626">10</text>
<text transform="translate(635.1,482.3) rotate(-90)" x="-0.61" font-size="13.5" fill="#262626">-1</text>
<text transform="translate(663.2,496.6) rotate(-90)" x="-1.31" font-size="17.5" fill="#262626">10</text>
<text transform="translate(655.5,478.0) rotate(-90)" x="-0.54" font-size="13.5" fill="#262626">0</text>
<text transform="translate(683.6,496.0) rotate(-90)" x="-1.31" font-size="17.5" fill="#262626">10</text>
<text transform="translate(675.9,477.4) rotate(-90)" x="-1.01" font-size="13.5" fill="#262626">1</text>
<text transform="translate(698.9,500.8) rotate(-90)" x="-1.31" font-size="17.5" fill="#262626">10</text>
<text transform="translate(691.1,482.2) rotate(-90)" x="-0.61" font-size="13.5" fill="#262626">-2</text>
<text transform="translate(719.2,500.9) rotate(-90)" x="-1.31" font-size="17.5" fill="#262626">10</text>
<text transform="translate(711.5,482.3) rotate(-90)" x="-0.61" font-size="13.5" fill="#262626">-1</text>
<text transform="translate(739.6,496.6) rotate(-90)" x="-1.31" font-size="17.5" fill="#262626">10</text>
<text transform="translate(731.9,478.0) rotate(-90)" x="-0.54" font-size="13.5" fill="#262626">0</text>
<text transform="translate(760.1,496.0) rotate(-90)" x="-1.31" font-size="17.5" fill="#262626">10</text>
<text transform="translate(752.4,477.4) rotate(-90)" x="-1.01" font-size="13.5" fill="#262626">1</text>
<text transform="translate(463.44,208.1)" x="-0.7" font-size="15.5" fill="#000">-5.62</text>
<text transform="translate(497.7,208.1)" x="-0.23" font-size="15.5" fill="#000" font-style="italic">k</text>
<text transform="translate(505.84,211.7)" x="-0.64" font-size="8" fill="#000">B</text>
<text transform="translate(512.42,208.1)" x="-1.4" font-size="15.5" fill="#000" font-style="italic">T</text>
<text transform="translate(539.89,208.1)" x="-0.7" font-size="15.5" fill="#000">-7.62</text>
<text transform="translate(574.16,208.1)" x="-0.23" font-size="15.5" fill="#000" font-style="italic">k</text>
<text transform="translate(582.29,211.7)" x="-0.64" font-size="8" fill="#000">B</text>
<text transform="translate(588.87,208.1)" x="-1.4" font-size="15.5" fill="#000" font-style="italic">T</text>
<text transform="translate(616.34,208.1)" x="-0.7" font-size="15.5" fill="#000">-9.62</text>
<text transform="translate(650.61,208.1)" x="-0.23" font-size="15.5" fill="#000" font-style="italic">k</text>
<text transform="translate(658.74,211.7)" x="-0.64" font-size="8" fill="#000">B</text>
<text transform="translate(665.32,208.1)" x="-1.4" font-size="15.5" fill="#000" font-style="italic">T</text>
<text transform="translate(689.07,208.1)" x="-0.7" font-size="15.5" fill="#000">-11.62</text>
<text transform="translate(730.78,208.1)" x="-0.23" font-size="15.5" fill="#000" font-style="italic">k</text>
<text transform="translate(738.91,211.7)" x="-0.64" font-size="8" fill="#000">B</text>
<text transform="translate(745.49,208.1)" x="-1.4" font-size="15.5" fill="#000" font-style="italic">T</text>
<text transform="translate(559.6,233) scale(1.033,1)" x="-1.27" font-size="17" fill="#EDB120">17%</text>
<text transform="translate(640,233) scale(1.023,1)" x="-0.85" font-size="17" fill="#EDB120">63%</text>
<text transform="translate(683.8,232.3) scale(0.912,1)" x="-0.34" font-size="17" fill="#EDB120">Traj</text>
<text transform="translate(721.1,232.5) scale(1.017,1)" x="-0.77" font-size="17" fill="#EDB120">87%</text>
<text transform="translate(683,250.3) scale(0.933,1)" x="-0" font-size="17" fill="#EDB120">w/o events</text>
<text transform="translate(640,326.7) scale(1.044,1)" x="-0.85" font-size="17" fill="#EDB120">23%</text>
<text transform="translate(724.5,326.7) scale(1.044,1)" x="-0.85" font-size="17" fill="#EDB120">67%</text>
<text transform="translate(727.2,425.2) scale(1.041,1)" x="-0.85" font-size="17" fill="#EDB120">22%</text>
<text transform="translate(381.7,205.4) scale(1.048,1)" x="-1.05" font-size="17.5" fill="#000">(D)</text>
<text transform="translate(383.6,355.29) rotate(-90) scale(0.980,1)" font-size="18" fill="#000">On-Rate</text>
<text transform="translate(411.2,370.56) rotate(-90) scale(0.982,1)" font-size="19.5" fill="#000">Count</text>
<polygon points="420.2,193 754.2,183.2 754.2,192.6 420.2,193.2" fill="#000"/>
<polygon points="389.4,224.5 390.2,224.5 390.2,483.8 379.6,483.8" fill="#000"/>
<text transform="translate(504.1,182.3) scale(1.014,1)" x="-0.48" font-size="16" fill="#000">Δ</text>
<text transform="translate(517.1,182.3) scale(1.026,1)" x="-0.88" font-size="17.5" fill="#000" font-style="italic">G</text>
<text transform="translate(529.1,187.7) scale(1.052,1)" x="-0.7" font-size="10" fill="#000">hex</text>
<text transform="translate(588.2,525.5) scale(1.428,1)" x="-0.39" font-size="19.5" fill="#262626" font-style="italic" font-family="Liberation Serif, serif">τ</text>
<text transform="translate(603.4,525.3) scale(1.143,1)" x="-1.08" font-size="18" fill="#262626">(s)</text>
</svg></body></html>
